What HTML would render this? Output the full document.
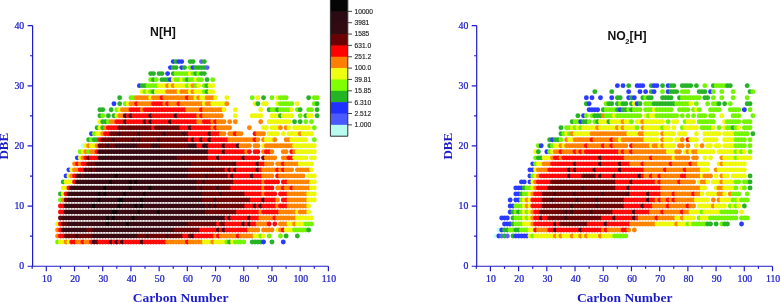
<!DOCTYPE html><html><head><meta charset="utf-8"><style>html,body{margin:0;padding:0;background:#fff;}svg{display:block;}</style></head><body>
<svg width="780" height="303" viewBox="0 0 780 303">
<rect width="780" height="303" fill="#fff"/>
<circle cx="57.58" cy="242.04" r="2.45" fill="#74f400"/>
<circle cx="60.41" cy="242.04" r="2.45" fill="#eef80a"/>
<circle cx="63.23" cy="242.04" r="2.45" fill="#eef80a"/>
<circle cx="66.05" cy="242.04" r="2.45" fill="#ff8400"/>
<circle cx="68.87" cy="242.04" r="2.45" fill="#eef80a"/>
<circle cx="71.69" cy="242.04" r="2.45" fill="#ff0a0a"/>
<circle cx="74.51" cy="242.04" r="2.45" fill="#ff0a0a"/>
<circle cx="77.33" cy="242.04" r="2.45" fill="#ff8400"/>
<circle cx="80.15" cy="242.04" r="2.45" fill="#ff8400"/>
<circle cx="82.97" cy="242.04" r="2.45" fill="#ff0a0a"/>
<circle cx="85.79" cy="242.04" r="2.45" fill="#ff8400"/>
<circle cx="88.62" cy="242.04" r="2.45" fill="#ff8400"/>
<circle cx="91.44" cy="242.04" r="2.45" fill="#ff0a0a"/>
<circle cx="94.26" cy="242.04" r="2.45" fill="#3a0a12"/>
<circle cx="97.08" cy="242.04" r="2.45" fill="#6e0404"/>
<circle cx="99.9" cy="242.04" r="2.45" fill="#ff0a0a"/>
<circle cx="102.72" cy="242.04" r="2.45" fill="#ff0a0a"/>
<circle cx="105.54" cy="242.04" r="2.45" fill="#ff0a0a"/>
<circle cx="108.36" cy="242.04" r="2.45" fill="#ff0a0a"/>
<circle cx="111.18" cy="242.04" r="2.45" fill="#3a0a12"/>
<circle cx="114" cy="242.04" r="2.45" fill="#ff0a0a"/>
<circle cx="116.83" cy="242.04" r="2.45" fill="#3a0a12"/>
<circle cx="119.65" cy="242.04" r="2.45" fill="#ff0a0a"/>
<circle cx="122.47" cy="242.04" r="2.45" fill="#3a0a12"/>
<circle cx="125.29" cy="242.04" r="2.45" fill="#ff0a0a"/>
<circle cx="128.11" cy="242.04" r="2.45" fill="#ff0a0a"/>
<circle cx="130.93" cy="242.04" r="2.45" fill="#ff0a0a"/>
<circle cx="133.75" cy="242.04" r="2.45" fill="#ff0a0a"/>
<circle cx="136.57" cy="242.04" r="2.45" fill="#ff0a0a"/>
<circle cx="139.39" cy="242.04" r="2.45" fill="#ff0a0a"/>
<circle cx="142.21" cy="242.04" r="2.45" fill="#3a0a12"/>
<circle cx="145.03" cy="242.04" r="2.45" fill="#ff0a0a"/>
<circle cx="147.86" cy="242.04" r="2.45" fill="#ff0a0a"/>
<circle cx="150.68" cy="242.04" r="2.45" fill="#ff0a0a"/>
<circle cx="153.5" cy="242.04" r="2.45" fill="#ff0a0a"/>
<circle cx="156.32" cy="242.04" r="2.45" fill="#ff0a0a"/>
<circle cx="159.14" cy="242.04" r="2.45" fill="#ff0a0a"/>
<circle cx="161.96" cy="242.04" r="2.45" fill="#ff0a0a"/>
<circle cx="164.78" cy="242.04" r="2.45" fill="#ff0a0a"/>
<circle cx="167.6" cy="242.04" r="2.45" fill="#ff8400"/>
<circle cx="170.42" cy="242.04" r="2.45" fill="#ff8400"/>
<circle cx="173.25" cy="242.04" r="2.45" fill="#ff8400"/>
<circle cx="176.07" cy="242.04" r="2.45" fill="#ff8400"/>
<circle cx="178.89" cy="242.04" r="2.45" fill="#ff8400"/>
<circle cx="181.71" cy="242.04" r="2.45" fill="#ff8400"/>
<circle cx="184.53" cy="242.04" r="2.45" fill="#ff8400"/>
<circle cx="187.35" cy="242.04" r="2.45" fill="#ff0a0a"/>
<circle cx="190.17" cy="242.04" r="2.45" fill="#ff8400"/>
<circle cx="192.99" cy="242.04" r="2.45" fill="#ff8400"/>
<circle cx="195.81" cy="242.04" r="2.45" fill="#ff8400"/>
<circle cx="198.63" cy="242.04" r="2.45" fill="#ff8400"/>
<circle cx="201.45" cy="242.04" r="2.45" fill="#ff8400"/>
<circle cx="204.28" cy="242.04" r="2.45" fill="#eef80a"/>
<circle cx="207.1" cy="242.04" r="2.45" fill="#eef80a"/>
<circle cx="209.92" cy="242.04" r="2.45" fill="#eef80a"/>
<circle cx="212.74" cy="242.04" r="2.45" fill="#ff8400"/>
<circle cx="215.56" cy="242.04" r="2.45" fill="#eef80a"/>
<circle cx="218.38" cy="242.04" r="2.45" fill="#eef80a"/>
<circle cx="221.2" cy="242.04" r="2.45" fill="#eef80a"/>
<circle cx="224.02" cy="242.04" r="2.45" fill="#eef80a"/>
<circle cx="226.84" cy="242.04" r="2.45" fill="#74f400"/>
<circle cx="229.67" cy="242.04" r="2.45" fill="#26b426"/>
<circle cx="232.49" cy="242.04" r="2.45" fill="#eef80a"/>
<circle cx="235.31" cy="242.04" r="2.45" fill="#74f400"/>
<circle cx="238.13" cy="242.04" r="2.45" fill="#74f400"/>
<circle cx="240.95" cy="242.04" r="2.45" fill="#74f400"/>
<circle cx="243.77" cy="242.04" r="2.45" fill="#74f400"/>
<circle cx="252.23" cy="242.04" r="2.45" fill="#26b426"/>
<circle cx="255.05" cy="242.04" r="2.45" fill="#26b426"/>
<circle cx="257.88" cy="242.04" r="2.45" fill="#26b426"/>
<circle cx="260.7" cy="242.04" r="2.45" fill="#26b426"/>
<circle cx="263.52" cy="242.04" r="2.45" fill="#2a3aff"/>
<circle cx="271.98" cy="242.04" r="2.45" fill="#26b426"/>
<circle cx="283.26" cy="242.04" r="2.45" fill="#2a3aff"/>
<circle cx="57.58" cy="236.03" r="2.45" fill="#ff8400"/>
<circle cx="60.41" cy="236.03" r="2.45" fill="#ff0a0a"/>
<circle cx="63.23" cy="236.03" r="2.45" fill="#ff0a0a"/>
<circle cx="66.05" cy="236.03" r="2.45" fill="#6e0404"/>
<circle cx="68.87" cy="236.03" r="2.45" fill="#6e0404"/>
<circle cx="71.69" cy="236.03" r="2.45" fill="#6e0404"/>
<circle cx="74.51" cy="236.03" r="2.45" fill="#6e0404"/>
<circle cx="77.33" cy="236.03" r="2.45" fill="#3a0a12"/>
<circle cx="80.15" cy="236.03" r="2.45" fill="#6e0404"/>
<circle cx="82.97" cy="236.03" r="2.45" fill="#6e0404"/>
<circle cx="85.79" cy="236.03" r="2.45" fill="#6e0404"/>
<circle cx="88.62" cy="236.03" r="2.45" fill="#6e0404"/>
<circle cx="91.44" cy="236.03" r="2.45" fill="#6e0404"/>
<circle cx="94.26" cy="236.03" r="2.45" fill="#3a0a12"/>
<circle cx="97.08" cy="236.03" r="2.45" fill="#3a0a12"/>
<circle cx="99.9" cy="236.03" r="2.45" fill="#3a0a12"/>
<circle cx="102.72" cy="236.03" r="2.45" fill="#3a0a12"/>
<circle cx="105.54" cy="236.03" r="2.45" fill="#3a0a12"/>
<circle cx="108.36" cy="236.03" r="2.45" fill="#3a0a12"/>
<circle cx="111.18" cy="236.03" r="2.45" fill="#3a0a12"/>
<circle cx="114" cy="236.03" r="2.45" fill="#3a0a12"/>
<circle cx="116.83" cy="236.03" r="2.45" fill="#3a0a12"/>
<circle cx="119.65" cy="236.03" r="2.45" fill="#3a0a12"/>
<circle cx="122.47" cy="236.03" r="2.45" fill="#3a0a12"/>
<circle cx="125.29" cy="236.03" r="2.45" fill="#3a0a12"/>
<circle cx="128.11" cy="236.03" r="2.45" fill="#3a0a12"/>
<circle cx="130.93" cy="236.03" r="2.45" fill="#3a0a12"/>
<circle cx="133.75" cy="236.03" r="2.45" fill="#3a0a12"/>
<circle cx="136.57" cy="236.03" r="2.45" fill="#3a0a12"/>
<circle cx="139.39" cy="236.03" r="2.45" fill="#6e0404"/>
<circle cx="142.21" cy="236.03" r="2.45" fill="#6e0404"/>
<circle cx="145.03" cy="236.03" r="2.45" fill="#6e0404"/>
<circle cx="147.86" cy="236.03" r="2.45" fill="#3a0a12"/>
<circle cx="150.68" cy="236.03" r="2.45" fill="#6e0404"/>
<circle cx="153.5" cy="236.03" r="2.45" fill="#6e0404"/>
<circle cx="156.32" cy="236.03" r="2.45" fill="#6e0404"/>
<circle cx="159.14" cy="236.03" r="2.45" fill="#6e0404"/>
<circle cx="161.96" cy="236.03" r="2.45" fill="#6e0404"/>
<circle cx="164.78" cy="236.03" r="2.45" fill="#6e0404"/>
<circle cx="167.6" cy="236.03" r="2.45" fill="#3a0a12"/>
<circle cx="170.42" cy="236.03" r="2.45" fill="#6e0404"/>
<circle cx="173.25" cy="236.03" r="2.45" fill="#6e0404"/>
<circle cx="176.07" cy="236.03" r="2.45" fill="#6e0404"/>
<circle cx="178.89" cy="236.03" r="2.45" fill="#6e0404"/>
<circle cx="181.71" cy="236.03" r="2.45" fill="#6e0404"/>
<circle cx="184.53" cy="236.03" r="2.45" fill="#ff0a0a"/>
<circle cx="187.35" cy="236.03" r="2.45" fill="#ff0a0a"/>
<circle cx="190.17" cy="236.03" r="2.45" fill="#6e0404"/>
<circle cx="192.99" cy="236.03" r="2.45" fill="#3a0a12"/>
<circle cx="195.81" cy="236.03" r="2.45" fill="#ff0a0a"/>
<circle cx="198.63" cy="236.03" r="2.45" fill="#ff0a0a"/>
<circle cx="201.45" cy="236.03" r="2.45" fill="#ff0a0a"/>
<circle cx="204.28" cy="236.03" r="2.45" fill="#ff0a0a"/>
<circle cx="207.1" cy="236.03" r="2.45" fill="#ff0a0a"/>
<circle cx="209.92" cy="236.03" r="2.45" fill="#ff0a0a"/>
<circle cx="212.74" cy="236.03" r="2.45" fill="#ff0a0a"/>
<circle cx="215.56" cy="236.03" r="2.45" fill="#ff8400"/>
<circle cx="218.38" cy="236.03" r="2.45" fill="#ff0a0a"/>
<circle cx="221.2" cy="236.03" r="2.45" fill="#ff8400"/>
<circle cx="224.02" cy="236.03" r="2.45" fill="#ff8400"/>
<circle cx="226.84" cy="236.03" r="2.45" fill="#ff8400"/>
<circle cx="229.67" cy="236.03" r="2.45" fill="#ff8400"/>
<circle cx="232.49" cy="236.03" r="2.45" fill="#ff8400"/>
<circle cx="235.31" cy="236.03" r="2.45" fill="#ff8400"/>
<circle cx="238.13" cy="236.03" r="2.45" fill="#ff0a0a"/>
<circle cx="240.95" cy="236.03" r="2.45" fill="#ff8400"/>
<circle cx="243.77" cy="236.03" r="2.45" fill="#ff8400"/>
<circle cx="246.59" cy="236.03" r="2.45" fill="#ff8400"/>
<circle cx="249.41" cy="236.03" r="2.45" fill="#ff8400"/>
<circle cx="252.23" cy="236.03" r="2.45" fill="#ff8400"/>
<circle cx="255.05" cy="236.03" r="2.45" fill="#eef80a"/>
<circle cx="257.88" cy="236.03" r="2.45" fill="#eef80a"/>
<circle cx="260.7" cy="236.03" r="2.45" fill="#74f400"/>
<circle cx="263.52" cy="236.03" r="2.45" fill="#eef80a"/>
<circle cx="269.16" cy="236.03" r="2.45" fill="#74f400"/>
<circle cx="280.44" cy="236.03" r="2.45" fill="#74f400"/>
<circle cx="286.09" cy="236.03" r="2.45" fill="#26b426"/>
<circle cx="297.37" cy="236.03" r="2.45" fill="#26b426"/>
<circle cx="57.58" cy="230.01" r="2.45" fill="#ff8400"/>
<circle cx="60.41" cy="230.01" r="2.45" fill="#ff0a0a"/>
<circle cx="63.23" cy="230.01" r="2.45" fill="#3a0a12"/>
<circle cx="66.05" cy="230.01" r="2.45" fill="#3a0a12"/>
<circle cx="68.87" cy="230.01" r="2.45" fill="#3a0a12"/>
<circle cx="71.69" cy="230.01" r="2.45" fill="#3a0a12"/>
<circle cx="74.51" cy="230.01" r="2.45" fill="#3a0a12"/>
<circle cx="77.33" cy="230.01" r="2.45" fill="#3a0a12"/>
<circle cx="80.15" cy="230.01" r="2.45" fill="#3a0a12"/>
<circle cx="82.97" cy="230.01" r="2.45" fill="#3a0a12"/>
<circle cx="85.79" cy="230.01" r="2.45" fill="#3a0a12"/>
<circle cx="88.62" cy="230.01" r="2.45" fill="#6e0404"/>
<circle cx="91.44" cy="230.01" r="2.45" fill="#6e0404"/>
<circle cx="94.26" cy="230.01" r="2.45" fill="#3a0a12"/>
<circle cx="97.08" cy="230.01" r="2.45" fill="#3a0a12"/>
<circle cx="99.9" cy="230.01" r="2.45" fill="#3a0a12"/>
<circle cx="102.72" cy="230.01" r="2.45" fill="#3a0a12"/>
<circle cx="105.54" cy="230.01" r="2.45" fill="#3a0a12"/>
<circle cx="108.36" cy="230.01" r="2.45" fill="#3a0a12"/>
<circle cx="111.18" cy="230.01" r="2.45" fill="#3a0a12"/>
<circle cx="114" cy="230.01" r="2.45" fill="#3a0a12"/>
<circle cx="116.83" cy="230.01" r="2.45" fill="#3a0a12"/>
<circle cx="119.65" cy="230.01" r="2.45" fill="#3a0a12"/>
<circle cx="122.47" cy="230.01" r="2.45" fill="#3a0a12"/>
<circle cx="125.29" cy="230.01" r="2.45" fill="#3a0a12"/>
<circle cx="128.11" cy="230.01" r="2.45" fill="#3a0a12"/>
<circle cx="130.93" cy="230.01" r="2.45" fill="#3a0a12"/>
<circle cx="133.75" cy="230.01" r="2.45" fill="#3a0a12"/>
<circle cx="136.57" cy="230.01" r="2.45" fill="#3a0a12"/>
<circle cx="139.39" cy="230.01" r="2.45" fill="#3a0a12"/>
<circle cx="142.21" cy="230.01" r="2.45" fill="#3a0a12"/>
<circle cx="145.03" cy="230.01" r="2.45" fill="#3a0a12"/>
<circle cx="147.86" cy="230.01" r="2.45" fill="#3a0a12"/>
<circle cx="150.68" cy="230.01" r="2.45" fill="#3a0a12"/>
<circle cx="153.5" cy="230.01" r="2.45" fill="#3a0a12"/>
<circle cx="156.32" cy="230.01" r="2.45" fill="#3a0a12"/>
<circle cx="159.14" cy="230.01" r="2.45" fill="#3a0a12"/>
<circle cx="161.96" cy="230.01" r="2.45" fill="#3a0a12"/>
<circle cx="164.78" cy="230.01" r="2.45" fill="#3a0a12"/>
<circle cx="167.6" cy="230.01" r="2.45" fill="#3a0a12"/>
<circle cx="170.42" cy="230.01" r="2.45" fill="#3a0a12"/>
<circle cx="173.25" cy="230.01" r="2.45" fill="#3a0a12"/>
<circle cx="176.07" cy="230.01" r="2.45" fill="#6e0404"/>
<circle cx="178.89" cy="230.01" r="2.45" fill="#6e0404"/>
<circle cx="181.71" cy="230.01" r="2.45" fill="#6e0404"/>
<circle cx="184.53" cy="230.01" r="2.45" fill="#6e0404"/>
<circle cx="187.35" cy="230.01" r="2.45" fill="#6e0404"/>
<circle cx="190.17" cy="230.01" r="2.45" fill="#6e0404"/>
<circle cx="192.99" cy="230.01" r="2.45" fill="#6e0404"/>
<circle cx="195.81" cy="230.01" r="2.45" fill="#6e0404"/>
<circle cx="198.63" cy="230.01" r="2.45" fill="#6e0404"/>
<circle cx="201.45" cy="230.01" r="2.45" fill="#ff0a0a"/>
<circle cx="204.28" cy="230.01" r="2.45" fill="#ff0a0a"/>
<circle cx="207.1" cy="230.01" r="2.45" fill="#ff0a0a"/>
<circle cx="209.92" cy="230.01" r="2.45" fill="#ff0a0a"/>
<circle cx="212.74" cy="230.01" r="2.45" fill="#ff0a0a"/>
<circle cx="215.56" cy="230.01" r="2.45" fill="#ff0a0a"/>
<circle cx="218.38" cy="230.01" r="2.45" fill="#3a0a12"/>
<circle cx="221.2" cy="230.01" r="2.45" fill="#ff0a0a"/>
<circle cx="224.02" cy="230.01" r="2.45" fill="#3a0a12"/>
<circle cx="226.84" cy="230.01" r="2.45" fill="#ff0a0a"/>
<circle cx="229.67" cy="230.01" r="2.45" fill="#ff0a0a"/>
<circle cx="232.49" cy="230.01" r="2.45" fill="#ff0a0a"/>
<circle cx="235.31" cy="230.01" r="2.45" fill="#ff0a0a"/>
<circle cx="238.13" cy="230.01" r="2.45" fill="#ff0a0a"/>
<circle cx="240.95" cy="230.01" r="2.45" fill="#ff0a0a"/>
<circle cx="243.77" cy="230.01" r="2.45" fill="#ff0a0a"/>
<circle cx="246.59" cy="230.01" r="2.45" fill="#ff0a0a"/>
<circle cx="249.41" cy="230.01" r="2.45" fill="#ff8400"/>
<circle cx="252.23" cy="230.01" r="2.45" fill="#ff8400"/>
<circle cx="255.05" cy="230.01" r="2.45" fill="#ff8400"/>
<circle cx="257.88" cy="230.01" r="2.45" fill="#ff8400"/>
<circle cx="263.52" cy="230.01" r="2.45" fill="#ff8400"/>
<circle cx="266.34" cy="230.01" r="2.45" fill="#ff8400"/>
<circle cx="269.16" cy="230.01" r="2.45" fill="#ff8400"/>
<circle cx="271.98" cy="230.01" r="2.45" fill="#ff8400"/>
<circle cx="277.62" cy="230.01" r="2.45" fill="#eef80a"/>
<circle cx="280.44" cy="230.01" r="2.45" fill="#ff8400"/>
<circle cx="283.26" cy="230.01" r="2.45" fill="#ff0a0a"/>
<circle cx="286.09" cy="230.01" r="2.45" fill="#eef80a"/>
<circle cx="288.91" cy="230.01" r="2.45" fill="#eef80a"/>
<circle cx="291.73" cy="230.01" r="2.45" fill="#eef80a"/>
<circle cx="294.55" cy="230.01" r="2.45" fill="#74f400"/>
<circle cx="297.37" cy="230.01" r="2.45" fill="#74f400"/>
<circle cx="300.19" cy="230.01" r="2.45" fill="#74f400"/>
<circle cx="303.01" cy="230.01" r="2.45" fill="#74f400"/>
<circle cx="305.83" cy="230.01" r="2.45" fill="#74f400"/>
<circle cx="308.65" cy="230.01" r="2.45" fill="#26b426"/>
<circle cx="57.58" cy="224" r="2.45" fill="#eef80a"/>
<circle cx="60.41" cy="224" r="2.45" fill="#ff0a0a"/>
<circle cx="63.23" cy="224" r="2.45" fill="#6e0404"/>
<circle cx="66.05" cy="224" r="2.45" fill="#6e0404"/>
<circle cx="68.87" cy="224" r="2.45" fill="#3a0a12"/>
<circle cx="71.69" cy="224" r="2.45" fill="#3a0a12"/>
<circle cx="74.51" cy="224" r="2.45" fill="#3a0a12"/>
<circle cx="77.33" cy="224" r="2.45" fill="#3a0a12"/>
<circle cx="80.15" cy="224" r="2.45" fill="#3a0a12"/>
<circle cx="82.97" cy="224" r="2.45" fill="#3a0a12"/>
<circle cx="85.79" cy="224" r="2.45" fill="#3a0a12"/>
<circle cx="88.62" cy="224" r="2.45" fill="#3a0a12"/>
<circle cx="91.44" cy="224" r="2.45" fill="#3a0a12"/>
<circle cx="94.26" cy="224" r="2.45" fill="#3a0a12"/>
<circle cx="97.08" cy="224" r="2.45" fill="#3a0a12"/>
<circle cx="99.9" cy="224" r="2.45" fill="#3a0a12"/>
<circle cx="102.72" cy="224" r="2.45" fill="#3a0a12"/>
<circle cx="105.54" cy="224" r="2.45" fill="#3a0a12"/>
<circle cx="108.36" cy="224" r="2.45" fill="#0c0406"/>
<circle cx="111.18" cy="224" r="2.45" fill="#3a0a12"/>
<circle cx="114" cy="224" r="2.45" fill="#3a0a12"/>
<circle cx="116.83" cy="224" r="2.45" fill="#3a0a12"/>
<circle cx="119.65" cy="224" r="2.45" fill="#3a0a12"/>
<circle cx="122.47" cy="224" r="2.45" fill="#3a0a12"/>
<circle cx="125.29" cy="224" r="2.45" fill="#3a0a12"/>
<circle cx="128.11" cy="224" r="2.45" fill="#0c0406"/>
<circle cx="130.93" cy="224" r="2.45" fill="#3a0a12"/>
<circle cx="133.75" cy="224" r="2.45" fill="#3a0a12"/>
<circle cx="136.57" cy="224" r="2.45" fill="#3a0a12"/>
<circle cx="139.39" cy="224" r="2.45" fill="#3a0a12"/>
<circle cx="142.21" cy="224" r="2.45" fill="#3a0a12"/>
<circle cx="145.03" cy="224" r="2.45" fill="#3a0a12"/>
<circle cx="147.86" cy="224" r="2.45" fill="#3a0a12"/>
<circle cx="150.68" cy="224" r="2.45" fill="#3a0a12"/>
<circle cx="153.5" cy="224" r="2.45" fill="#3a0a12"/>
<circle cx="156.32" cy="224" r="2.45" fill="#3a0a12"/>
<circle cx="159.14" cy="224" r="2.45" fill="#3a0a12"/>
<circle cx="161.96" cy="224" r="2.45" fill="#3a0a12"/>
<circle cx="164.78" cy="224" r="2.45" fill="#3a0a12"/>
<circle cx="167.6" cy="224" r="2.45" fill="#3a0a12"/>
<circle cx="170.42" cy="224" r="2.45" fill="#3a0a12"/>
<circle cx="173.25" cy="224" r="2.45" fill="#3a0a12"/>
<circle cx="176.07" cy="224" r="2.45" fill="#3a0a12"/>
<circle cx="178.89" cy="224" r="2.45" fill="#3a0a12"/>
<circle cx="181.71" cy="224" r="2.45" fill="#3a0a12"/>
<circle cx="184.53" cy="224" r="2.45" fill="#3a0a12"/>
<circle cx="187.35" cy="224" r="2.45" fill="#3a0a12"/>
<circle cx="190.17" cy="224" r="2.45" fill="#6e0404"/>
<circle cx="192.99" cy="224" r="2.45" fill="#6e0404"/>
<circle cx="195.81" cy="224" r="2.45" fill="#6e0404"/>
<circle cx="198.63" cy="224" r="2.45" fill="#6e0404"/>
<circle cx="201.45" cy="224" r="2.45" fill="#6e0404"/>
<circle cx="204.28" cy="224" r="2.45" fill="#6e0404"/>
<circle cx="207.1" cy="224" r="2.45" fill="#6e0404"/>
<circle cx="209.92" cy="224" r="2.45" fill="#6e0404"/>
<circle cx="212.74" cy="224" r="2.45" fill="#6e0404"/>
<circle cx="215.56" cy="224" r="2.45" fill="#6e0404"/>
<circle cx="218.38" cy="224" r="2.45" fill="#ff0a0a"/>
<circle cx="221.2" cy="224" r="2.45" fill="#6e0404"/>
<circle cx="224.02" cy="224" r="2.45" fill="#6e0404"/>
<circle cx="226.84" cy="224" r="2.45" fill="#ff0a0a"/>
<circle cx="229.67" cy="224" r="2.45" fill="#ff0a0a"/>
<circle cx="232.49" cy="224" r="2.45" fill="#ff0a0a"/>
<circle cx="235.31" cy="224" r="2.45" fill="#ff0a0a"/>
<circle cx="238.13" cy="224" r="2.45" fill="#ff0a0a"/>
<circle cx="240.95" cy="224" r="2.45" fill="#ff0a0a"/>
<circle cx="243.77" cy="224" r="2.45" fill="#3a0a12"/>
<circle cx="246.59" cy="224" r="2.45" fill="#ff0a0a"/>
<circle cx="249.41" cy="224" r="2.45" fill="#3a0a12"/>
<circle cx="252.23" cy="224" r="2.45" fill="#ff0a0a"/>
<circle cx="255.05" cy="224" r="2.45" fill="#ff0a0a"/>
<circle cx="257.88" cy="224" r="2.45" fill="#ff8400"/>
<circle cx="260.7" cy="224" r="2.45" fill="#ff8400"/>
<circle cx="263.52" cy="224" r="2.45" fill="#ff8400"/>
<circle cx="266.34" cy="224" r="2.45" fill="#ff8400"/>
<circle cx="269.16" cy="224" r="2.45" fill="#ff0a0a"/>
<circle cx="274.8" cy="224" r="2.45" fill="#ff0a0a"/>
<circle cx="280.44" cy="224" r="2.45" fill="#ff8400"/>
<circle cx="283.26" cy="224" r="2.45" fill="#ff8400"/>
<circle cx="286.09" cy="224" r="2.45" fill="#ff8400"/>
<circle cx="288.91" cy="224" r="2.45" fill="#eef80a"/>
<circle cx="291.73" cy="224" r="2.45" fill="#eef80a"/>
<circle cx="294.55" cy="224" r="2.45" fill="#ff8400"/>
<circle cx="297.37" cy="224" r="2.45" fill="#eef80a"/>
<circle cx="300.19" cy="224" r="2.45" fill="#eef80a"/>
<circle cx="303.01" cy="224" r="2.45" fill="#eef80a"/>
<circle cx="305.83" cy="224" r="2.45" fill="#74f400"/>
<circle cx="308.65" cy="224" r="2.45" fill="#74f400"/>
<circle cx="311.47" cy="224" r="2.45" fill="#74f400"/>
<circle cx="60.41" cy="217.98" r="2.45" fill="#6e0404"/>
<circle cx="63.23" cy="217.98" r="2.45" fill="#3a0a12"/>
<circle cx="66.05" cy="217.98" r="2.45" fill="#3a0a12"/>
<circle cx="68.87" cy="217.98" r="2.45" fill="#3a0a12"/>
<circle cx="71.69" cy="217.98" r="2.45" fill="#3a0a12"/>
<circle cx="74.51" cy="217.98" r="2.45" fill="#3a0a12"/>
<circle cx="77.33" cy="217.98" r="2.45" fill="#3a0a12"/>
<circle cx="80.15" cy="217.98" r="2.45" fill="#3a0a12"/>
<circle cx="82.97" cy="217.98" r="2.45" fill="#3a0a12"/>
<circle cx="85.79" cy="217.98" r="2.45" fill="#3a0a12"/>
<circle cx="88.62" cy="217.98" r="2.45" fill="#3a0a12"/>
<circle cx="91.44" cy="217.98" r="2.45" fill="#3a0a12"/>
<circle cx="94.26" cy="217.98" r="2.45" fill="#3a0a12"/>
<circle cx="97.08" cy="217.98" r="2.45" fill="#3a0a12"/>
<circle cx="99.9" cy="217.98" r="2.45" fill="#3a0a12"/>
<circle cx="102.72" cy="217.98" r="2.45" fill="#3a0a12"/>
<circle cx="105.54" cy="217.98" r="2.45" fill="#3a0a12"/>
<circle cx="108.36" cy="217.98" r="2.45" fill="#0c0406"/>
<circle cx="111.18" cy="217.98" r="2.45" fill="#3a0a12"/>
<circle cx="114" cy="217.98" r="2.45" fill="#0c0406"/>
<circle cx="116.83" cy="217.98" r="2.45" fill="#3a0a12"/>
<circle cx="119.65" cy="217.98" r="2.45" fill="#3a0a12"/>
<circle cx="122.47" cy="217.98" r="2.45" fill="#3a0a12"/>
<circle cx="125.29" cy="217.98" r="2.45" fill="#3a0a12"/>
<circle cx="128.11" cy="217.98" r="2.45" fill="#3a0a12"/>
<circle cx="130.93" cy="217.98" r="2.45" fill="#3a0a12"/>
<circle cx="133.75" cy="217.98" r="2.45" fill="#0c0406"/>
<circle cx="136.57" cy="217.98" r="2.45" fill="#3a0a12"/>
<circle cx="139.39" cy="217.98" r="2.45" fill="#3a0a12"/>
<circle cx="142.21" cy="217.98" r="2.45" fill="#3a0a12"/>
<circle cx="145.03" cy="217.98" r="2.45" fill="#3a0a12"/>
<circle cx="147.86" cy="217.98" r="2.45" fill="#3a0a12"/>
<circle cx="150.68" cy="217.98" r="2.45" fill="#3a0a12"/>
<circle cx="153.5" cy="217.98" r="2.45" fill="#3a0a12"/>
<circle cx="156.32" cy="217.98" r="2.45" fill="#3a0a12"/>
<circle cx="159.14" cy="217.98" r="2.45" fill="#3a0a12"/>
<circle cx="161.96" cy="217.98" r="2.45" fill="#3a0a12"/>
<circle cx="164.78" cy="217.98" r="2.45" fill="#3a0a12"/>
<circle cx="167.6" cy="217.98" r="2.45" fill="#3a0a12"/>
<circle cx="170.42" cy="217.98" r="2.45" fill="#3a0a12"/>
<circle cx="173.25" cy="217.98" r="2.45" fill="#3a0a12"/>
<circle cx="176.07" cy="217.98" r="2.45" fill="#3a0a12"/>
<circle cx="178.89" cy="217.98" r="2.45" fill="#3a0a12"/>
<circle cx="181.71" cy="217.98" r="2.45" fill="#3a0a12"/>
<circle cx="184.53" cy="217.98" r="2.45" fill="#3a0a12"/>
<circle cx="187.35" cy="217.98" r="2.45" fill="#3a0a12"/>
<circle cx="190.17" cy="217.98" r="2.45" fill="#3a0a12"/>
<circle cx="192.99" cy="217.98" r="2.45" fill="#3a0a12"/>
<circle cx="195.81" cy="217.98" r="2.45" fill="#3a0a12"/>
<circle cx="198.63" cy="217.98" r="2.45" fill="#3a0a12"/>
<circle cx="201.45" cy="217.98" r="2.45" fill="#3a0a12"/>
<circle cx="204.28" cy="217.98" r="2.45" fill="#3a0a12"/>
<circle cx="207.1" cy="217.98" r="2.45" fill="#3a0a12"/>
<circle cx="209.92" cy="217.98" r="2.45" fill="#3a0a12"/>
<circle cx="212.74" cy="217.98" r="2.45" fill="#3a0a12"/>
<circle cx="215.56" cy="217.98" r="2.45" fill="#3a0a12"/>
<circle cx="218.38" cy="217.98" r="2.45" fill="#3a0a12"/>
<circle cx="221.2" cy="217.98" r="2.45" fill="#3a0a12"/>
<circle cx="224.02" cy="217.98" r="2.45" fill="#3a0a12"/>
<circle cx="226.84" cy="217.98" r="2.45" fill="#ff0a0a"/>
<circle cx="229.67" cy="217.98" r="2.45" fill="#3a0a12"/>
<circle cx="232.49" cy="217.98" r="2.45" fill="#ff0a0a"/>
<circle cx="235.31" cy="217.98" r="2.45" fill="#ff0a0a"/>
<circle cx="238.13" cy="217.98" r="2.45" fill="#ff0a0a"/>
<circle cx="240.95" cy="217.98" r="2.45" fill="#ff0a0a"/>
<circle cx="243.77" cy="217.98" r="2.45" fill="#ff0a0a"/>
<circle cx="246.59" cy="217.98" r="2.45" fill="#ff0a0a"/>
<circle cx="249.41" cy="217.98" r="2.45" fill="#3a0a12"/>
<circle cx="252.23" cy="217.98" r="2.45" fill="#ff0a0a"/>
<circle cx="255.05" cy="217.98" r="2.45" fill="#ff0a0a"/>
<circle cx="257.88" cy="217.98" r="2.45" fill="#ff0a0a"/>
<circle cx="260.7" cy="217.98" r="2.45" fill="#ff8400"/>
<circle cx="263.52" cy="217.98" r="2.45" fill="#ff8400"/>
<circle cx="266.34" cy="217.98" r="2.45" fill="#ff8400"/>
<circle cx="269.16" cy="217.98" r="2.45" fill="#ff8400"/>
<circle cx="271.98" cy="217.98" r="2.45" fill="#ff8400"/>
<circle cx="274.8" cy="217.98" r="2.45" fill="#ff0a0a"/>
<circle cx="277.62" cy="217.98" r="2.45" fill="#ff8400"/>
<circle cx="280.44" cy="217.98" r="2.45" fill="#ff8400"/>
<circle cx="283.26" cy="217.98" r="2.45" fill="#ff8400"/>
<circle cx="286.09" cy="217.98" r="2.45" fill="#ff8400"/>
<circle cx="288.91" cy="217.98" r="2.45" fill="#ff8400"/>
<circle cx="291.73" cy="217.98" r="2.45" fill="#ff8400"/>
<circle cx="294.55" cy="217.98" r="2.45" fill="#ff8400"/>
<circle cx="297.37" cy="217.98" r="2.45" fill="#eef80a"/>
<circle cx="300.19" cy="217.98" r="2.45" fill="#eef80a"/>
<circle cx="303.01" cy="217.98" r="2.45" fill="#eef80a"/>
<circle cx="305.83" cy="217.98" r="2.45" fill="#eef80a"/>
<circle cx="308.65" cy="217.98" r="2.45" fill="#eef80a"/>
<circle cx="311.47" cy="217.98" r="2.45" fill="#eef80a"/>
<circle cx="60.41" cy="211.97" r="2.45" fill="#ff0a0a"/>
<circle cx="63.23" cy="211.97" r="2.45" fill="#ff0a0a"/>
<circle cx="66.05" cy="211.97" r="2.45" fill="#3a0a12"/>
<circle cx="68.87" cy="211.97" r="2.45" fill="#3a0a12"/>
<circle cx="71.69" cy="211.97" r="2.45" fill="#3a0a12"/>
<circle cx="74.51" cy="211.97" r="2.45" fill="#3a0a12"/>
<circle cx="77.33" cy="211.97" r="2.45" fill="#3a0a12"/>
<circle cx="80.15" cy="211.97" r="2.45" fill="#3a0a12"/>
<circle cx="82.97" cy="211.97" r="2.45" fill="#3a0a12"/>
<circle cx="85.79" cy="211.97" r="2.45" fill="#3a0a12"/>
<circle cx="88.62" cy="211.97" r="2.45" fill="#3a0a12"/>
<circle cx="91.44" cy="211.97" r="2.45" fill="#3a0a12"/>
<circle cx="94.26" cy="211.97" r="2.45" fill="#3a0a12"/>
<circle cx="97.08" cy="211.97" r="2.45" fill="#3a0a12"/>
<circle cx="99.9" cy="211.97" r="2.45" fill="#3a0a12"/>
<circle cx="102.72" cy="211.97" r="2.45" fill="#3a0a12"/>
<circle cx="105.54" cy="211.97" r="2.45" fill="#3a0a12"/>
<circle cx="108.36" cy="211.97" r="2.45" fill="#3a0a12"/>
<circle cx="111.18" cy="211.97" r="2.45" fill="#3a0a12"/>
<circle cx="114" cy="211.97" r="2.45" fill="#0c0406"/>
<circle cx="116.83" cy="211.97" r="2.45" fill="#0c0406"/>
<circle cx="119.65" cy="211.97" r="2.45" fill="#3a0a12"/>
<circle cx="122.47" cy="211.97" r="2.45" fill="#3a0a12"/>
<circle cx="125.29" cy="211.97" r="2.45" fill="#3a0a12"/>
<circle cx="128.11" cy="211.97" r="2.45" fill="#3a0a12"/>
<circle cx="130.93" cy="211.97" r="2.45" fill="#3a0a12"/>
<circle cx="133.75" cy="211.97" r="2.45" fill="#3a0a12"/>
<circle cx="136.57" cy="211.97" r="2.45" fill="#3a0a12"/>
<circle cx="139.39" cy="211.97" r="2.45" fill="#0c0406"/>
<circle cx="142.21" cy="211.97" r="2.45" fill="#3a0a12"/>
<circle cx="145.03" cy="211.97" r="2.45" fill="#3a0a12"/>
<circle cx="147.86" cy="211.97" r="2.45" fill="#3a0a12"/>
<circle cx="150.68" cy="211.97" r="2.45" fill="#3a0a12"/>
<circle cx="153.5" cy="211.97" r="2.45" fill="#3a0a12"/>
<circle cx="156.32" cy="211.97" r="2.45" fill="#3a0a12"/>
<circle cx="159.14" cy="211.97" r="2.45" fill="#0c0406"/>
<circle cx="161.96" cy="211.97" r="2.45" fill="#3a0a12"/>
<circle cx="164.78" cy="211.97" r="2.45" fill="#3a0a12"/>
<circle cx="167.6" cy="211.97" r="2.45" fill="#3a0a12"/>
<circle cx="170.42" cy="211.97" r="2.45" fill="#3a0a12"/>
<circle cx="173.25" cy="211.97" r="2.45" fill="#3a0a12"/>
<circle cx="176.07" cy="211.97" r="2.45" fill="#3a0a12"/>
<circle cx="178.89" cy="211.97" r="2.45" fill="#3a0a12"/>
<circle cx="181.71" cy="211.97" r="2.45" fill="#3a0a12"/>
<circle cx="184.53" cy="211.97" r="2.45" fill="#3a0a12"/>
<circle cx="187.35" cy="211.97" r="2.45" fill="#3a0a12"/>
<circle cx="190.17" cy="211.97" r="2.45" fill="#3a0a12"/>
<circle cx="192.99" cy="211.97" r="2.45" fill="#3a0a12"/>
<circle cx="195.81" cy="211.97" r="2.45" fill="#3a0a12"/>
<circle cx="198.63" cy="211.97" r="2.45" fill="#3a0a12"/>
<circle cx="201.45" cy="211.97" r="2.45" fill="#3a0a12"/>
<circle cx="204.28" cy="211.97" r="2.45" fill="#3a0a12"/>
<circle cx="207.1" cy="211.97" r="2.45" fill="#6e0404"/>
<circle cx="209.92" cy="211.97" r="2.45" fill="#6e0404"/>
<circle cx="212.74" cy="211.97" r="2.45" fill="#6e0404"/>
<circle cx="215.56" cy="211.97" r="2.45" fill="#6e0404"/>
<circle cx="218.38" cy="211.97" r="2.45" fill="#6e0404"/>
<circle cx="221.2" cy="211.97" r="2.45" fill="#6e0404"/>
<circle cx="224.02" cy="211.97" r="2.45" fill="#6e0404"/>
<circle cx="226.84" cy="211.97" r="2.45" fill="#6e0404"/>
<circle cx="229.67" cy="211.97" r="2.45" fill="#6e0404"/>
<circle cx="232.49" cy="211.97" r="2.45" fill="#6e0404"/>
<circle cx="235.31" cy="211.97" r="2.45" fill="#6e0404"/>
<circle cx="238.13" cy="211.97" r="2.45" fill="#ff0a0a"/>
<circle cx="240.95" cy="211.97" r="2.45" fill="#ff0a0a"/>
<circle cx="243.77" cy="211.97" r="2.45" fill="#ff0a0a"/>
<circle cx="246.59" cy="211.97" r="2.45" fill="#ff0a0a"/>
<circle cx="249.41" cy="211.97" r="2.45" fill="#ff0a0a"/>
<circle cx="252.23" cy="211.97" r="2.45" fill="#ff0a0a"/>
<circle cx="255.05" cy="211.97" r="2.45" fill="#ff0a0a"/>
<circle cx="257.88" cy="211.97" r="2.45" fill="#ff0a0a"/>
<circle cx="260.7" cy="211.97" r="2.45" fill="#ff8400"/>
<circle cx="263.52" cy="211.97" r="2.45" fill="#ff0a0a"/>
<circle cx="266.34" cy="211.97" r="2.45" fill="#ff0a0a"/>
<circle cx="269.16" cy="211.97" r="2.45" fill="#ff0a0a"/>
<circle cx="271.98" cy="211.97" r="2.45" fill="#ff0a0a"/>
<circle cx="274.8" cy="211.97" r="2.45" fill="#ff0a0a"/>
<circle cx="277.62" cy="211.97" r="2.45" fill="#ff0a0a"/>
<circle cx="280.44" cy="211.97" r="2.45" fill="#ff8400"/>
<circle cx="283.26" cy="211.97" r="2.45" fill="#ff8400"/>
<circle cx="286.09" cy="211.97" r="2.45" fill="#ff8400"/>
<circle cx="288.91" cy="211.97" r="2.45" fill="#ff8400"/>
<circle cx="291.73" cy="211.97" r="2.45" fill="#ff8400"/>
<circle cx="294.55" cy="211.97" r="2.45" fill="#ff8400"/>
<circle cx="297.37" cy="211.97" r="2.45" fill="#eef80a"/>
<circle cx="300.19" cy="211.97" r="2.45" fill="#ff8400"/>
<circle cx="303.01" cy="211.97" r="2.45" fill="#ff8400"/>
<circle cx="305.83" cy="211.97" r="2.45" fill="#ff8400"/>
<circle cx="308.65" cy="211.97" r="2.45" fill="#eef80a"/>
<circle cx="60.41" cy="205.95" r="2.45" fill="#ff0a0a"/>
<circle cx="63.23" cy="205.95" r="2.45" fill="#ff0a0a"/>
<circle cx="66.05" cy="205.95" r="2.45" fill="#3a0a12"/>
<circle cx="68.87" cy="205.95" r="2.45" fill="#3a0a12"/>
<circle cx="71.69" cy="205.95" r="2.45" fill="#3a0a12"/>
<circle cx="74.51" cy="205.95" r="2.45" fill="#3a0a12"/>
<circle cx="77.33" cy="205.95" r="2.45" fill="#3a0a12"/>
<circle cx="80.15" cy="205.95" r="2.45" fill="#3a0a12"/>
<circle cx="82.97" cy="205.95" r="2.45" fill="#3a0a12"/>
<circle cx="85.79" cy="205.95" r="2.45" fill="#3a0a12"/>
<circle cx="88.62" cy="205.95" r="2.45" fill="#3a0a12"/>
<circle cx="91.44" cy="205.95" r="2.45" fill="#3a0a12"/>
<circle cx="94.26" cy="205.95" r="2.45" fill="#0c0406"/>
<circle cx="97.08" cy="205.95" r="2.45" fill="#3a0a12"/>
<circle cx="99.9" cy="205.95" r="2.45" fill="#3a0a12"/>
<circle cx="102.72" cy="205.95" r="2.45" fill="#3a0a12"/>
<circle cx="105.54" cy="205.95" r="2.45" fill="#3a0a12"/>
<circle cx="108.36" cy="205.95" r="2.45" fill="#3a0a12"/>
<circle cx="111.18" cy="205.95" r="2.45" fill="#3a0a12"/>
<circle cx="114" cy="205.95" r="2.45" fill="#3a0a12"/>
<circle cx="116.83" cy="205.95" r="2.45" fill="#3a0a12"/>
<circle cx="119.65" cy="205.95" r="2.45" fill="#0c0406"/>
<circle cx="122.47" cy="205.95" r="2.45" fill="#3a0a12"/>
<circle cx="125.29" cy="205.95" r="2.45" fill="#3a0a12"/>
<circle cx="128.11" cy="205.95" r="2.45" fill="#3a0a12"/>
<circle cx="130.93" cy="205.95" r="2.45" fill="#3a0a12"/>
<circle cx="133.75" cy="205.95" r="2.45" fill="#3a0a12"/>
<circle cx="136.57" cy="205.95" r="2.45" fill="#0c0406"/>
<circle cx="139.39" cy="205.95" r="2.45" fill="#3a0a12"/>
<circle cx="142.21" cy="205.95" r="2.45" fill="#0c0406"/>
<circle cx="145.03" cy="205.95" r="2.45" fill="#3a0a12"/>
<circle cx="147.86" cy="205.95" r="2.45" fill="#3a0a12"/>
<circle cx="150.68" cy="205.95" r="2.45" fill="#3a0a12"/>
<circle cx="153.5" cy="205.95" r="2.45" fill="#3a0a12"/>
<circle cx="156.32" cy="205.95" r="2.45" fill="#3a0a12"/>
<circle cx="159.14" cy="205.95" r="2.45" fill="#3a0a12"/>
<circle cx="161.96" cy="205.95" r="2.45" fill="#3a0a12"/>
<circle cx="164.78" cy="205.95" r="2.45" fill="#3a0a12"/>
<circle cx="167.6" cy="205.95" r="2.45" fill="#3a0a12"/>
<circle cx="170.42" cy="205.95" r="2.45" fill="#3a0a12"/>
<circle cx="173.25" cy="205.95" r="2.45" fill="#3a0a12"/>
<circle cx="176.07" cy="205.95" r="2.45" fill="#3a0a12"/>
<circle cx="178.89" cy="205.95" r="2.45" fill="#3a0a12"/>
<circle cx="181.71" cy="205.95" r="2.45" fill="#3a0a12"/>
<circle cx="184.53" cy="205.95" r="2.45" fill="#3a0a12"/>
<circle cx="187.35" cy="205.95" r="2.45" fill="#3a0a12"/>
<circle cx="190.17" cy="205.95" r="2.45" fill="#3a0a12"/>
<circle cx="192.99" cy="205.95" r="2.45" fill="#3a0a12"/>
<circle cx="195.81" cy="205.95" r="2.45" fill="#3a0a12"/>
<circle cx="198.63" cy="205.95" r="2.45" fill="#3a0a12"/>
<circle cx="201.45" cy="205.95" r="2.45" fill="#3a0a12"/>
<circle cx="204.28" cy="205.95" r="2.45" fill="#3a0a12"/>
<circle cx="207.1" cy="205.95" r="2.45" fill="#6e0404"/>
<circle cx="209.92" cy="205.95" r="2.45" fill="#3a0a12"/>
<circle cx="212.74" cy="205.95" r="2.45" fill="#6e0404"/>
<circle cx="215.56" cy="205.95" r="2.45" fill="#3a0a12"/>
<circle cx="218.38" cy="205.95" r="2.45" fill="#6e0404"/>
<circle cx="221.2" cy="205.95" r="2.45" fill="#6e0404"/>
<circle cx="224.02" cy="205.95" r="2.45" fill="#6e0404"/>
<circle cx="226.84" cy="205.95" r="2.45" fill="#6e0404"/>
<circle cx="229.67" cy="205.95" r="2.45" fill="#6e0404"/>
<circle cx="232.49" cy="205.95" r="2.45" fill="#6e0404"/>
<circle cx="235.31" cy="205.95" r="2.45" fill="#6e0404"/>
<circle cx="238.13" cy="205.95" r="2.45" fill="#6e0404"/>
<circle cx="240.95" cy="205.95" r="2.45" fill="#6e0404"/>
<circle cx="243.77" cy="205.95" r="2.45" fill="#6e0404"/>
<circle cx="246.59" cy="205.95" r="2.45" fill="#ff0a0a"/>
<circle cx="249.41" cy="205.95" r="2.45" fill="#ff0a0a"/>
<circle cx="252.23" cy="205.95" r="2.45" fill="#ff0a0a"/>
<circle cx="255.05" cy="205.95" r="2.45" fill="#3a0a12"/>
<circle cx="257.88" cy="205.95" r="2.45" fill="#ff0a0a"/>
<circle cx="260.7" cy="205.95" r="2.45" fill="#3a0a12"/>
<circle cx="263.52" cy="205.95" r="2.45" fill="#ff0a0a"/>
<circle cx="266.34" cy="205.95" r="2.45" fill="#ff0a0a"/>
<circle cx="269.16" cy="205.95" r="2.45" fill="#ff0a0a"/>
<circle cx="271.98" cy="205.95" r="2.45" fill="#ff0a0a"/>
<circle cx="274.8" cy="205.95" r="2.45" fill="#ff0a0a"/>
<circle cx="277.62" cy="205.95" r="2.45" fill="#ff8400"/>
<circle cx="280.44" cy="205.95" r="2.45" fill="#ff0a0a"/>
<circle cx="283.26" cy="205.95" r="2.45" fill="#ff0a0a"/>
<circle cx="286.09" cy="205.95" r="2.45" fill="#ff0a0a"/>
<circle cx="288.91" cy="205.95" r="2.45" fill="#ff8400"/>
<circle cx="291.73" cy="205.95" r="2.45" fill="#ff8400"/>
<circle cx="294.55" cy="205.95" r="2.45" fill="#ff8400"/>
<circle cx="297.37" cy="205.95" r="2.45" fill="#ff8400"/>
<circle cx="300.19" cy="205.95" r="2.45" fill="#ff8400"/>
<circle cx="303.01" cy="205.95" r="2.45" fill="#ff8400"/>
<circle cx="305.83" cy="205.95" r="2.45" fill="#ff8400"/>
<circle cx="308.65" cy="205.95" r="2.45" fill="#eef80a"/>
<circle cx="60.41" cy="199.94" r="2.45" fill="#74f400"/>
<circle cx="63.23" cy="199.94" r="2.45" fill="#ff8400"/>
<circle cx="66.05" cy="199.94" r="2.45" fill="#6e0404"/>
<circle cx="68.87" cy="199.94" r="2.45" fill="#3a0a12"/>
<circle cx="71.69" cy="199.94" r="2.45" fill="#3a0a12"/>
<circle cx="74.51" cy="199.94" r="2.45" fill="#3a0a12"/>
<circle cx="77.33" cy="199.94" r="2.45" fill="#3a0a12"/>
<circle cx="80.15" cy="199.94" r="2.45" fill="#3a0a12"/>
<circle cx="82.97" cy="199.94" r="2.45" fill="#3a0a12"/>
<circle cx="85.79" cy="199.94" r="2.45" fill="#3a0a12"/>
<circle cx="88.62" cy="199.94" r="2.45" fill="#3a0a12"/>
<circle cx="91.44" cy="199.94" r="2.45" fill="#3a0a12"/>
<circle cx="94.26" cy="199.94" r="2.45" fill="#3a0a12"/>
<circle cx="97.08" cy="199.94" r="2.45" fill="#3a0a12"/>
<circle cx="99.9" cy="199.94" r="2.45" fill="#0c0406"/>
<circle cx="102.72" cy="199.94" r="2.45" fill="#3a0a12"/>
<circle cx="105.54" cy="199.94" r="2.45" fill="#3a0a12"/>
<circle cx="108.36" cy="199.94" r="2.45" fill="#3a0a12"/>
<circle cx="111.18" cy="199.94" r="2.45" fill="#3a0a12"/>
<circle cx="114" cy="199.94" r="2.45" fill="#3a0a12"/>
<circle cx="116.83" cy="199.94" r="2.45" fill="#3a0a12"/>
<circle cx="119.65" cy="199.94" r="2.45" fill="#0c0406"/>
<circle cx="122.47" cy="199.94" r="2.45" fill="#0c0406"/>
<circle cx="125.29" cy="199.94" r="2.45" fill="#3a0a12"/>
<circle cx="128.11" cy="199.94" r="2.45" fill="#3a0a12"/>
<circle cx="130.93" cy="199.94" r="2.45" fill="#3a0a12"/>
<circle cx="133.75" cy="199.94" r="2.45" fill="#3a0a12"/>
<circle cx="136.57" cy="199.94" r="2.45" fill="#3a0a12"/>
<circle cx="139.39" cy="199.94" r="2.45" fill="#3a0a12"/>
<circle cx="142.21" cy="199.94" r="2.45" fill="#0c0406"/>
<circle cx="145.03" cy="199.94" r="2.45" fill="#3a0a12"/>
<circle cx="147.86" cy="199.94" r="2.45" fill="#3a0a12"/>
<circle cx="150.68" cy="199.94" r="2.45" fill="#3a0a12"/>
<circle cx="153.5" cy="199.94" r="2.45" fill="#3a0a12"/>
<circle cx="156.32" cy="199.94" r="2.45" fill="#3a0a12"/>
<circle cx="159.14" cy="199.94" r="2.45" fill="#3a0a12"/>
<circle cx="161.96" cy="199.94" r="2.45" fill="#3a0a12"/>
<circle cx="164.78" cy="199.94" r="2.45" fill="#3a0a12"/>
<circle cx="167.6" cy="199.94" r="2.45" fill="#3a0a12"/>
<circle cx="170.42" cy="199.94" r="2.45" fill="#3a0a12"/>
<circle cx="173.25" cy="199.94" r="2.45" fill="#3a0a12"/>
<circle cx="176.07" cy="199.94" r="2.45" fill="#3a0a12"/>
<circle cx="178.89" cy="199.94" r="2.45" fill="#3a0a12"/>
<circle cx="181.71" cy="199.94" r="2.45" fill="#3a0a12"/>
<circle cx="184.53" cy="199.94" r="2.45" fill="#3a0a12"/>
<circle cx="187.35" cy="199.94" r="2.45" fill="#3a0a12"/>
<circle cx="190.17" cy="199.94" r="2.45" fill="#3a0a12"/>
<circle cx="192.99" cy="199.94" r="2.45" fill="#3a0a12"/>
<circle cx="195.81" cy="199.94" r="2.45" fill="#3a0a12"/>
<circle cx="198.63" cy="199.94" r="2.45" fill="#3a0a12"/>
<circle cx="201.45" cy="199.94" r="2.45" fill="#3a0a12"/>
<circle cx="204.28" cy="199.94" r="2.45" fill="#6e0404"/>
<circle cx="207.1" cy="199.94" r="2.45" fill="#6e0404"/>
<circle cx="209.92" cy="199.94" r="2.45" fill="#6e0404"/>
<circle cx="212.74" cy="199.94" r="2.45" fill="#6e0404"/>
<circle cx="215.56" cy="199.94" r="2.45" fill="#3a0a12"/>
<circle cx="218.38" cy="199.94" r="2.45" fill="#6e0404"/>
<circle cx="221.2" cy="199.94" r="2.45" fill="#6e0404"/>
<circle cx="224.02" cy="199.94" r="2.45" fill="#6e0404"/>
<circle cx="226.84" cy="199.94" r="2.45" fill="#6e0404"/>
<circle cx="229.67" cy="199.94" r="2.45" fill="#6e0404"/>
<circle cx="232.49" cy="199.94" r="2.45" fill="#6e0404"/>
<circle cx="235.31" cy="199.94" r="2.45" fill="#6e0404"/>
<circle cx="238.13" cy="199.94" r="2.45" fill="#6e0404"/>
<circle cx="240.95" cy="199.94" r="2.45" fill="#6e0404"/>
<circle cx="243.77" cy="199.94" r="2.45" fill="#6e0404"/>
<circle cx="246.59" cy="199.94" r="2.45" fill="#6e0404"/>
<circle cx="249.41" cy="199.94" r="2.45" fill="#6e0404"/>
<circle cx="252.23" cy="199.94" r="2.45" fill="#ff0a0a"/>
<circle cx="255.05" cy="199.94" r="2.45" fill="#ff0a0a"/>
<circle cx="257.88" cy="199.94" r="2.45" fill="#ff0a0a"/>
<circle cx="260.7" cy="199.94" r="2.45" fill="#ff0a0a"/>
<circle cx="263.52" cy="199.94" r="2.45" fill="#3a0a12"/>
<circle cx="266.34" cy="199.94" r="2.45" fill="#ff0a0a"/>
<circle cx="269.16" cy="199.94" r="2.45" fill="#ff0a0a"/>
<circle cx="271.98" cy="199.94" r="2.45" fill="#ff0a0a"/>
<circle cx="274.8" cy="199.94" r="2.45" fill="#ff0a0a"/>
<circle cx="277.62" cy="199.94" r="2.45" fill="#ff8400"/>
<circle cx="283.26" cy="199.94" r="2.45" fill="#ff0a0a"/>
<circle cx="286.09" cy="199.94" r="2.45" fill="#ff0a0a"/>
<circle cx="288.91" cy="199.94" r="2.45" fill="#ff8400"/>
<circle cx="291.73" cy="199.94" r="2.45" fill="#ff8400"/>
<circle cx="294.55" cy="199.94" r="2.45" fill="#ff8400"/>
<circle cx="297.37" cy="199.94" r="2.45" fill="#ff8400"/>
<circle cx="300.19" cy="199.94" r="2.45" fill="#ff8400"/>
<circle cx="303.01" cy="199.94" r="2.45" fill="#ff8400"/>
<circle cx="305.83" cy="199.94" r="2.45" fill="#ff8400"/>
<circle cx="308.65" cy="199.94" r="2.45" fill="#eef80a"/>
<circle cx="311.47" cy="199.94" r="2.45" fill="#eef80a"/>
<circle cx="314.3" cy="199.94" r="2.45" fill="#eef80a"/>
<circle cx="60.41" cy="193.92" r="2.45" fill="#26b426"/>
<circle cx="63.23" cy="193.92" r="2.45" fill="#eef80a"/>
<circle cx="66.05" cy="193.92" r="2.45" fill="#ff0a0a"/>
<circle cx="68.87" cy="193.92" r="2.45" fill="#3a0a12"/>
<circle cx="71.69" cy="193.92" r="2.45" fill="#3a0a12"/>
<circle cx="74.51" cy="193.92" r="2.45" fill="#3a0a12"/>
<circle cx="77.33" cy="193.92" r="2.45" fill="#3a0a12"/>
<circle cx="80.15" cy="193.92" r="2.45" fill="#3a0a12"/>
<circle cx="82.97" cy="193.92" r="2.45" fill="#3a0a12"/>
<circle cx="85.79" cy="193.92" r="2.45" fill="#3a0a12"/>
<circle cx="88.62" cy="193.92" r="2.45" fill="#3a0a12"/>
<circle cx="91.44" cy="193.92" r="2.45" fill="#3a0a12"/>
<circle cx="94.26" cy="193.92" r="2.45" fill="#3a0a12"/>
<circle cx="97.08" cy="193.92" r="2.45" fill="#3a0a12"/>
<circle cx="99.9" cy="193.92" r="2.45" fill="#0c0406"/>
<circle cx="102.72" cy="193.92" r="2.45" fill="#3a0a12"/>
<circle cx="105.54" cy="193.92" r="2.45" fill="#0c0406"/>
<circle cx="108.36" cy="193.92" r="2.45" fill="#3a0a12"/>
<circle cx="111.18" cy="193.92" r="2.45" fill="#3a0a12"/>
<circle cx="114" cy="193.92" r="2.45" fill="#3a0a12"/>
<circle cx="116.83" cy="193.92" r="2.45" fill="#3a0a12"/>
<circle cx="119.65" cy="193.92" r="2.45" fill="#3a0a12"/>
<circle cx="122.47" cy="193.92" r="2.45" fill="#3a0a12"/>
<circle cx="125.29" cy="193.92" r="2.45" fill="#0c0406"/>
<circle cx="128.11" cy="193.92" r="2.45" fill="#3a0a12"/>
<circle cx="130.93" cy="193.92" r="2.45" fill="#3a0a12"/>
<circle cx="133.75" cy="193.92" r="2.45" fill="#3a0a12"/>
<circle cx="136.57" cy="193.92" r="2.45" fill="#3a0a12"/>
<circle cx="139.39" cy="193.92" r="2.45" fill="#3a0a12"/>
<circle cx="142.21" cy="193.92" r="2.45" fill="#3a0a12"/>
<circle cx="145.03" cy="193.92" r="2.45" fill="#0c0406"/>
<circle cx="147.86" cy="193.92" r="2.45" fill="#3a0a12"/>
<circle cx="150.68" cy="193.92" r="2.45" fill="#3a0a12"/>
<circle cx="153.5" cy="193.92" r="2.45" fill="#3a0a12"/>
<circle cx="156.32" cy="193.92" r="2.45" fill="#3a0a12"/>
<circle cx="159.14" cy="193.92" r="2.45" fill="#3a0a12"/>
<circle cx="161.96" cy="193.92" r="2.45" fill="#3a0a12"/>
<circle cx="164.78" cy="193.92" r="2.45" fill="#3a0a12"/>
<circle cx="167.6" cy="193.92" r="2.45" fill="#3a0a12"/>
<circle cx="170.42" cy="193.92" r="2.45" fill="#3a0a12"/>
<circle cx="173.25" cy="193.92" r="2.45" fill="#3a0a12"/>
<circle cx="176.07" cy="193.92" r="2.45" fill="#3a0a12"/>
<circle cx="178.89" cy="193.92" r="2.45" fill="#3a0a12"/>
<circle cx="181.71" cy="193.92" r="2.45" fill="#3a0a12"/>
<circle cx="184.53" cy="193.92" r="2.45" fill="#3a0a12"/>
<circle cx="187.35" cy="193.92" r="2.45" fill="#3a0a12"/>
<circle cx="190.17" cy="193.92" r="2.45" fill="#3a0a12"/>
<circle cx="192.99" cy="193.92" r="2.45" fill="#3a0a12"/>
<circle cx="195.81" cy="193.92" r="2.45" fill="#3a0a12"/>
<circle cx="198.63" cy="193.92" r="2.45" fill="#3a0a12"/>
<circle cx="201.45" cy="193.92" r="2.45" fill="#3a0a12"/>
<circle cx="204.28" cy="193.92" r="2.45" fill="#6e0404"/>
<circle cx="207.1" cy="193.92" r="2.45" fill="#6e0404"/>
<circle cx="209.92" cy="193.92" r="2.45" fill="#6e0404"/>
<circle cx="212.74" cy="193.92" r="2.45" fill="#6e0404"/>
<circle cx="215.56" cy="193.92" r="2.45" fill="#6e0404"/>
<circle cx="218.38" cy="193.92" r="2.45" fill="#6e0404"/>
<circle cx="221.2" cy="193.92" r="2.45" fill="#3a0a12"/>
<circle cx="224.02" cy="193.92" r="2.45" fill="#6e0404"/>
<circle cx="226.84" cy="193.92" r="2.45" fill="#6e0404"/>
<circle cx="229.67" cy="193.92" r="2.45" fill="#6e0404"/>
<circle cx="232.49" cy="193.92" r="2.45" fill="#6e0404"/>
<circle cx="235.31" cy="193.92" r="2.45" fill="#6e0404"/>
<circle cx="238.13" cy="193.92" r="2.45" fill="#6e0404"/>
<circle cx="240.95" cy="193.92" r="2.45" fill="#6e0404"/>
<circle cx="243.77" cy="193.92" r="2.45" fill="#6e0404"/>
<circle cx="246.59" cy="193.92" r="2.45" fill="#ff0a0a"/>
<circle cx="249.41" cy="193.92" r="2.45" fill="#ff0a0a"/>
<circle cx="252.23" cy="193.92" r="2.45" fill="#ff0a0a"/>
<circle cx="255.05" cy="193.92" r="2.45" fill="#ff0a0a"/>
<circle cx="257.88" cy="193.92" r="2.45" fill="#ff0a0a"/>
<circle cx="260.7" cy="193.92" r="2.45" fill="#ff0a0a"/>
<circle cx="263.52" cy="193.92" r="2.45" fill="#ff8400"/>
<circle cx="266.34" cy="193.92" r="2.45" fill="#ff0a0a"/>
<circle cx="269.16" cy="193.92" r="2.45" fill="#ff0a0a"/>
<circle cx="271.98" cy="193.92" r="2.45" fill="#ff0a0a"/>
<circle cx="274.8" cy="193.92" r="2.45" fill="#ff0a0a"/>
<circle cx="280.44" cy="193.92" r="2.45" fill="#ff0a0a"/>
<circle cx="283.26" cy="193.92" r="2.45" fill="#ff0a0a"/>
<circle cx="286.09" cy="193.92" r="2.45" fill="#ff0a0a"/>
<circle cx="288.91" cy="193.92" r="2.45" fill="#ff8400"/>
<circle cx="291.73" cy="193.92" r="2.45" fill="#ff8400"/>
<circle cx="294.55" cy="193.92" r="2.45" fill="#ff8400"/>
<circle cx="297.37" cy="193.92" r="2.45" fill="#ff8400"/>
<circle cx="300.19" cy="193.92" r="2.45" fill="#ff8400"/>
<circle cx="303.01" cy="193.92" r="2.45" fill="#ff8400"/>
<circle cx="305.83" cy="193.92" r="2.45" fill="#ff8400"/>
<circle cx="308.65" cy="193.92" r="2.45" fill="#eef80a"/>
<circle cx="311.47" cy="193.92" r="2.45" fill="#eef80a"/>
<circle cx="314.3" cy="193.92" r="2.45" fill="#eef80a"/>
<circle cx="63.23" cy="187.91" r="2.45" fill="#eef80a"/>
<circle cx="66.05" cy="187.91" r="2.45" fill="#eef80a"/>
<circle cx="68.87" cy="187.91" r="2.45" fill="#ff0a0a"/>
<circle cx="71.69" cy="187.91" r="2.45" fill="#3a0a12"/>
<circle cx="74.51" cy="187.91" r="2.45" fill="#3a0a12"/>
<circle cx="77.33" cy="187.91" r="2.45" fill="#3a0a12"/>
<circle cx="80.15" cy="187.91" r="2.45" fill="#3a0a12"/>
<circle cx="82.97" cy="187.91" r="2.45" fill="#3a0a12"/>
<circle cx="85.79" cy="187.91" r="2.45" fill="#3a0a12"/>
<circle cx="88.62" cy="187.91" r="2.45" fill="#3a0a12"/>
<circle cx="91.44" cy="187.91" r="2.45" fill="#3a0a12"/>
<circle cx="94.26" cy="187.91" r="2.45" fill="#3a0a12"/>
<circle cx="97.08" cy="187.91" r="2.45" fill="#3a0a12"/>
<circle cx="99.9" cy="187.91" r="2.45" fill="#3a0a12"/>
<circle cx="102.72" cy="187.91" r="2.45" fill="#3a0a12"/>
<circle cx="105.54" cy="187.91" r="2.45" fill="#0c0406"/>
<circle cx="108.36" cy="187.91" r="2.45" fill="#3a0a12"/>
<circle cx="111.18" cy="187.91" r="2.45" fill="#3a0a12"/>
<circle cx="114" cy="187.91" r="2.45" fill="#3a0a12"/>
<circle cx="116.83" cy="187.91" r="2.45" fill="#3a0a12"/>
<circle cx="119.65" cy="187.91" r="2.45" fill="#3a0a12"/>
<circle cx="122.47" cy="187.91" r="2.45" fill="#3a0a12"/>
<circle cx="125.29" cy="187.91" r="2.45" fill="#3a0a12"/>
<circle cx="128.11" cy="187.91" r="2.45" fill="#3a0a12"/>
<circle cx="130.93" cy="187.91" r="2.45" fill="#0c0406"/>
<circle cx="133.75" cy="187.91" r="2.45" fill="#3a0a12"/>
<circle cx="136.57" cy="187.91" r="2.45" fill="#3a0a12"/>
<circle cx="139.39" cy="187.91" r="2.45" fill="#3a0a12"/>
<circle cx="142.21" cy="187.91" r="2.45" fill="#3a0a12"/>
<circle cx="145.03" cy="187.91" r="2.45" fill="#3a0a12"/>
<circle cx="147.86" cy="187.91" r="2.45" fill="#3a0a12"/>
<circle cx="150.68" cy="187.91" r="2.45" fill="#0c0406"/>
<circle cx="153.5" cy="187.91" r="2.45" fill="#3a0a12"/>
<circle cx="156.32" cy="187.91" r="2.45" fill="#3a0a12"/>
<circle cx="159.14" cy="187.91" r="2.45" fill="#3a0a12"/>
<circle cx="161.96" cy="187.91" r="2.45" fill="#3a0a12"/>
<circle cx="164.78" cy="187.91" r="2.45" fill="#3a0a12"/>
<circle cx="167.6" cy="187.91" r="2.45" fill="#3a0a12"/>
<circle cx="170.42" cy="187.91" r="2.45" fill="#3a0a12"/>
<circle cx="173.25" cy="187.91" r="2.45" fill="#3a0a12"/>
<circle cx="176.07" cy="187.91" r="2.45" fill="#3a0a12"/>
<circle cx="178.89" cy="187.91" r="2.45" fill="#3a0a12"/>
<circle cx="181.71" cy="187.91" r="2.45" fill="#3a0a12"/>
<circle cx="184.53" cy="187.91" r="2.45" fill="#3a0a12"/>
<circle cx="187.35" cy="187.91" r="2.45" fill="#3a0a12"/>
<circle cx="190.17" cy="187.91" r="2.45" fill="#3a0a12"/>
<circle cx="192.99" cy="187.91" r="2.45" fill="#3a0a12"/>
<circle cx="195.81" cy="187.91" r="2.45" fill="#3a0a12"/>
<circle cx="198.63" cy="187.91" r="2.45" fill="#6e0404"/>
<circle cx="201.45" cy="187.91" r="2.45" fill="#3a0a12"/>
<circle cx="204.28" cy="187.91" r="2.45" fill="#6e0404"/>
<circle cx="207.1" cy="187.91" r="2.45" fill="#6e0404"/>
<circle cx="209.92" cy="187.91" r="2.45" fill="#6e0404"/>
<circle cx="212.74" cy="187.91" r="2.45" fill="#6e0404"/>
<circle cx="215.56" cy="187.91" r="2.45" fill="#6e0404"/>
<circle cx="218.38" cy="187.91" r="2.45" fill="#3a0a12"/>
<circle cx="221.2" cy="187.91" r="2.45" fill="#6e0404"/>
<circle cx="224.02" cy="187.91" r="2.45" fill="#6e0404"/>
<circle cx="226.84" cy="187.91" r="2.45" fill="#6e0404"/>
<circle cx="229.67" cy="187.91" r="2.45" fill="#6e0404"/>
<circle cx="232.49" cy="187.91" r="2.45" fill="#ff0a0a"/>
<circle cx="235.31" cy="187.91" r="2.45" fill="#ff0a0a"/>
<circle cx="238.13" cy="187.91" r="2.45" fill="#ff0a0a"/>
<circle cx="240.95" cy="187.91" r="2.45" fill="#ff0a0a"/>
<circle cx="243.77" cy="187.91" r="2.45" fill="#ff0a0a"/>
<circle cx="246.59" cy="187.91" r="2.45" fill="#ff0a0a"/>
<circle cx="249.41" cy="187.91" r="2.45" fill="#ff0a0a"/>
<circle cx="252.23" cy="187.91" r="2.45" fill="#ff0a0a"/>
<circle cx="255.05" cy="187.91" r="2.45" fill="#ff0a0a"/>
<circle cx="257.88" cy="187.91" r="2.45" fill="#ff0a0a"/>
<circle cx="260.7" cy="187.91" r="2.45" fill="#ff0a0a"/>
<circle cx="263.52" cy="187.91" r="2.45" fill="#ff8400"/>
<circle cx="266.34" cy="187.91" r="2.45" fill="#ff0a0a"/>
<circle cx="269.16" cy="187.91" r="2.45" fill="#ff0a0a"/>
<circle cx="271.98" cy="187.91" r="2.45" fill="#ff0a0a"/>
<circle cx="277.62" cy="187.91" r="2.45" fill="#ff8400"/>
<circle cx="280.44" cy="187.91" r="2.45" fill="#ff8400"/>
<circle cx="283.26" cy="187.91" r="2.45" fill="#ff0a0a"/>
<circle cx="286.09" cy="187.91" r="2.45" fill="#ff8400"/>
<circle cx="288.91" cy="187.91" r="2.45" fill="#ff8400"/>
<circle cx="291.73" cy="187.91" r="2.45" fill="#ff0a0a"/>
<circle cx="294.55" cy="187.91" r="2.45" fill="#ff8400"/>
<circle cx="297.37" cy="187.91" r="2.45" fill="#ff8400"/>
<circle cx="300.19" cy="187.91" r="2.45" fill="#ff8400"/>
<circle cx="303.01" cy="187.91" r="2.45" fill="#ff8400"/>
<circle cx="305.83" cy="187.91" r="2.45" fill="#ff8400"/>
<circle cx="308.65" cy="187.91" r="2.45" fill="#ff8400"/>
<circle cx="311.47" cy="187.91" r="2.45" fill="#eef80a"/>
<circle cx="314.3" cy="187.91" r="2.45" fill="#eef80a"/>
<circle cx="63.23" cy="181.89" r="2.45" fill="#26b426"/>
<circle cx="66.05" cy="181.89" r="2.45" fill="#eef80a"/>
<circle cx="68.87" cy="181.89" r="2.45" fill="#eef80a"/>
<circle cx="71.69" cy="181.89" r="2.45" fill="#eef80a"/>
<circle cx="74.51" cy="181.89" r="2.45" fill="#ff0a0a"/>
<circle cx="77.33" cy="181.89" r="2.45" fill="#3a0a12"/>
<circle cx="80.15" cy="181.89" r="2.45" fill="#3a0a12"/>
<circle cx="82.97" cy="181.89" r="2.45" fill="#3a0a12"/>
<circle cx="85.79" cy="181.89" r="2.45" fill="#3a0a12"/>
<circle cx="88.62" cy="181.89" r="2.45" fill="#3a0a12"/>
<circle cx="91.44" cy="181.89" r="2.45" fill="#3a0a12"/>
<circle cx="94.26" cy="181.89" r="2.45" fill="#3a0a12"/>
<circle cx="97.08" cy="181.89" r="2.45" fill="#3a0a12"/>
<circle cx="99.9" cy="181.89" r="2.45" fill="#3a0a12"/>
<circle cx="102.72" cy="181.89" r="2.45" fill="#3a0a12"/>
<circle cx="105.54" cy="181.89" r="2.45" fill="#3a0a12"/>
<circle cx="108.36" cy="181.89" r="2.45" fill="#3a0a12"/>
<circle cx="111.18" cy="181.89" r="2.45" fill="#0c0406"/>
<circle cx="114" cy="181.89" r="2.45" fill="#3a0a12"/>
<circle cx="116.83" cy="181.89" r="2.45" fill="#3a0a12"/>
<circle cx="119.65" cy="181.89" r="2.45" fill="#3a0a12"/>
<circle cx="122.47" cy="181.89" r="2.45" fill="#3a0a12"/>
<circle cx="125.29" cy="181.89" r="2.45" fill="#3a0a12"/>
<circle cx="128.11" cy="181.89" r="2.45" fill="#3a0a12"/>
<circle cx="130.93" cy="181.89" r="2.45" fill="#0c0406"/>
<circle cx="133.75" cy="181.89" r="2.45" fill="#3a0a12"/>
<circle cx="136.57" cy="181.89" r="2.45" fill="#0c0406"/>
<circle cx="139.39" cy="181.89" r="2.45" fill="#3a0a12"/>
<circle cx="142.21" cy="181.89" r="2.45" fill="#3a0a12"/>
<circle cx="145.03" cy="181.89" r="2.45" fill="#3a0a12"/>
<circle cx="147.86" cy="181.89" r="2.45" fill="#3a0a12"/>
<circle cx="150.68" cy="181.89" r="2.45" fill="#3a0a12"/>
<circle cx="153.5" cy="181.89" r="2.45" fill="#3a0a12"/>
<circle cx="156.32" cy="181.89" r="2.45" fill="#3a0a12"/>
<circle cx="159.14" cy="181.89" r="2.45" fill="#3a0a12"/>
<circle cx="161.96" cy="181.89" r="2.45" fill="#3a0a12"/>
<circle cx="164.78" cy="181.89" r="2.45" fill="#3a0a12"/>
<circle cx="167.6" cy="181.89" r="2.45" fill="#3a0a12"/>
<circle cx="170.42" cy="181.89" r="2.45" fill="#3a0a12"/>
<circle cx="173.25" cy="181.89" r="2.45" fill="#3a0a12"/>
<circle cx="176.07" cy="181.89" r="2.45" fill="#3a0a12"/>
<circle cx="178.89" cy="181.89" r="2.45" fill="#3a0a12"/>
<circle cx="181.71" cy="181.89" r="2.45" fill="#3a0a12"/>
<circle cx="184.53" cy="181.89" r="2.45" fill="#3a0a12"/>
<circle cx="187.35" cy="181.89" r="2.45" fill="#3a0a12"/>
<circle cx="190.17" cy="181.89" r="2.45" fill="#3a0a12"/>
<circle cx="192.99" cy="181.89" r="2.45" fill="#3a0a12"/>
<circle cx="195.81" cy="181.89" r="2.45" fill="#3a0a12"/>
<circle cx="198.63" cy="181.89" r="2.45" fill="#6e0404"/>
<circle cx="201.45" cy="181.89" r="2.45" fill="#6e0404"/>
<circle cx="204.28" cy="181.89" r="2.45" fill="#3a0a12"/>
<circle cx="207.1" cy="181.89" r="2.45" fill="#6e0404"/>
<circle cx="209.92" cy="181.89" r="2.45" fill="#6e0404"/>
<circle cx="212.74" cy="181.89" r="2.45" fill="#6e0404"/>
<circle cx="215.56" cy="181.89" r="2.45" fill="#6e0404"/>
<circle cx="218.38" cy="181.89" r="2.45" fill="#6e0404"/>
<circle cx="221.2" cy="181.89" r="2.45" fill="#6e0404"/>
<circle cx="224.02" cy="181.89" r="2.45" fill="#6e0404"/>
<circle cx="226.84" cy="181.89" r="2.45" fill="#6e0404"/>
<circle cx="229.67" cy="181.89" r="2.45" fill="#6e0404"/>
<circle cx="232.49" cy="181.89" r="2.45" fill="#6e0404"/>
<circle cx="235.31" cy="181.89" r="2.45" fill="#ff0a0a"/>
<circle cx="238.13" cy="181.89" r="2.45" fill="#ff0a0a"/>
<circle cx="240.95" cy="181.89" r="2.45" fill="#ff0a0a"/>
<circle cx="243.77" cy="181.89" r="2.45" fill="#ff0a0a"/>
<circle cx="246.59" cy="181.89" r="2.45" fill="#ff0a0a"/>
<circle cx="249.41" cy="181.89" r="2.45" fill="#ff0a0a"/>
<circle cx="252.23" cy="181.89" r="2.45" fill="#ff0a0a"/>
<circle cx="255.05" cy="181.89" r="2.45" fill="#ff0a0a"/>
<circle cx="257.88" cy="181.89" r="2.45" fill="#ff0a0a"/>
<circle cx="260.7" cy="181.89" r="2.45" fill="#ff0a0a"/>
<circle cx="263.52" cy="181.89" r="2.45" fill="#ff8400"/>
<circle cx="266.34" cy="181.89" r="2.45" fill="#ff0a0a"/>
<circle cx="269.16" cy="181.89" r="2.45" fill="#ff0a0a"/>
<circle cx="271.98" cy="181.89" r="2.45" fill="#ff0a0a"/>
<circle cx="274.8" cy="181.89" r="2.45" fill="#ff0a0a"/>
<circle cx="277.62" cy="181.89" r="2.45" fill="#ff0a0a"/>
<circle cx="283.26" cy="181.89" r="2.45" fill="#ff0a0a"/>
<circle cx="286.09" cy="181.89" r="2.45" fill="#ff0a0a"/>
<circle cx="288.91" cy="181.89" r="2.45" fill="#ff8400"/>
<circle cx="291.73" cy="181.89" r="2.45" fill="#ff8400"/>
<circle cx="294.55" cy="181.89" r="2.45" fill="#ff8400"/>
<circle cx="297.37" cy="181.89" r="2.45" fill="#ff8400"/>
<circle cx="300.19" cy="181.89" r="2.45" fill="#ff8400"/>
<circle cx="303.01" cy="181.89" r="2.45" fill="#ff8400"/>
<circle cx="305.83" cy="181.89" r="2.45" fill="#ff8400"/>
<circle cx="308.65" cy="181.89" r="2.45" fill="#ff8400"/>
<circle cx="311.47" cy="181.89" r="2.45" fill="#eef80a"/>
<circle cx="314.3" cy="181.89" r="2.45" fill="#eef80a"/>
<circle cx="66.05" cy="175.88" r="2.45" fill="#2a3aff"/>
<circle cx="68.87" cy="175.88" r="2.45" fill="#eef80a"/>
<circle cx="71.69" cy="175.88" r="2.45" fill="#ff8400"/>
<circle cx="74.51" cy="175.88" r="2.45" fill="#ff0a0a"/>
<circle cx="77.33" cy="175.88" r="2.45" fill="#6e0404"/>
<circle cx="80.15" cy="175.88" r="2.45" fill="#3a0a12"/>
<circle cx="82.97" cy="175.88" r="2.45" fill="#6e0404"/>
<circle cx="85.79" cy="175.88" r="2.45" fill="#3a0a12"/>
<circle cx="88.62" cy="175.88" r="2.45" fill="#3a0a12"/>
<circle cx="91.44" cy="175.88" r="2.45" fill="#3a0a12"/>
<circle cx="94.26" cy="175.88" r="2.45" fill="#3a0a12"/>
<circle cx="97.08" cy="175.88" r="2.45" fill="#3a0a12"/>
<circle cx="99.9" cy="175.88" r="2.45" fill="#3a0a12"/>
<circle cx="102.72" cy="175.88" r="2.45" fill="#3a0a12"/>
<circle cx="105.54" cy="175.88" r="2.45" fill="#3a0a12"/>
<circle cx="108.36" cy="175.88" r="2.45" fill="#3a0a12"/>
<circle cx="111.18" cy="175.88" r="2.45" fill="#3a0a12"/>
<circle cx="114" cy="175.88" r="2.45" fill="#3a0a12"/>
<circle cx="116.83" cy="175.88" r="2.45" fill="#0c0406"/>
<circle cx="119.65" cy="175.88" r="2.45" fill="#3a0a12"/>
<circle cx="122.47" cy="175.88" r="2.45" fill="#3a0a12"/>
<circle cx="125.29" cy="175.88" r="2.45" fill="#3a0a12"/>
<circle cx="128.11" cy="175.88" r="2.45" fill="#3a0a12"/>
<circle cx="130.93" cy="175.88" r="2.45" fill="#3a0a12"/>
<circle cx="133.75" cy="175.88" r="2.45" fill="#3a0a12"/>
<circle cx="136.57" cy="175.88" r="2.45" fill="#3a0a12"/>
<circle cx="139.39" cy="175.88" r="2.45" fill="#3a0a12"/>
<circle cx="142.21" cy="175.88" r="2.45" fill="#3a0a12"/>
<circle cx="145.03" cy="175.88" r="2.45" fill="#3a0a12"/>
<circle cx="147.86" cy="175.88" r="2.45" fill="#3a0a12"/>
<circle cx="150.68" cy="175.88" r="2.45" fill="#3a0a12"/>
<circle cx="153.5" cy="175.88" r="2.45" fill="#3a0a12"/>
<circle cx="156.32" cy="175.88" r="2.45" fill="#3a0a12"/>
<circle cx="159.14" cy="175.88" r="2.45" fill="#3a0a12"/>
<circle cx="161.96" cy="175.88" r="2.45" fill="#3a0a12"/>
<circle cx="164.78" cy="175.88" r="2.45" fill="#3a0a12"/>
<circle cx="167.6" cy="175.88" r="2.45" fill="#3a0a12"/>
<circle cx="170.42" cy="175.88" r="2.45" fill="#3a0a12"/>
<circle cx="173.25" cy="175.88" r="2.45" fill="#3a0a12"/>
<circle cx="176.07" cy="175.88" r="2.45" fill="#3a0a12"/>
<circle cx="178.89" cy="175.88" r="2.45" fill="#3a0a12"/>
<circle cx="181.71" cy="175.88" r="2.45" fill="#3a0a12"/>
<circle cx="184.53" cy="175.88" r="2.45" fill="#3a0a12"/>
<circle cx="187.35" cy="175.88" r="2.45" fill="#3a0a12"/>
<circle cx="190.17" cy="175.88" r="2.45" fill="#6e0404"/>
<circle cx="192.99" cy="175.88" r="2.45" fill="#6e0404"/>
<circle cx="195.81" cy="175.88" r="2.45" fill="#6e0404"/>
<circle cx="198.63" cy="175.88" r="2.45" fill="#6e0404"/>
<circle cx="201.45" cy="175.88" r="2.45" fill="#6e0404"/>
<circle cx="204.28" cy="175.88" r="2.45" fill="#6e0404"/>
<circle cx="207.1" cy="175.88" r="2.45" fill="#3a0a12"/>
<circle cx="209.92" cy="175.88" r="2.45" fill="#6e0404"/>
<circle cx="212.74" cy="175.88" r="2.45" fill="#6e0404"/>
<circle cx="215.56" cy="175.88" r="2.45" fill="#6e0404"/>
<circle cx="218.38" cy="175.88" r="2.45" fill="#6e0404"/>
<circle cx="221.2" cy="175.88" r="2.45" fill="#6e0404"/>
<circle cx="224.02" cy="175.88" r="2.45" fill="#6e0404"/>
<circle cx="226.84" cy="175.88" r="2.45" fill="#6e0404"/>
<circle cx="229.67" cy="175.88" r="2.45" fill="#ff0a0a"/>
<circle cx="232.49" cy="175.88" r="2.45" fill="#3a0a12"/>
<circle cx="235.31" cy="175.88" r="2.45" fill="#ff0a0a"/>
<circle cx="238.13" cy="175.88" r="2.45" fill="#ff0a0a"/>
<circle cx="240.95" cy="175.88" r="2.45" fill="#ff0a0a"/>
<circle cx="243.77" cy="175.88" r="2.45" fill="#ff0a0a"/>
<circle cx="246.59" cy="175.88" r="2.45" fill="#ff0a0a"/>
<circle cx="249.41" cy="175.88" r="2.45" fill="#ff0a0a"/>
<circle cx="252.23" cy="175.88" r="2.45" fill="#3a0a12"/>
<circle cx="255.05" cy="175.88" r="2.45" fill="#ff0a0a"/>
<circle cx="257.88" cy="175.88" r="2.45" fill="#ff0a0a"/>
<circle cx="260.7" cy="175.88" r="2.45" fill="#ff0a0a"/>
<circle cx="263.52" cy="175.88" r="2.45" fill="#ff8400"/>
<circle cx="266.34" cy="175.88" r="2.45" fill="#ff8400"/>
<circle cx="269.16" cy="175.88" r="2.45" fill="#ff8400"/>
<circle cx="271.98" cy="175.88" r="2.45" fill="#ff8400"/>
<circle cx="277.62" cy="175.88" r="2.45" fill="#ff0a0a"/>
<circle cx="280.44" cy="175.88" r="2.45" fill="#ff8400"/>
<circle cx="283.26" cy="175.88" r="2.45" fill="#ff8400"/>
<circle cx="286.09" cy="175.88" r="2.45" fill="#ff8400"/>
<circle cx="288.91" cy="175.88" r="2.45" fill="#ff8400"/>
<circle cx="291.73" cy="175.88" r="2.45" fill="#ff8400"/>
<circle cx="294.55" cy="175.88" r="2.45" fill="#ff8400"/>
<circle cx="297.37" cy="175.88" r="2.45" fill="#ff8400"/>
<circle cx="300.19" cy="175.88" r="2.45" fill="#ff8400"/>
<circle cx="303.01" cy="175.88" r="2.45" fill="#ff8400"/>
<circle cx="308.65" cy="175.88" r="2.45" fill="#eef80a"/>
<circle cx="311.47" cy="175.88" r="2.45" fill="#eef80a"/>
<circle cx="314.3" cy="175.88" r="2.45" fill="#eef80a"/>
<circle cx="68.87" cy="169.86" r="2.45" fill="#2a3aff"/>
<circle cx="71.69" cy="169.86" r="2.45" fill="#eef80a"/>
<circle cx="74.51" cy="169.86" r="2.45" fill="#ff8400"/>
<circle cx="77.33" cy="169.86" r="2.45" fill="#ff8400"/>
<circle cx="80.15" cy="169.86" r="2.45" fill="#ff0a0a"/>
<circle cx="82.97" cy="169.86" r="2.45" fill="#ff0a0a"/>
<circle cx="85.79" cy="169.86" r="2.45" fill="#3a0a12"/>
<circle cx="88.62" cy="169.86" r="2.45" fill="#6e0404"/>
<circle cx="91.44" cy="169.86" r="2.45" fill="#3a0a12"/>
<circle cx="94.26" cy="169.86" r="2.45" fill="#6e0404"/>
<circle cx="97.08" cy="169.86" r="2.45" fill="#3a0a12"/>
<circle cx="99.9" cy="169.86" r="2.45" fill="#3a0a12"/>
<circle cx="102.72" cy="169.86" r="2.45" fill="#3a0a12"/>
<circle cx="105.54" cy="169.86" r="2.45" fill="#3a0a12"/>
<circle cx="108.36" cy="169.86" r="2.45" fill="#3a0a12"/>
<circle cx="111.18" cy="169.86" r="2.45" fill="#3a0a12"/>
<circle cx="114" cy="169.86" r="2.45" fill="#3a0a12"/>
<circle cx="116.83" cy="169.86" r="2.45" fill="#3a0a12"/>
<circle cx="119.65" cy="169.86" r="2.45" fill="#3a0a12"/>
<circle cx="122.47" cy="169.86" r="2.45" fill="#3a0a12"/>
<circle cx="125.29" cy="169.86" r="2.45" fill="#3a0a12"/>
<circle cx="128.11" cy="169.86" r="2.45" fill="#3a0a12"/>
<circle cx="130.93" cy="169.86" r="2.45" fill="#3a0a12"/>
<circle cx="133.75" cy="169.86" r="2.45" fill="#3a0a12"/>
<circle cx="136.57" cy="169.86" r="2.45" fill="#3a0a12"/>
<circle cx="139.39" cy="169.86" r="2.45" fill="#3a0a12"/>
<circle cx="142.21" cy="169.86" r="2.45" fill="#3a0a12"/>
<circle cx="145.03" cy="169.86" r="2.45" fill="#3a0a12"/>
<circle cx="147.86" cy="169.86" r="2.45" fill="#3a0a12"/>
<circle cx="150.68" cy="169.86" r="2.45" fill="#3a0a12"/>
<circle cx="153.5" cy="169.86" r="2.45" fill="#3a0a12"/>
<circle cx="156.32" cy="169.86" r="2.45" fill="#3a0a12"/>
<circle cx="159.14" cy="169.86" r="2.45" fill="#3a0a12"/>
<circle cx="161.96" cy="169.86" r="2.45" fill="#3a0a12"/>
<circle cx="164.78" cy="169.86" r="2.45" fill="#3a0a12"/>
<circle cx="167.6" cy="169.86" r="2.45" fill="#3a0a12"/>
<circle cx="170.42" cy="169.86" r="2.45" fill="#3a0a12"/>
<circle cx="173.25" cy="169.86" r="2.45" fill="#3a0a12"/>
<circle cx="176.07" cy="169.86" r="2.45" fill="#3a0a12"/>
<circle cx="178.89" cy="169.86" r="2.45" fill="#3a0a12"/>
<circle cx="181.71" cy="169.86" r="2.45" fill="#3a0a12"/>
<circle cx="184.53" cy="169.86" r="2.45" fill="#3a0a12"/>
<circle cx="187.35" cy="169.86" r="2.45" fill="#3a0a12"/>
<circle cx="190.17" cy="169.86" r="2.45" fill="#6e0404"/>
<circle cx="192.99" cy="169.86" r="2.45" fill="#6e0404"/>
<circle cx="195.81" cy="169.86" r="2.45" fill="#6e0404"/>
<circle cx="198.63" cy="169.86" r="2.45" fill="#6e0404"/>
<circle cx="201.45" cy="169.86" r="2.45" fill="#6e0404"/>
<circle cx="204.28" cy="169.86" r="2.45" fill="#6e0404"/>
<circle cx="207.1" cy="169.86" r="2.45" fill="#6e0404"/>
<circle cx="209.92" cy="169.86" r="2.45" fill="#6e0404"/>
<circle cx="212.74" cy="169.86" r="2.45" fill="#3a0a12"/>
<circle cx="215.56" cy="169.86" r="2.45" fill="#6e0404"/>
<circle cx="218.38" cy="169.86" r="2.45" fill="#6e0404"/>
<circle cx="221.2" cy="169.86" r="2.45" fill="#6e0404"/>
<circle cx="224.02" cy="169.86" r="2.45" fill="#6e0404"/>
<circle cx="226.84" cy="169.86" r="2.45" fill="#ff0a0a"/>
<circle cx="229.67" cy="169.86" r="2.45" fill="#3a0a12"/>
<circle cx="232.49" cy="169.86" r="2.45" fill="#ff0a0a"/>
<circle cx="235.31" cy="169.86" r="2.45" fill="#3a0a12"/>
<circle cx="238.13" cy="169.86" r="2.45" fill="#ff0a0a"/>
<circle cx="240.95" cy="169.86" r="2.45" fill="#ff0a0a"/>
<circle cx="243.77" cy="169.86" r="2.45" fill="#ff0a0a"/>
<circle cx="246.59" cy="169.86" r="2.45" fill="#ff0a0a"/>
<circle cx="249.41" cy="169.86" r="2.45" fill="#ff0a0a"/>
<circle cx="252.23" cy="169.86" r="2.45" fill="#ff0a0a"/>
<circle cx="255.05" cy="169.86" r="2.45" fill="#ff0a0a"/>
<circle cx="257.88" cy="169.86" r="2.45" fill="#3a0a12"/>
<circle cx="260.7" cy="169.86" r="2.45" fill="#ff0a0a"/>
<circle cx="263.52" cy="169.86" r="2.45" fill="#ff8400"/>
<circle cx="266.34" cy="169.86" r="2.45" fill="#ff8400"/>
<circle cx="269.16" cy="169.86" r="2.45" fill="#ff8400"/>
<circle cx="271.98" cy="169.86" r="2.45" fill="#ff8400"/>
<circle cx="274.8" cy="169.86" r="2.45" fill="#ff8400"/>
<circle cx="277.62" cy="169.86" r="2.45" fill="#ff0a0a"/>
<circle cx="280.44" cy="169.86" r="2.45" fill="#ff8400"/>
<circle cx="283.26" cy="169.86" r="2.45" fill="#ff0a0a"/>
<circle cx="286.09" cy="169.86" r="2.45" fill="#ff8400"/>
<circle cx="288.91" cy="169.86" r="2.45" fill="#ff8400"/>
<circle cx="291.73" cy="169.86" r="2.45" fill="#ff8400"/>
<circle cx="297.37" cy="169.86" r="2.45" fill="#ff8400"/>
<circle cx="300.19" cy="169.86" r="2.45" fill="#ff8400"/>
<circle cx="303.01" cy="169.86" r="2.45" fill="#ff8400"/>
<circle cx="305.83" cy="169.86" r="2.45" fill="#ff8400"/>
<circle cx="308.65" cy="169.86" r="2.45" fill="#ff8400"/>
<circle cx="311.47" cy="169.86" r="2.45" fill="#eef80a"/>
<circle cx="74.51" cy="163.85" r="2.45" fill="#ff8400"/>
<circle cx="77.33" cy="163.85" r="2.45" fill="#ff0a0a"/>
<circle cx="80.15" cy="163.85" r="2.45" fill="#ff8400"/>
<circle cx="82.97" cy="163.85" r="2.45" fill="#ff0a0a"/>
<circle cx="85.79" cy="163.85" r="2.45" fill="#ff0a0a"/>
<circle cx="88.62" cy="163.85" r="2.45" fill="#6e0404"/>
<circle cx="91.44" cy="163.85" r="2.45" fill="#6e0404"/>
<circle cx="94.26" cy="163.85" r="2.45" fill="#6e0404"/>
<circle cx="97.08" cy="163.85" r="2.45" fill="#3a0a12"/>
<circle cx="99.9" cy="163.85" r="2.45" fill="#3a0a12"/>
<circle cx="102.72" cy="163.85" r="2.45" fill="#3a0a12"/>
<circle cx="105.54" cy="163.85" r="2.45" fill="#3a0a12"/>
<circle cx="108.36" cy="163.85" r="2.45" fill="#3a0a12"/>
<circle cx="111.18" cy="163.85" r="2.45" fill="#3a0a12"/>
<circle cx="114" cy="163.85" r="2.45" fill="#3a0a12"/>
<circle cx="116.83" cy="163.85" r="2.45" fill="#3a0a12"/>
<circle cx="119.65" cy="163.85" r="2.45" fill="#3a0a12"/>
<circle cx="122.47" cy="163.85" r="2.45" fill="#3a0a12"/>
<circle cx="125.29" cy="163.85" r="2.45" fill="#3a0a12"/>
<circle cx="128.11" cy="163.85" r="2.45" fill="#3a0a12"/>
<circle cx="130.93" cy="163.85" r="2.45" fill="#3a0a12"/>
<circle cx="133.75" cy="163.85" r="2.45" fill="#3a0a12"/>
<circle cx="136.57" cy="163.85" r="2.45" fill="#3a0a12"/>
<circle cx="139.39" cy="163.85" r="2.45" fill="#3a0a12"/>
<circle cx="142.21" cy="163.85" r="2.45" fill="#3a0a12"/>
<circle cx="145.03" cy="163.85" r="2.45" fill="#3a0a12"/>
<circle cx="147.86" cy="163.85" r="2.45" fill="#3a0a12"/>
<circle cx="150.68" cy="163.85" r="2.45" fill="#3a0a12"/>
<circle cx="153.5" cy="163.85" r="2.45" fill="#3a0a12"/>
<circle cx="156.32" cy="163.85" r="2.45" fill="#3a0a12"/>
<circle cx="159.14" cy="163.85" r="2.45" fill="#3a0a12"/>
<circle cx="161.96" cy="163.85" r="2.45" fill="#3a0a12"/>
<circle cx="164.78" cy="163.85" r="2.45" fill="#3a0a12"/>
<circle cx="167.6" cy="163.85" r="2.45" fill="#3a0a12"/>
<circle cx="170.42" cy="163.85" r="2.45" fill="#3a0a12"/>
<circle cx="173.25" cy="163.85" r="2.45" fill="#3a0a12"/>
<circle cx="176.07" cy="163.85" r="2.45" fill="#3a0a12"/>
<circle cx="178.89" cy="163.85" r="2.45" fill="#3a0a12"/>
<circle cx="181.71" cy="163.85" r="2.45" fill="#3a0a12"/>
<circle cx="184.53" cy="163.85" r="2.45" fill="#3a0a12"/>
<circle cx="187.35" cy="163.85" r="2.45" fill="#3a0a12"/>
<circle cx="190.17" cy="163.85" r="2.45" fill="#3a0a12"/>
<circle cx="192.99" cy="163.85" r="2.45" fill="#6e0404"/>
<circle cx="195.81" cy="163.85" r="2.45" fill="#6e0404"/>
<circle cx="198.63" cy="163.85" r="2.45" fill="#6e0404"/>
<circle cx="201.45" cy="163.85" r="2.45" fill="#6e0404"/>
<circle cx="204.28" cy="163.85" r="2.45" fill="#6e0404"/>
<circle cx="207.1" cy="163.85" r="2.45" fill="#6e0404"/>
<circle cx="209.92" cy="163.85" r="2.45" fill="#6e0404"/>
<circle cx="212.74" cy="163.85" r="2.45" fill="#6e0404"/>
<circle cx="215.56" cy="163.85" r="2.45" fill="#6e0404"/>
<circle cx="218.38" cy="163.85" r="2.45" fill="#6e0404"/>
<circle cx="221.2" cy="163.85" r="2.45" fill="#6e0404"/>
<circle cx="224.02" cy="163.85" r="2.45" fill="#6e0404"/>
<circle cx="226.84" cy="163.85" r="2.45" fill="#6e0404"/>
<circle cx="229.67" cy="163.85" r="2.45" fill="#6e0404"/>
<circle cx="232.49" cy="163.85" r="2.45" fill="#6e0404"/>
<circle cx="235.31" cy="163.85" r="2.45" fill="#3a0a12"/>
<circle cx="238.13" cy="163.85" r="2.45" fill="#ff0a0a"/>
<circle cx="240.95" cy="163.85" r="2.45" fill="#ff0a0a"/>
<circle cx="243.77" cy="163.85" r="2.45" fill="#ff0a0a"/>
<circle cx="246.59" cy="163.85" r="2.45" fill="#ff0a0a"/>
<circle cx="249.41" cy="163.85" r="2.45" fill="#ff0a0a"/>
<circle cx="252.23" cy="163.85" r="2.45" fill="#ff0a0a"/>
<circle cx="255.05" cy="163.85" r="2.45" fill="#ff0a0a"/>
<circle cx="257.88" cy="163.85" r="2.45" fill="#3a0a12"/>
<circle cx="260.7" cy="163.85" r="2.45" fill="#ff0a0a"/>
<circle cx="263.52" cy="163.85" r="2.45" fill="#ff0a0a"/>
<circle cx="266.34" cy="163.85" r="2.45" fill="#ff8400"/>
<circle cx="269.16" cy="163.85" r="2.45" fill="#ff8400"/>
<circle cx="271.98" cy="163.85" r="2.45" fill="#ff8400"/>
<circle cx="277.62" cy="163.85" r="2.45" fill="#ff8400"/>
<circle cx="280.44" cy="163.85" r="2.45" fill="#ff8400"/>
<circle cx="283.26" cy="163.85" r="2.45" fill="#ff0a0a"/>
<circle cx="286.09" cy="163.85" r="2.45" fill="#ff8400"/>
<circle cx="288.91" cy="163.85" r="2.45" fill="#ff8400"/>
<circle cx="291.73" cy="163.85" r="2.45" fill="#ff8400"/>
<circle cx="294.55" cy="163.85" r="2.45" fill="#ff8400"/>
<circle cx="297.37" cy="163.85" r="2.45" fill="#ff8400"/>
<circle cx="300.19" cy="163.85" r="2.45" fill="#eef80a"/>
<circle cx="303.01" cy="163.85" r="2.45" fill="#eef80a"/>
<circle cx="305.83" cy="163.85" r="2.45" fill="#eef80a"/>
<circle cx="308.65" cy="163.85" r="2.45" fill="#eef80a"/>
<circle cx="311.47" cy="163.85" r="2.45" fill="#eef80a"/>
<circle cx="77.33" cy="157.83" r="2.45" fill="#2a3aff"/>
<circle cx="80.15" cy="157.83" r="2.45" fill="#eef80a"/>
<circle cx="82.97" cy="157.83" r="2.45" fill="#ff8400"/>
<circle cx="85.79" cy="157.83" r="2.45" fill="#ff0a0a"/>
<circle cx="88.62" cy="157.83" r="2.45" fill="#6e0404"/>
<circle cx="91.44" cy="157.83" r="2.45" fill="#ff0a0a"/>
<circle cx="94.26" cy="157.83" r="2.45" fill="#ff0a0a"/>
<circle cx="97.08" cy="157.83" r="2.45" fill="#ff0a0a"/>
<circle cx="99.9" cy="157.83" r="2.45" fill="#3a0a12"/>
<circle cx="102.72" cy="157.83" r="2.45" fill="#3a0a12"/>
<circle cx="105.54" cy="157.83" r="2.45" fill="#3a0a12"/>
<circle cx="108.36" cy="157.83" r="2.45" fill="#3a0a12"/>
<circle cx="111.18" cy="157.83" r="2.45" fill="#3a0a12"/>
<circle cx="114" cy="157.83" r="2.45" fill="#3a0a12"/>
<circle cx="116.83" cy="157.83" r="2.45" fill="#3a0a12"/>
<circle cx="119.65" cy="157.83" r="2.45" fill="#3a0a12"/>
<circle cx="122.47" cy="157.83" r="2.45" fill="#3a0a12"/>
<circle cx="125.29" cy="157.83" r="2.45" fill="#3a0a12"/>
<circle cx="128.11" cy="157.83" r="2.45" fill="#3a0a12"/>
<circle cx="130.93" cy="157.83" r="2.45" fill="#3a0a12"/>
<circle cx="133.75" cy="157.83" r="2.45" fill="#3a0a12"/>
<circle cx="136.57" cy="157.83" r="2.45" fill="#3a0a12"/>
<circle cx="139.39" cy="157.83" r="2.45" fill="#3a0a12"/>
<circle cx="142.21" cy="157.83" r="2.45" fill="#3a0a12"/>
<circle cx="145.03" cy="157.83" r="2.45" fill="#3a0a12"/>
<circle cx="147.86" cy="157.83" r="2.45" fill="#3a0a12"/>
<circle cx="150.68" cy="157.83" r="2.45" fill="#3a0a12"/>
<circle cx="153.5" cy="157.83" r="2.45" fill="#3a0a12"/>
<circle cx="156.32" cy="157.83" r="2.45" fill="#3a0a12"/>
<circle cx="159.14" cy="157.83" r="2.45" fill="#3a0a12"/>
<circle cx="161.96" cy="157.83" r="2.45" fill="#3a0a12"/>
<circle cx="164.78" cy="157.83" r="2.45" fill="#3a0a12"/>
<circle cx="167.6" cy="157.83" r="2.45" fill="#3a0a12"/>
<circle cx="170.42" cy="157.83" r="2.45" fill="#3a0a12"/>
<circle cx="173.25" cy="157.83" r="2.45" fill="#3a0a12"/>
<circle cx="176.07" cy="157.83" r="2.45" fill="#3a0a12"/>
<circle cx="178.89" cy="157.83" r="2.45" fill="#6e0404"/>
<circle cx="181.71" cy="157.83" r="2.45" fill="#6e0404"/>
<circle cx="184.53" cy="157.83" r="2.45" fill="#6e0404"/>
<circle cx="187.35" cy="157.83" r="2.45" fill="#6e0404"/>
<circle cx="190.17" cy="157.83" r="2.45" fill="#6e0404"/>
<circle cx="192.99" cy="157.83" r="2.45" fill="#6e0404"/>
<circle cx="195.81" cy="157.83" r="2.45" fill="#6e0404"/>
<circle cx="198.63" cy="157.83" r="2.45" fill="#6e0404"/>
<circle cx="201.45" cy="157.83" r="2.45" fill="#6e0404"/>
<circle cx="204.28" cy="157.83" r="2.45" fill="#6e0404"/>
<circle cx="207.1" cy="157.83" r="2.45" fill="#6e0404"/>
<circle cx="209.92" cy="157.83" r="2.45" fill="#ff0a0a"/>
<circle cx="212.74" cy="157.83" r="2.45" fill="#ff0a0a"/>
<circle cx="215.56" cy="157.83" r="2.45" fill="#ff0a0a"/>
<circle cx="218.38" cy="157.83" r="2.45" fill="#3a0a12"/>
<circle cx="221.2" cy="157.83" r="2.45" fill="#ff0a0a"/>
<circle cx="224.02" cy="157.83" r="2.45" fill="#ff0a0a"/>
<circle cx="226.84" cy="157.83" r="2.45" fill="#ff0a0a"/>
<circle cx="229.67" cy="157.83" r="2.45" fill="#ff0a0a"/>
<circle cx="232.49" cy="157.83" r="2.45" fill="#ff0a0a"/>
<circle cx="235.31" cy="157.83" r="2.45" fill="#ff0a0a"/>
<circle cx="238.13" cy="157.83" r="2.45" fill="#ff0a0a"/>
<circle cx="240.95" cy="157.83" r="2.45" fill="#ff0a0a"/>
<circle cx="243.77" cy="157.83" r="2.45" fill="#3a0a12"/>
<circle cx="246.59" cy="157.83" r="2.45" fill="#ff0a0a"/>
<circle cx="249.41" cy="157.83" r="2.45" fill="#ff0a0a"/>
<circle cx="252.23" cy="157.83" r="2.45" fill="#ff0a0a"/>
<circle cx="255.05" cy="157.83" r="2.45" fill="#ff0a0a"/>
<circle cx="257.88" cy="157.83" r="2.45" fill="#ff0a0a"/>
<circle cx="263.52" cy="157.83" r="2.45" fill="#6e0404"/>
<circle cx="266.34" cy="157.83" r="2.45" fill="#ff8400"/>
<circle cx="269.16" cy="157.83" r="2.45" fill="#ff8400"/>
<circle cx="271.98" cy="157.83" r="2.45" fill="#ff8400"/>
<circle cx="274.8" cy="157.83" r="2.45" fill="#ff8400"/>
<circle cx="283.26" cy="157.83" r="2.45" fill="#ff8400"/>
<circle cx="286.09" cy="157.83" r="2.45" fill="#ff8400"/>
<circle cx="288.91" cy="157.83" r="2.45" fill="#ff0a0a"/>
<circle cx="291.73" cy="157.83" r="2.45" fill="#ff0a0a"/>
<circle cx="294.55" cy="157.83" r="2.45" fill="#eef80a"/>
<circle cx="297.37" cy="157.83" r="2.45" fill="#eef80a"/>
<circle cx="300.19" cy="157.83" r="2.45" fill="#eef80a"/>
<circle cx="303.01" cy="157.83" r="2.45" fill="#eef80a"/>
<circle cx="305.83" cy="157.83" r="2.45" fill="#eef80a"/>
<circle cx="311.47" cy="157.83" r="2.45" fill="#eef80a"/>
<circle cx="314.3" cy="157.83" r="2.45" fill="#eef80a"/>
<circle cx="80.15" cy="151.82" r="2.45" fill="#74f400"/>
<circle cx="82.97" cy="151.82" r="2.45" fill="#eef80a"/>
<circle cx="85.79" cy="151.82" r="2.45" fill="#ff8400"/>
<circle cx="88.62" cy="151.82" r="2.45" fill="#74f400"/>
<circle cx="91.44" cy="151.82" r="2.45" fill="#ff8400"/>
<circle cx="94.26" cy="151.82" r="2.45" fill="#ff8400"/>
<circle cx="97.08" cy="151.82" r="2.45" fill="#ff0a0a"/>
<circle cx="99.9" cy="151.82" r="2.45" fill="#3a0a12"/>
<circle cx="102.72" cy="151.82" r="2.45" fill="#3a0a12"/>
<circle cx="105.54" cy="151.82" r="2.45" fill="#3a0a12"/>
<circle cx="108.36" cy="151.82" r="2.45" fill="#3a0a12"/>
<circle cx="111.18" cy="151.82" r="2.45" fill="#3a0a12"/>
<circle cx="114" cy="151.82" r="2.45" fill="#3a0a12"/>
<circle cx="116.83" cy="151.82" r="2.45" fill="#3a0a12"/>
<circle cx="119.65" cy="151.82" r="2.45" fill="#3a0a12"/>
<circle cx="122.47" cy="151.82" r="2.45" fill="#3a0a12"/>
<circle cx="125.29" cy="151.82" r="2.45" fill="#3a0a12"/>
<circle cx="128.11" cy="151.82" r="2.45" fill="#3a0a12"/>
<circle cx="130.93" cy="151.82" r="2.45" fill="#3a0a12"/>
<circle cx="133.75" cy="151.82" r="2.45" fill="#3a0a12"/>
<circle cx="136.57" cy="151.82" r="2.45" fill="#3a0a12"/>
<circle cx="139.39" cy="151.82" r="2.45" fill="#3a0a12"/>
<circle cx="142.21" cy="151.82" r="2.45" fill="#3a0a12"/>
<circle cx="145.03" cy="151.82" r="2.45" fill="#3a0a12"/>
<circle cx="147.86" cy="151.82" r="2.45" fill="#3a0a12"/>
<circle cx="150.68" cy="151.82" r="2.45" fill="#3a0a12"/>
<circle cx="153.5" cy="151.82" r="2.45" fill="#3a0a12"/>
<circle cx="156.32" cy="151.82" r="2.45" fill="#3a0a12"/>
<circle cx="159.14" cy="151.82" r="2.45" fill="#3a0a12"/>
<circle cx="161.96" cy="151.82" r="2.45" fill="#3a0a12"/>
<circle cx="164.78" cy="151.82" r="2.45" fill="#3a0a12"/>
<circle cx="167.6" cy="151.82" r="2.45" fill="#3a0a12"/>
<circle cx="170.42" cy="151.82" r="2.45" fill="#3a0a12"/>
<circle cx="173.25" cy="151.82" r="2.45" fill="#3a0a12"/>
<circle cx="176.07" cy="151.82" r="2.45" fill="#3a0a12"/>
<circle cx="178.89" cy="151.82" r="2.45" fill="#3a0a12"/>
<circle cx="181.71" cy="151.82" r="2.45" fill="#3a0a12"/>
<circle cx="184.53" cy="151.82" r="2.45" fill="#3a0a12"/>
<circle cx="187.35" cy="151.82" r="2.45" fill="#3a0a12"/>
<circle cx="190.17" cy="151.82" r="2.45" fill="#3a0a12"/>
<circle cx="192.99" cy="151.82" r="2.45" fill="#3a0a12"/>
<circle cx="195.81" cy="151.82" r="2.45" fill="#3a0a12"/>
<circle cx="198.63" cy="151.82" r="2.45" fill="#3a0a12"/>
<circle cx="201.45" cy="151.82" r="2.45" fill="#3a0a12"/>
<circle cx="204.28" cy="151.82" r="2.45" fill="#3a0a12"/>
<circle cx="207.1" cy="151.82" r="2.45" fill="#3a0a12"/>
<circle cx="209.92" cy="151.82" r="2.45" fill="#ff0a0a"/>
<circle cx="212.74" cy="151.82" r="2.45" fill="#ff0a0a"/>
<circle cx="215.56" cy="151.82" r="2.45" fill="#ff0a0a"/>
<circle cx="218.38" cy="151.82" r="2.45" fill="#ff0a0a"/>
<circle cx="221.2" cy="151.82" r="2.45" fill="#ff0a0a"/>
<circle cx="224.02" cy="151.82" r="2.45" fill="#3a0a12"/>
<circle cx="226.84" cy="151.82" r="2.45" fill="#ff0a0a"/>
<circle cx="229.67" cy="151.82" r="2.45" fill="#ff0a0a"/>
<circle cx="232.49" cy="151.82" r="2.45" fill="#ff0a0a"/>
<circle cx="235.31" cy="151.82" r="2.45" fill="#ff0a0a"/>
<circle cx="238.13" cy="151.82" r="2.45" fill="#ff0a0a"/>
<circle cx="240.95" cy="151.82" r="2.45" fill="#ff0a0a"/>
<circle cx="243.77" cy="151.82" r="2.45" fill="#ff0a0a"/>
<circle cx="246.59" cy="151.82" r="2.45" fill="#ff8400"/>
<circle cx="249.41" cy="151.82" r="2.45" fill="#ff0a0a"/>
<circle cx="255.05" cy="151.82" r="2.45" fill="#ff0a0a"/>
<circle cx="257.88" cy="151.82" r="2.45" fill="#ff0a0a"/>
<circle cx="263.52" cy="151.82" r="2.45" fill="#ff8400"/>
<circle cx="266.34" cy="151.82" r="2.45" fill="#ff0a0a"/>
<circle cx="269.16" cy="151.82" r="2.45" fill="#ff0a0a"/>
<circle cx="271.98" cy="151.82" r="2.45" fill="#ff8400"/>
<circle cx="283.26" cy="151.82" r="2.45" fill="#ff8400"/>
<circle cx="286.09" cy="151.82" r="2.45" fill="#ff8400"/>
<circle cx="291.73" cy="151.82" r="2.45" fill="#ff0a0a"/>
<circle cx="294.55" cy="151.82" r="2.45" fill="#ff8400"/>
<circle cx="297.37" cy="151.82" r="2.45" fill="#eef80a"/>
<circle cx="300.19" cy="151.82" r="2.45" fill="#eef80a"/>
<circle cx="303.01" cy="151.82" r="2.45" fill="#eef80a"/>
<circle cx="305.83" cy="151.82" r="2.45" fill="#eef80a"/>
<circle cx="308.65" cy="151.82" r="2.45" fill="#eef80a"/>
<circle cx="311.47" cy="151.82" r="2.45" fill="#eef80a"/>
<circle cx="314.3" cy="151.82" r="2.45" fill="#eef80a"/>
<circle cx="82.97" cy="145.8" r="2.45" fill="#c0fff4"/>
<circle cx="85.79" cy="145.8" r="2.45" fill="#eef80a"/>
<circle cx="88.62" cy="145.8" r="2.45" fill="#ff8400"/>
<circle cx="91.44" cy="145.8" r="2.45" fill="#eef80a"/>
<circle cx="94.26" cy="145.8" r="2.45" fill="#eef80a"/>
<circle cx="97.08" cy="145.8" r="2.45" fill="#ff8400"/>
<circle cx="99.9" cy="145.8" r="2.45" fill="#6e0404"/>
<circle cx="102.72" cy="145.8" r="2.45" fill="#6e0404"/>
<circle cx="105.54" cy="145.8" r="2.45" fill="#6e0404"/>
<circle cx="108.36" cy="145.8" r="2.45" fill="#3a0a12"/>
<circle cx="111.18" cy="145.8" r="2.45" fill="#6e0404"/>
<circle cx="114" cy="145.8" r="2.45" fill="#6e0404"/>
<circle cx="116.83" cy="145.8" r="2.45" fill="#3a0a12"/>
<circle cx="119.65" cy="145.8" r="2.45" fill="#3a0a12"/>
<circle cx="122.47" cy="145.8" r="2.45" fill="#3a0a12"/>
<circle cx="125.29" cy="145.8" r="2.45" fill="#3a0a12"/>
<circle cx="128.11" cy="145.8" r="2.45" fill="#3a0a12"/>
<circle cx="130.93" cy="145.8" r="2.45" fill="#3a0a12"/>
<circle cx="133.75" cy="145.8" r="2.45" fill="#3a0a12"/>
<circle cx="136.57" cy="145.8" r="2.45" fill="#3a0a12"/>
<circle cx="139.39" cy="145.8" r="2.45" fill="#6e0404"/>
<circle cx="142.21" cy="145.8" r="2.45" fill="#6e0404"/>
<circle cx="145.03" cy="145.8" r="2.45" fill="#6e0404"/>
<circle cx="147.86" cy="145.8" r="2.45" fill="#6e0404"/>
<circle cx="150.68" cy="145.8" r="2.45" fill="#6e0404"/>
<circle cx="153.5" cy="145.8" r="2.45" fill="#3a0a12"/>
<circle cx="156.32" cy="145.8" r="2.45" fill="#3a0a12"/>
<circle cx="159.14" cy="145.8" r="2.45" fill="#3a0a12"/>
<circle cx="161.96" cy="145.8" r="2.45" fill="#6e0404"/>
<circle cx="164.78" cy="145.8" r="2.45" fill="#6e0404"/>
<circle cx="167.6" cy="145.8" r="2.45" fill="#6e0404"/>
<circle cx="170.42" cy="145.8" r="2.45" fill="#6e0404"/>
<circle cx="173.25" cy="145.8" r="2.45" fill="#6e0404"/>
<circle cx="176.07" cy="145.8" r="2.45" fill="#6e0404"/>
<circle cx="178.89" cy="145.8" r="2.45" fill="#6e0404"/>
<circle cx="181.71" cy="145.8" r="2.45" fill="#6e0404"/>
<circle cx="184.53" cy="145.8" r="2.45" fill="#6e0404"/>
<circle cx="187.35" cy="145.8" r="2.45" fill="#6e0404"/>
<circle cx="190.17" cy="145.8" r="2.45" fill="#3a0a12"/>
<circle cx="192.99" cy="145.8" r="2.45" fill="#3a0a12"/>
<circle cx="195.81" cy="145.8" r="2.45" fill="#3a0a12"/>
<circle cx="198.63" cy="145.8" r="2.45" fill="#ff0a0a"/>
<circle cx="201.45" cy="145.8" r="2.45" fill="#ff0a0a"/>
<circle cx="204.28" cy="145.8" r="2.45" fill="#3a0a12"/>
<circle cx="207.1" cy="145.8" r="2.45" fill="#3a0a12"/>
<circle cx="209.92" cy="145.8" r="2.45" fill="#ff0a0a"/>
<circle cx="212.74" cy="145.8" r="2.45" fill="#ff0a0a"/>
<circle cx="215.56" cy="145.8" r="2.45" fill="#ff0a0a"/>
<circle cx="218.38" cy="145.8" r="2.45" fill="#ff0a0a"/>
<circle cx="221.2" cy="145.8" r="2.45" fill="#ff0a0a"/>
<circle cx="224.02" cy="145.8" r="2.45" fill="#3a0a12"/>
<circle cx="226.84" cy="145.8" r="2.45" fill="#ff0a0a"/>
<circle cx="229.67" cy="145.8" r="2.45" fill="#ff0a0a"/>
<circle cx="232.49" cy="145.8" r="2.45" fill="#ff0a0a"/>
<circle cx="235.31" cy="145.8" r="2.45" fill="#ff0a0a"/>
<circle cx="238.13" cy="145.8" r="2.45" fill="#3a0a12"/>
<circle cx="240.95" cy="145.8" r="2.45" fill="#ff8400"/>
<circle cx="243.77" cy="145.8" r="2.45" fill="#ff8400"/>
<circle cx="246.59" cy="145.8" r="2.45" fill="#ff8400"/>
<circle cx="249.41" cy="145.8" r="2.45" fill="#ff8400"/>
<circle cx="255.05" cy="145.8" r="2.45" fill="#ff8400"/>
<circle cx="257.88" cy="145.8" r="2.45" fill="#ff8400"/>
<circle cx="263.52" cy="145.8" r="2.45" fill="#eef80a"/>
<circle cx="266.34" cy="145.8" r="2.45" fill="#ff8400"/>
<circle cx="269.16" cy="145.8" r="2.45" fill="#ff8400"/>
<circle cx="271.98" cy="145.8" r="2.45" fill="#ff8400"/>
<circle cx="274.8" cy="145.8" r="2.45" fill="#ff8400"/>
<circle cx="277.62" cy="145.8" r="2.45" fill="#ff8400"/>
<circle cx="280.44" cy="145.8" r="2.45" fill="#ff8400"/>
<circle cx="283.26" cy="145.8" r="2.45" fill="#ff8400"/>
<circle cx="286.09" cy="145.8" r="2.45" fill="#ff8400"/>
<circle cx="288.91" cy="145.8" r="2.45" fill="#ff8400"/>
<circle cx="291.73" cy="145.8" r="2.45" fill="#ff8400"/>
<circle cx="294.55" cy="145.8" r="2.45" fill="#eef80a"/>
<circle cx="297.37" cy="145.8" r="2.45" fill="#eef80a"/>
<circle cx="300.19" cy="145.8" r="2.45" fill="#eef80a"/>
<circle cx="303.01" cy="145.8" r="2.45" fill="#eef80a"/>
<circle cx="305.83" cy="145.8" r="2.45" fill="#eef80a"/>
<circle cx="308.65" cy="145.8" r="2.45" fill="#eef80a"/>
<circle cx="311.47" cy="145.8" r="2.45" fill="#eef80a"/>
<circle cx="314.3" cy="145.8" r="2.45" fill="#eef80a"/>
<circle cx="88.62" cy="139.79" r="2.45" fill="#26b426"/>
<circle cx="91.44" cy="139.79" r="2.45" fill="#74f400"/>
<circle cx="94.26" cy="139.79" r="2.45" fill="#26b426"/>
<circle cx="97.08" cy="139.79" r="2.45" fill="#26b426"/>
<circle cx="99.9" cy="139.79" r="2.45" fill="#ff0a0a"/>
<circle cx="102.72" cy="139.79" r="2.45" fill="#6e0404"/>
<circle cx="105.54" cy="139.79" r="2.45" fill="#6e0404"/>
<circle cx="108.36" cy="139.79" r="2.45" fill="#6e0404"/>
<circle cx="111.18" cy="139.79" r="2.45" fill="#6e0404"/>
<circle cx="114" cy="139.79" r="2.45" fill="#3a0a12"/>
<circle cx="116.83" cy="139.79" r="2.45" fill="#6e0404"/>
<circle cx="119.65" cy="139.79" r="2.45" fill="#6e0404"/>
<circle cx="122.47" cy="139.79" r="2.45" fill="#6e0404"/>
<circle cx="125.29" cy="139.79" r="2.45" fill="#6e0404"/>
<circle cx="128.11" cy="139.79" r="2.45" fill="#6e0404"/>
<circle cx="130.93" cy="139.79" r="2.45" fill="#6e0404"/>
<circle cx="133.75" cy="139.79" r="2.45" fill="#3a0a12"/>
<circle cx="136.57" cy="139.79" r="2.45" fill="#6e0404"/>
<circle cx="139.39" cy="139.79" r="2.45" fill="#3a0a12"/>
<circle cx="142.21" cy="139.79" r="2.45" fill="#6e0404"/>
<circle cx="145.03" cy="139.79" r="2.45" fill="#6e0404"/>
<circle cx="147.86" cy="139.79" r="2.45" fill="#6e0404"/>
<circle cx="150.68" cy="139.79" r="2.45" fill="#6e0404"/>
<circle cx="153.5" cy="139.79" r="2.45" fill="#6e0404"/>
<circle cx="156.32" cy="139.79" r="2.45" fill="#6e0404"/>
<circle cx="159.14" cy="139.79" r="2.45" fill="#3a0a12"/>
<circle cx="161.96" cy="139.79" r="2.45" fill="#6e0404"/>
<circle cx="164.78" cy="139.79" r="2.45" fill="#6e0404"/>
<circle cx="167.6" cy="139.79" r="2.45" fill="#6e0404"/>
<circle cx="170.42" cy="139.79" r="2.45" fill="#6e0404"/>
<circle cx="173.25" cy="139.79" r="2.45" fill="#6e0404"/>
<circle cx="176.07" cy="139.79" r="2.45" fill="#6e0404"/>
<circle cx="178.89" cy="139.79" r="2.45" fill="#6e0404"/>
<circle cx="181.71" cy="139.79" r="2.45" fill="#6e0404"/>
<circle cx="184.53" cy="139.79" r="2.45" fill="#6e0404"/>
<circle cx="187.35" cy="139.79" r="2.45" fill="#6e0404"/>
<circle cx="190.17" cy="139.79" r="2.45" fill="#ff0a0a"/>
<circle cx="192.99" cy="139.79" r="2.45" fill="#3a0a12"/>
<circle cx="195.81" cy="139.79" r="2.45" fill="#ff0a0a"/>
<circle cx="198.63" cy="139.79" r="2.45" fill="#ff0a0a"/>
<circle cx="201.45" cy="139.79" r="2.45" fill="#3a0a12"/>
<circle cx="204.28" cy="139.79" r="2.45" fill="#ff0a0a"/>
<circle cx="207.1" cy="139.79" r="2.45" fill="#ff0a0a"/>
<circle cx="209.92" cy="139.79" r="2.45" fill="#3a0a12"/>
<circle cx="212.74" cy="139.79" r="2.45" fill="#ff0a0a"/>
<circle cx="215.56" cy="139.79" r="2.45" fill="#ff0a0a"/>
<circle cx="218.38" cy="139.79" r="2.45" fill="#ff0a0a"/>
<circle cx="221.2" cy="139.79" r="2.45" fill="#ff0a0a"/>
<circle cx="224.02" cy="139.79" r="2.45" fill="#ff0a0a"/>
<circle cx="226.84" cy="139.79" r="2.45" fill="#ff0a0a"/>
<circle cx="229.67" cy="139.79" r="2.45" fill="#ff8400"/>
<circle cx="232.49" cy="139.79" r="2.45" fill="#ff8400"/>
<circle cx="235.31" cy="139.79" r="2.45" fill="#ff8400"/>
<circle cx="238.13" cy="139.79" r="2.45" fill="#ff8400"/>
<circle cx="240.95" cy="139.79" r="2.45" fill="#ff8400"/>
<circle cx="243.77" cy="139.79" r="2.45" fill="#ff8400"/>
<circle cx="246.59" cy="139.79" r="2.45" fill="#ff8400"/>
<circle cx="249.41" cy="139.79" r="2.45" fill="#ff8400"/>
<circle cx="252.23" cy="139.79" r="2.45" fill="#ff8400"/>
<circle cx="255.05" cy="139.79" r="2.45" fill="#ff0a0a"/>
<circle cx="257.88" cy="139.79" r="2.45" fill="#ff8400"/>
<circle cx="263.52" cy="139.79" r="2.45" fill="#ff8400"/>
<circle cx="266.34" cy="139.79" r="2.45" fill="#eef80a"/>
<circle cx="269.16" cy="139.79" r="2.45" fill="#eef80a"/>
<circle cx="271.98" cy="139.79" r="2.45" fill="#eef80a"/>
<circle cx="274.8" cy="139.79" r="2.45" fill="#ff8400"/>
<circle cx="286.09" cy="139.79" r="2.45" fill="#ff8400"/>
<circle cx="288.91" cy="139.79" r="2.45" fill="#ff8400"/>
<circle cx="291.73" cy="139.79" r="2.45" fill="#eef80a"/>
<circle cx="294.55" cy="139.79" r="2.45" fill="#eef80a"/>
<circle cx="297.37" cy="139.79" r="2.45" fill="#eef80a"/>
<circle cx="300.19" cy="139.79" r="2.45" fill="#eef80a"/>
<circle cx="303.01" cy="139.79" r="2.45" fill="#eef80a"/>
<circle cx="305.83" cy="139.79" r="2.45" fill="#eef80a"/>
<circle cx="314.3" cy="139.79" r="2.45" fill="#74f400"/>
<circle cx="91.44" cy="133.77" r="2.45" fill="#2a3aff"/>
<circle cx="94.26" cy="133.77" r="2.45" fill="#74f400"/>
<circle cx="97.08" cy="133.77" r="2.45" fill="#eef80a"/>
<circle cx="99.9" cy="133.77" r="2.45" fill="#eef80a"/>
<circle cx="102.72" cy="133.77" r="2.45" fill="#ff8400"/>
<circle cx="105.54" cy="133.77" r="2.45" fill="#ff0a0a"/>
<circle cx="108.36" cy="133.77" r="2.45" fill="#ff0a0a"/>
<circle cx="111.18" cy="133.77" r="2.45" fill="#6e0404"/>
<circle cx="114" cy="133.77" r="2.45" fill="#6e0404"/>
<circle cx="116.83" cy="133.77" r="2.45" fill="#6e0404"/>
<circle cx="119.65" cy="133.77" r="2.45" fill="#3a0a12"/>
<circle cx="122.47" cy="133.77" r="2.45" fill="#6e0404"/>
<circle cx="125.29" cy="133.77" r="2.45" fill="#6e0404"/>
<circle cx="128.11" cy="133.77" r="2.45" fill="#6e0404"/>
<circle cx="130.93" cy="133.77" r="2.45" fill="#6e0404"/>
<circle cx="133.75" cy="133.77" r="2.45" fill="#6e0404"/>
<circle cx="136.57" cy="133.77" r="2.45" fill="#6e0404"/>
<circle cx="139.39" cy="133.77" r="2.45" fill="#3a0a12"/>
<circle cx="142.21" cy="133.77" r="2.45" fill="#6e0404"/>
<circle cx="145.03" cy="133.77" r="2.45" fill="#6e0404"/>
<circle cx="147.86" cy="133.77" r="2.45" fill="#6e0404"/>
<circle cx="150.68" cy="133.77" r="2.45" fill="#6e0404"/>
<circle cx="153.5" cy="133.77" r="2.45" fill="#6e0404"/>
<circle cx="156.32" cy="133.77" r="2.45" fill="#6e0404"/>
<circle cx="159.14" cy="133.77" r="2.45" fill="#6e0404"/>
<circle cx="161.96" cy="133.77" r="2.45" fill="#6e0404"/>
<circle cx="164.78" cy="133.77" r="2.45" fill="#3a0a12"/>
<circle cx="167.6" cy="133.77" r="2.45" fill="#6e0404"/>
<circle cx="170.42" cy="133.77" r="2.45" fill="#6e0404"/>
<circle cx="173.25" cy="133.77" r="2.45" fill="#6e0404"/>
<circle cx="176.07" cy="133.77" r="2.45" fill="#6e0404"/>
<circle cx="178.89" cy="133.77" r="2.45" fill="#6e0404"/>
<circle cx="181.71" cy="133.77" r="2.45" fill="#6e0404"/>
<circle cx="184.53" cy="133.77" r="2.45" fill="#3a0a12"/>
<circle cx="187.35" cy="133.77" r="2.45" fill="#6e0404"/>
<circle cx="190.17" cy="133.77" r="2.45" fill="#ff0a0a"/>
<circle cx="192.99" cy="133.77" r="2.45" fill="#ff0a0a"/>
<circle cx="195.81" cy="133.77" r="2.45" fill="#ff0a0a"/>
<circle cx="198.63" cy="133.77" r="2.45" fill="#ff0a0a"/>
<circle cx="201.45" cy="133.77" r="2.45" fill="#ff0a0a"/>
<circle cx="204.28" cy="133.77" r="2.45" fill="#ff0a0a"/>
<circle cx="207.1" cy="133.77" r="2.45" fill="#ff0a0a"/>
<circle cx="209.92" cy="133.77" r="2.45" fill="#3a0a12"/>
<circle cx="212.74" cy="133.77" r="2.45" fill="#ff0a0a"/>
<circle cx="215.56" cy="133.77" r="2.45" fill="#ff0a0a"/>
<circle cx="218.38" cy="133.77" r="2.45" fill="#ff0a0a"/>
<circle cx="221.2" cy="133.77" r="2.45" fill="#ff8400"/>
<circle cx="224.02" cy="133.77" r="2.45" fill="#ff8400"/>
<circle cx="229.67" cy="133.77" r="2.45" fill="#ff8400"/>
<circle cx="232.49" cy="133.77" r="2.45" fill="#ff8400"/>
<circle cx="235.31" cy="133.77" r="2.45" fill="#ff0a0a"/>
<circle cx="238.13" cy="133.77" r="2.45" fill="#ff8400"/>
<circle cx="240.95" cy="133.77" r="2.45" fill="#ff8400"/>
<circle cx="255.05" cy="133.77" r="2.45" fill="#ff0a0a"/>
<circle cx="257.88" cy="133.77" r="2.45" fill="#ff8400"/>
<circle cx="260.7" cy="133.77" r="2.45" fill="#ff8400"/>
<circle cx="263.52" cy="133.77" r="2.45" fill="#ff8400"/>
<circle cx="269.16" cy="133.77" r="2.45" fill="#eef80a"/>
<circle cx="271.98" cy="133.77" r="2.45" fill="#eef80a"/>
<circle cx="274.8" cy="133.77" r="2.45" fill="#eef80a"/>
<circle cx="277.62" cy="133.77" r="2.45" fill="#eef80a"/>
<circle cx="283.26" cy="133.77" r="2.45" fill="#eef80a"/>
<circle cx="288.91" cy="133.77" r="2.45" fill="#eef80a"/>
<circle cx="291.73" cy="133.77" r="2.45" fill="#eef80a"/>
<circle cx="294.55" cy="133.77" r="2.45" fill="#eef80a"/>
<circle cx="297.37" cy="133.77" r="2.45" fill="#eef80a"/>
<circle cx="300.19" cy="133.77" r="2.45" fill="#ff8400"/>
<circle cx="303.01" cy="133.77" r="2.45" fill="#eef80a"/>
<circle cx="305.83" cy="133.77" r="2.45" fill="#eef80a"/>
<circle cx="308.65" cy="133.77" r="2.45" fill="#eef80a"/>
<circle cx="311.47" cy="133.77" r="2.45" fill="#eef80a"/>
<circle cx="97.08" cy="127.76" r="2.45" fill="#26b426"/>
<circle cx="99.9" cy="127.76" r="2.45" fill="#eef80a"/>
<circle cx="102.72" cy="127.76" r="2.45" fill="#26b426"/>
<circle cx="105.54" cy="127.76" r="2.45" fill="#ff8400"/>
<circle cx="108.36" cy="127.76" r="2.45" fill="#ff0a0a"/>
<circle cx="111.18" cy="127.76" r="2.45" fill="#ff0a0a"/>
<circle cx="114" cy="127.76" r="2.45" fill="#ff0a0a"/>
<circle cx="116.83" cy="127.76" r="2.45" fill="#ff0a0a"/>
<circle cx="119.65" cy="127.76" r="2.45" fill="#6e0404"/>
<circle cx="122.47" cy="127.76" r="2.45" fill="#6e0404"/>
<circle cx="125.29" cy="127.76" r="2.45" fill="#6e0404"/>
<circle cx="128.11" cy="127.76" r="2.45" fill="#6e0404"/>
<circle cx="130.93" cy="127.76" r="2.45" fill="#6e0404"/>
<circle cx="133.75" cy="127.76" r="2.45" fill="#6e0404"/>
<circle cx="136.57" cy="127.76" r="2.45" fill="#6e0404"/>
<circle cx="139.39" cy="127.76" r="2.45" fill="#6e0404"/>
<circle cx="142.21" cy="127.76" r="2.45" fill="#6e0404"/>
<circle cx="145.03" cy="127.76" r="2.45" fill="#6e0404"/>
<circle cx="147.86" cy="127.76" r="2.45" fill="#6e0404"/>
<circle cx="150.68" cy="127.76" r="2.45" fill="#6e0404"/>
<circle cx="153.5" cy="127.76" r="2.45" fill="#ff0a0a"/>
<circle cx="156.32" cy="127.76" r="2.45" fill="#6e0404"/>
<circle cx="159.14" cy="127.76" r="2.45" fill="#6e0404"/>
<circle cx="161.96" cy="127.76" r="2.45" fill="#6e0404"/>
<circle cx="164.78" cy="127.76" r="2.45" fill="#6e0404"/>
<circle cx="167.6" cy="127.76" r="2.45" fill="#6e0404"/>
<circle cx="170.42" cy="127.76" r="2.45" fill="#6e0404"/>
<circle cx="173.25" cy="127.76" r="2.45" fill="#6e0404"/>
<circle cx="176.07" cy="127.76" r="2.45" fill="#6e0404"/>
<circle cx="178.89" cy="127.76" r="2.45" fill="#6e0404"/>
<circle cx="181.71" cy="127.76" r="2.45" fill="#ff0a0a"/>
<circle cx="184.53" cy="127.76" r="2.45" fill="#ff0a0a"/>
<circle cx="187.35" cy="127.76" r="2.45" fill="#ff0a0a"/>
<circle cx="190.17" cy="127.76" r="2.45" fill="#3a0a12"/>
<circle cx="192.99" cy="127.76" r="2.45" fill="#ff0a0a"/>
<circle cx="195.81" cy="127.76" r="2.45" fill="#ff0a0a"/>
<circle cx="198.63" cy="127.76" r="2.45" fill="#ff0a0a"/>
<circle cx="201.45" cy="127.76" r="2.45" fill="#ff0a0a"/>
<circle cx="204.28" cy="127.76" r="2.45" fill="#ff0a0a"/>
<circle cx="207.1" cy="127.76" r="2.45" fill="#ff0a0a"/>
<circle cx="209.92" cy="127.76" r="2.45" fill="#ff0a0a"/>
<circle cx="212.74" cy="127.76" r="2.45" fill="#ff8400"/>
<circle cx="215.56" cy="127.76" r="2.45" fill="#ff0a0a"/>
<circle cx="218.38" cy="127.76" r="2.45" fill="#ff8400"/>
<circle cx="221.2" cy="127.76" r="2.45" fill="#ff8400"/>
<circle cx="224.02" cy="127.76" r="2.45" fill="#ff8400"/>
<circle cx="226.84" cy="127.76" r="2.45" fill="#ff8400"/>
<circle cx="229.67" cy="127.76" r="2.45" fill="#ff8400"/>
<circle cx="249.41" cy="127.76" r="2.45" fill="#ff8400"/>
<circle cx="263.52" cy="127.76" r="2.45" fill="#eef80a"/>
<circle cx="266.34" cy="127.76" r="2.45" fill="#eef80a"/>
<circle cx="271.98" cy="127.76" r="2.45" fill="#eef80a"/>
<circle cx="274.8" cy="127.76" r="2.45" fill="#eef80a"/>
<circle cx="277.62" cy="127.76" r="2.45" fill="#eef80a"/>
<circle cx="280.44" cy="127.76" r="2.45" fill="#ff8400"/>
<circle cx="286.09" cy="127.76" r="2.45" fill="#ff8400"/>
<circle cx="288.91" cy="127.76" r="2.45" fill="#eef80a"/>
<circle cx="294.55" cy="127.76" r="2.45" fill="#eef80a"/>
<circle cx="297.37" cy="127.76" r="2.45" fill="#eef80a"/>
<circle cx="300.19" cy="127.76" r="2.45" fill="#eef80a"/>
<circle cx="303.01" cy="127.76" r="2.45" fill="#eef80a"/>
<circle cx="305.83" cy="127.76" r="2.45" fill="#eef80a"/>
<circle cx="308.65" cy="127.76" r="2.45" fill="#eef80a"/>
<circle cx="314.3" cy="127.76" r="2.45" fill="#74f400"/>
<circle cx="99.9" cy="121.74" r="2.45" fill="#eef80a"/>
<circle cx="102.72" cy="121.74" r="2.45" fill="#26b426"/>
<circle cx="105.54" cy="121.74" r="2.45" fill="#26b426"/>
<circle cx="108.36" cy="121.74" r="2.45" fill="#74f400"/>
<circle cx="111.18" cy="121.74" r="2.45" fill="#ff8400"/>
<circle cx="114" cy="121.74" r="2.45" fill="#ff8400"/>
<circle cx="116.83" cy="121.74" r="2.45" fill="#ff0a0a"/>
<circle cx="119.65" cy="121.74" r="2.45" fill="#ff0a0a"/>
<circle cx="122.47" cy="121.74" r="2.45" fill="#ff0a0a"/>
<circle cx="125.29" cy="121.74" r="2.45" fill="#3a0a12"/>
<circle cx="128.11" cy="121.74" r="2.45" fill="#ff0a0a"/>
<circle cx="130.93" cy="121.74" r="2.45" fill="#ff0a0a"/>
<circle cx="133.75" cy="121.74" r="2.45" fill="#ff0a0a"/>
<circle cx="136.57" cy="121.74" r="2.45" fill="#ff0a0a"/>
<circle cx="139.39" cy="121.74" r="2.45" fill="#ff0a0a"/>
<circle cx="142.21" cy="121.74" r="2.45" fill="#ff0a0a"/>
<circle cx="145.03" cy="121.74" r="2.45" fill="#3a0a12"/>
<circle cx="147.86" cy="121.74" r="2.45" fill="#ff0a0a"/>
<circle cx="150.68" cy="121.74" r="2.45" fill="#3a0a12"/>
<circle cx="153.5" cy="121.74" r="2.45" fill="#ff0a0a"/>
<circle cx="156.32" cy="121.74" r="2.45" fill="#ff0a0a"/>
<circle cx="159.14" cy="121.74" r="2.45" fill="#ff0a0a"/>
<circle cx="161.96" cy="121.74" r="2.45" fill="#ff0a0a"/>
<circle cx="164.78" cy="121.74" r="2.45" fill="#ff0a0a"/>
<circle cx="167.6" cy="121.74" r="2.45" fill="#ff0a0a"/>
<circle cx="170.42" cy="121.74" r="2.45" fill="#3a0a12"/>
<circle cx="173.25" cy="121.74" r="2.45" fill="#ff0a0a"/>
<circle cx="176.07" cy="121.74" r="2.45" fill="#ff0a0a"/>
<circle cx="178.89" cy="121.74" r="2.45" fill="#ff0a0a"/>
<circle cx="181.71" cy="121.74" r="2.45" fill="#ff0a0a"/>
<circle cx="184.53" cy="121.74" r="2.45" fill="#ff0a0a"/>
<circle cx="187.35" cy="121.74" r="2.45" fill="#ff0a0a"/>
<circle cx="190.17" cy="121.74" r="2.45" fill="#ff0a0a"/>
<circle cx="192.99" cy="121.74" r="2.45" fill="#ff0a0a"/>
<circle cx="195.81" cy="121.74" r="2.45" fill="#ff0a0a"/>
<circle cx="198.63" cy="121.74" r="2.45" fill="#ff8400"/>
<circle cx="201.45" cy="121.74" r="2.45" fill="#ff8400"/>
<circle cx="204.28" cy="121.74" r="2.45" fill="#ff0a0a"/>
<circle cx="207.1" cy="121.74" r="2.45" fill="#ff0a0a"/>
<circle cx="209.92" cy="121.74" r="2.45" fill="#ff0a0a"/>
<circle cx="212.74" cy="121.74" r="2.45" fill="#ff8400"/>
<circle cx="215.56" cy="121.74" r="2.45" fill="#ff0a0a"/>
<circle cx="218.38" cy="121.74" r="2.45" fill="#ff8400"/>
<circle cx="221.2" cy="121.74" r="2.45" fill="#ff8400"/>
<circle cx="224.02" cy="121.74" r="2.45" fill="#ff8400"/>
<circle cx="229.67" cy="121.74" r="2.45" fill="#ff8400"/>
<circle cx="235.31" cy="121.74" r="2.45" fill="#ff8400"/>
<circle cx="260.7" cy="121.74" r="2.45" fill="#ff8400"/>
<circle cx="269.16" cy="121.74" r="2.45" fill="#eef80a"/>
<circle cx="271.98" cy="121.74" r="2.45" fill="#eef80a"/>
<circle cx="274.8" cy="121.74" r="2.45" fill="#eef80a"/>
<circle cx="277.62" cy="121.74" r="2.45" fill="#eef80a"/>
<circle cx="280.44" cy="121.74" r="2.45" fill="#eef80a"/>
<circle cx="283.26" cy="121.74" r="2.45" fill="#eef80a"/>
<circle cx="286.09" cy="121.74" r="2.45" fill="#eef80a"/>
<circle cx="288.91" cy="121.74" r="2.45" fill="#eef80a"/>
<circle cx="294.55" cy="121.74" r="2.45" fill="#26b426"/>
<circle cx="300.19" cy="121.74" r="2.45" fill="#26b426"/>
<circle cx="305.83" cy="121.74" r="2.45" fill="#74f400"/>
<circle cx="311.47" cy="121.74" r="2.45" fill="#74f400"/>
<circle cx="99.9" cy="115.73" r="2.45" fill="#26b426"/>
<circle cx="102.72" cy="115.73" r="2.45" fill="#74f400"/>
<circle cx="108.36" cy="115.73" r="2.45" fill="#26b426"/>
<circle cx="114" cy="115.73" r="2.45" fill="#26b426"/>
<circle cx="116.83" cy="115.73" r="2.45" fill="#eef80a"/>
<circle cx="119.65" cy="115.73" r="2.45" fill="#ff8400"/>
<circle cx="122.47" cy="115.73" r="2.45" fill="#ff8400"/>
<circle cx="125.29" cy="115.73" r="2.45" fill="#3a0a12"/>
<circle cx="128.11" cy="115.73" r="2.45" fill="#ff0a0a"/>
<circle cx="130.93" cy="115.73" r="2.45" fill="#3a0a12"/>
<circle cx="133.75" cy="115.73" r="2.45" fill="#ff0a0a"/>
<circle cx="136.57" cy="115.73" r="2.45" fill="#ff0a0a"/>
<circle cx="139.39" cy="115.73" r="2.45" fill="#ff0a0a"/>
<circle cx="142.21" cy="115.73" r="2.45" fill="#ff0a0a"/>
<circle cx="145.03" cy="115.73" r="2.45" fill="#ff0a0a"/>
<circle cx="147.86" cy="115.73" r="2.45" fill="#ff0a0a"/>
<circle cx="150.68" cy="115.73" r="2.45" fill="#3a0a12"/>
<circle cx="153.5" cy="115.73" r="2.45" fill="#ff0a0a"/>
<circle cx="156.32" cy="115.73" r="2.45" fill="#ff0a0a"/>
<circle cx="159.14" cy="115.73" r="2.45" fill="#ff0a0a"/>
<circle cx="161.96" cy="115.73" r="2.45" fill="#ff0a0a"/>
<circle cx="164.78" cy="115.73" r="2.45" fill="#ff0a0a"/>
<circle cx="167.6" cy="115.73" r="2.45" fill="#ff0a0a"/>
<circle cx="170.42" cy="115.73" r="2.45" fill="#ff0a0a"/>
<circle cx="173.25" cy="115.73" r="2.45" fill="#ff0a0a"/>
<circle cx="176.07" cy="115.73" r="2.45" fill="#3a0a12"/>
<circle cx="178.89" cy="115.73" r="2.45" fill="#ff0a0a"/>
<circle cx="181.71" cy="115.73" r="2.45" fill="#ff0a0a"/>
<circle cx="184.53" cy="115.73" r="2.45" fill="#ff0a0a"/>
<circle cx="187.35" cy="115.73" r="2.45" fill="#ff0a0a"/>
<circle cx="190.17" cy="115.73" r="2.45" fill="#ff0a0a"/>
<circle cx="192.99" cy="115.73" r="2.45" fill="#ff0a0a"/>
<circle cx="195.81" cy="115.73" r="2.45" fill="#ff0a0a"/>
<circle cx="198.63" cy="115.73" r="2.45" fill="#ff8400"/>
<circle cx="201.45" cy="115.73" r="2.45" fill="#ff0a0a"/>
<circle cx="204.28" cy="115.73" r="2.45" fill="#ff8400"/>
<circle cx="207.1" cy="115.73" r="2.45" fill="#ff8400"/>
<circle cx="209.92" cy="115.73" r="2.45" fill="#ff8400"/>
<circle cx="212.74" cy="115.73" r="2.45" fill="#ff8400"/>
<circle cx="215.56" cy="115.73" r="2.45" fill="#ff8400"/>
<circle cx="218.38" cy="115.73" r="2.45" fill="#ff8400"/>
<circle cx="221.2" cy="115.73" r="2.45" fill="#ff8400"/>
<circle cx="235.31" cy="115.73" r="2.45" fill="#eef80a"/>
<circle cx="252.23" cy="115.73" r="2.45" fill="#eef80a"/>
<circle cx="255.05" cy="115.73" r="2.45" fill="#eef80a"/>
<circle cx="257.88" cy="115.73" r="2.45" fill="#eef80a"/>
<circle cx="260.7" cy="115.73" r="2.45" fill="#eef80a"/>
<circle cx="271.98" cy="115.73" r="2.45" fill="#eef80a"/>
<circle cx="274.8" cy="115.73" r="2.45" fill="#eef80a"/>
<circle cx="277.62" cy="115.73" r="2.45" fill="#eef80a"/>
<circle cx="280.44" cy="115.73" r="2.45" fill="#26b426"/>
<circle cx="283.26" cy="115.73" r="2.45" fill="#eef80a"/>
<circle cx="286.09" cy="115.73" r="2.45" fill="#eef80a"/>
<circle cx="288.91" cy="115.73" r="2.45" fill="#eef80a"/>
<circle cx="291.73" cy="115.73" r="2.45" fill="#eef80a"/>
<circle cx="300.19" cy="115.73" r="2.45" fill="#74f400"/>
<circle cx="305.83" cy="115.73" r="2.45" fill="#26b426"/>
<circle cx="308.65" cy="115.73" r="2.45" fill="#eef80a"/>
<circle cx="311.47" cy="115.73" r="2.45" fill="#eef80a"/>
<circle cx="317.12" cy="115.73" r="2.45" fill="#26b426"/>
<circle cx="99.9" cy="109.71" r="2.45" fill="#26b426"/>
<circle cx="102.72" cy="109.71" r="2.45" fill="#26b426"/>
<circle cx="111.18" cy="109.71" r="2.45" fill="#26b426"/>
<circle cx="116.83" cy="109.71" r="2.45" fill="#74f400"/>
<circle cx="119.65" cy="109.71" r="2.45" fill="#eef80a"/>
<circle cx="122.47" cy="109.71" r="2.45" fill="#ff8400"/>
<circle cx="125.29" cy="109.71" r="2.45" fill="#ff8400"/>
<circle cx="128.11" cy="109.71" r="2.45" fill="#ff8400"/>
<circle cx="130.93" cy="109.71" r="2.45" fill="#ff0a0a"/>
<circle cx="133.75" cy="109.71" r="2.45" fill="#ff0a0a"/>
<circle cx="136.57" cy="109.71" r="2.45" fill="#ff0a0a"/>
<circle cx="139.39" cy="109.71" r="2.45" fill="#ff0a0a"/>
<circle cx="142.21" cy="109.71" r="2.45" fill="#ff8400"/>
<circle cx="145.03" cy="109.71" r="2.45" fill="#ff0a0a"/>
<circle cx="147.86" cy="109.71" r="2.45" fill="#ff0a0a"/>
<circle cx="150.68" cy="109.71" r="2.45" fill="#ff0a0a"/>
<circle cx="153.5" cy="109.71" r="2.45" fill="#ff0a0a"/>
<circle cx="156.32" cy="109.71" r="2.45" fill="#ff0a0a"/>
<circle cx="159.14" cy="109.71" r="2.45" fill="#ff0a0a"/>
<circle cx="161.96" cy="109.71" r="2.45" fill="#ff0a0a"/>
<circle cx="164.78" cy="109.71" r="2.45" fill="#ff0a0a"/>
<circle cx="167.6" cy="109.71" r="2.45" fill="#ff0a0a"/>
<circle cx="170.42" cy="109.71" r="2.45" fill="#ff0a0a"/>
<circle cx="173.25" cy="109.71" r="2.45" fill="#ff0a0a"/>
<circle cx="176.07" cy="109.71" r="2.45" fill="#ff0a0a"/>
<circle cx="178.89" cy="109.71" r="2.45" fill="#ff0a0a"/>
<circle cx="181.71" cy="109.71" r="2.45" fill="#ff0a0a"/>
<circle cx="184.53" cy="109.71" r="2.45" fill="#ff0a0a"/>
<circle cx="187.35" cy="109.71" r="2.45" fill="#ff8400"/>
<circle cx="190.17" cy="109.71" r="2.45" fill="#ff8400"/>
<circle cx="192.99" cy="109.71" r="2.45" fill="#ff8400"/>
<circle cx="195.81" cy="109.71" r="2.45" fill="#ff8400"/>
<circle cx="198.63" cy="109.71" r="2.45" fill="#ff8400"/>
<circle cx="201.45" cy="109.71" r="2.45" fill="#ff0a0a"/>
<circle cx="204.28" cy="109.71" r="2.45" fill="#ff8400"/>
<circle cx="207.1" cy="109.71" r="2.45" fill="#ff8400"/>
<circle cx="209.92" cy="109.71" r="2.45" fill="#ff8400"/>
<circle cx="212.74" cy="109.71" r="2.45" fill="#ff8400"/>
<circle cx="215.56" cy="109.71" r="2.45" fill="#ff8400"/>
<circle cx="218.38" cy="109.71" r="2.45" fill="#ff8400"/>
<circle cx="221.2" cy="109.71" r="2.45" fill="#ff8400"/>
<circle cx="224.02" cy="109.71" r="2.45" fill="#eef80a"/>
<circle cx="235.31" cy="109.71" r="2.45" fill="#eef80a"/>
<circle cx="260.7" cy="109.71" r="2.45" fill="#eef80a"/>
<circle cx="269.16" cy="109.71" r="2.45" fill="#26b426"/>
<circle cx="271.98" cy="109.71" r="2.45" fill="#74f400"/>
<circle cx="274.8" cy="109.71" r="2.45" fill="#74f400"/>
<circle cx="277.62" cy="109.71" r="2.45" fill="#26b426"/>
<circle cx="280.44" cy="109.71" r="2.45" fill="#74f400"/>
<circle cx="283.26" cy="109.71" r="2.45" fill="#74f400"/>
<circle cx="286.09" cy="109.71" r="2.45" fill="#74f400"/>
<circle cx="288.91" cy="109.71" r="2.45" fill="#74f400"/>
<circle cx="291.73" cy="109.71" r="2.45" fill="#eef80a"/>
<circle cx="297.37" cy="109.71" r="2.45" fill="#74f400"/>
<circle cx="300.19" cy="109.71" r="2.45" fill="#26b426"/>
<circle cx="308.65" cy="109.71" r="2.45" fill="#74f400"/>
<circle cx="311.47" cy="109.71" r="2.45" fill="#74f400"/>
<circle cx="317.12" cy="109.71" r="2.45" fill="#26b426"/>
<circle cx="114" cy="103.7" r="2.45" fill="#2a3aff"/>
<circle cx="119.65" cy="103.7" r="2.45" fill="#26b426"/>
<circle cx="125.29" cy="103.7" r="2.45" fill="#74f400"/>
<circle cx="128.11" cy="103.7" r="2.45" fill="#eef80a"/>
<circle cx="130.93" cy="103.7" r="2.45" fill="#ff8400"/>
<circle cx="133.75" cy="103.7" r="2.45" fill="#ff8400"/>
<circle cx="136.57" cy="103.7" r="2.45" fill="#ff0a0a"/>
<circle cx="139.39" cy="103.7" r="2.45" fill="#ff8400"/>
<circle cx="142.21" cy="103.7" r="2.45" fill="#ff8400"/>
<circle cx="145.03" cy="103.7" r="2.45" fill="#ff8400"/>
<circle cx="147.86" cy="103.7" r="2.45" fill="#ff8400"/>
<circle cx="150.68" cy="103.7" r="2.45" fill="#ff8400"/>
<circle cx="153.5" cy="103.7" r="2.45" fill="#ff0a0a"/>
<circle cx="156.32" cy="103.7" r="2.45" fill="#ff0a0a"/>
<circle cx="159.14" cy="103.7" r="2.45" fill="#ff0a0a"/>
<circle cx="161.96" cy="103.7" r="2.45" fill="#ff0a0a"/>
<circle cx="164.78" cy="103.7" r="2.45" fill="#ff8400"/>
<circle cx="167.6" cy="103.7" r="2.45" fill="#ff0a0a"/>
<circle cx="170.42" cy="103.7" r="2.45" fill="#ff8400"/>
<circle cx="173.25" cy="103.7" r="2.45" fill="#ff8400"/>
<circle cx="176.07" cy="103.7" r="2.45" fill="#ff8400"/>
<circle cx="178.89" cy="103.7" r="2.45" fill="#ff0a0a"/>
<circle cx="181.71" cy="103.7" r="2.45" fill="#ff8400"/>
<circle cx="184.53" cy="103.7" r="2.45" fill="#ff8400"/>
<circle cx="187.35" cy="103.7" r="2.45" fill="#ff8400"/>
<circle cx="190.17" cy="103.7" r="2.45" fill="#ff8400"/>
<circle cx="192.99" cy="103.7" r="2.45" fill="#ff8400"/>
<circle cx="195.81" cy="103.7" r="2.45" fill="#ff8400"/>
<circle cx="198.63" cy="103.7" r="2.45" fill="#ff8400"/>
<circle cx="201.45" cy="103.7" r="2.45" fill="#ff8400"/>
<circle cx="204.28" cy="103.7" r="2.45" fill="#eef80a"/>
<circle cx="207.1" cy="103.7" r="2.45" fill="#ff8400"/>
<circle cx="209.92" cy="103.7" r="2.45" fill="#ff8400"/>
<circle cx="212.74" cy="103.7" r="2.45" fill="#eef80a"/>
<circle cx="215.56" cy="103.7" r="2.45" fill="#eef80a"/>
<circle cx="218.38" cy="103.7" r="2.45" fill="#eef80a"/>
<circle cx="221.2" cy="103.7" r="2.45" fill="#eef80a"/>
<circle cx="224.02" cy="103.7" r="2.45" fill="#eef80a"/>
<circle cx="226.84" cy="103.7" r="2.45" fill="#ff8400"/>
<circle cx="255.05" cy="103.7" r="2.45" fill="#eef80a"/>
<circle cx="257.88" cy="103.7" r="2.45" fill="#26b426"/>
<circle cx="263.52" cy="103.7" r="2.45" fill="#eef80a"/>
<circle cx="266.34" cy="103.7" r="2.45" fill="#eef80a"/>
<circle cx="277.62" cy="103.7" r="2.45" fill="#eef80a"/>
<circle cx="280.44" cy="103.7" r="2.45" fill="#74f400"/>
<circle cx="283.26" cy="103.7" r="2.45" fill="#74f400"/>
<circle cx="286.09" cy="103.7" r="2.45" fill="#74f400"/>
<circle cx="288.91" cy="103.7" r="2.45" fill="#74f400"/>
<circle cx="291.73" cy="103.7" r="2.45" fill="#74f400"/>
<circle cx="297.37" cy="103.7" r="2.45" fill="#eef80a"/>
<circle cx="314.3" cy="103.7" r="2.45" fill="#74f400"/>
<circle cx="317.12" cy="103.7" r="2.45" fill="#26b426"/>
<circle cx="119.65" cy="97.68" r="2.45" fill="#26b426"/>
<circle cx="130.93" cy="97.68" r="2.45" fill="#74f400"/>
<circle cx="133.75" cy="97.68" r="2.45" fill="#74f400"/>
<circle cx="136.57" cy="97.68" r="2.45" fill="#ff8400"/>
<circle cx="139.39" cy="97.68" r="2.45" fill="#ff8400"/>
<circle cx="142.21" cy="97.68" r="2.45" fill="#ff8400"/>
<circle cx="145.03" cy="97.68" r="2.45" fill="#ff8400"/>
<circle cx="147.86" cy="97.68" r="2.45" fill="#ff8400"/>
<circle cx="150.68" cy="97.68" r="2.45" fill="#eef80a"/>
<circle cx="153.5" cy="97.68" r="2.45" fill="#ff8400"/>
<circle cx="156.32" cy="97.68" r="2.45" fill="#ff8400"/>
<circle cx="159.14" cy="97.68" r="2.45" fill="#ff8400"/>
<circle cx="161.96" cy="97.68" r="2.45" fill="#ff0a0a"/>
<circle cx="164.78" cy="97.68" r="2.45" fill="#ff8400"/>
<circle cx="167.6" cy="97.68" r="2.45" fill="#ff8400"/>
<circle cx="170.42" cy="97.68" r="2.45" fill="#ff8400"/>
<circle cx="173.25" cy="97.68" r="2.45" fill="#ff8400"/>
<circle cx="176.07" cy="97.68" r="2.45" fill="#ff8400"/>
<circle cx="178.89" cy="97.68" r="2.45" fill="#ff8400"/>
<circle cx="181.71" cy="97.68" r="2.45" fill="#ff8400"/>
<circle cx="184.53" cy="97.68" r="2.45" fill="#ff8400"/>
<circle cx="187.35" cy="97.68" r="2.45" fill="#ff0a0a"/>
<circle cx="190.17" cy="97.68" r="2.45" fill="#ff8400"/>
<circle cx="192.99" cy="97.68" r="2.45" fill="#ff8400"/>
<circle cx="195.81" cy="97.68" r="2.45" fill="#eef80a"/>
<circle cx="198.63" cy="97.68" r="2.45" fill="#ff8400"/>
<circle cx="201.45" cy="97.68" r="2.45" fill="#eef80a"/>
<circle cx="204.28" cy="97.68" r="2.45" fill="#eef80a"/>
<circle cx="207.1" cy="97.68" r="2.45" fill="#ff8400"/>
<circle cx="209.92" cy="97.68" r="2.45" fill="#ff8400"/>
<circle cx="212.74" cy="97.68" r="2.45" fill="#ff8400"/>
<circle cx="215.56" cy="97.68" r="2.45" fill="#eef80a"/>
<circle cx="226.84" cy="97.68" r="2.45" fill="#eef80a"/>
<circle cx="252.23" cy="97.68" r="2.45" fill="#74f400"/>
<circle cx="257.88" cy="97.68" r="2.45" fill="#eef80a"/>
<circle cx="263.52" cy="97.68" r="2.45" fill="#26b426"/>
<circle cx="271.98" cy="97.68" r="2.45" fill="#74f400"/>
<circle cx="277.62" cy="97.68" r="2.45" fill="#eef80a"/>
<circle cx="280.44" cy="97.68" r="2.45" fill="#74f400"/>
<circle cx="283.26" cy="97.68" r="2.45" fill="#74f400"/>
<circle cx="286.09" cy="97.68" r="2.45" fill="#74f400"/>
<circle cx="308.65" cy="97.68" r="2.45" fill="#26b426"/>
<circle cx="314.3" cy="97.68" r="2.45" fill="#74f400"/>
<circle cx="317.12" cy="97.68" r="2.45" fill="#74f400"/>
<circle cx="142.21" cy="91.67" r="2.45" fill="#eef80a"/>
<circle cx="145.03" cy="91.67" r="2.45" fill="#74f400"/>
<circle cx="147.86" cy="91.67" r="2.45" fill="#eef80a"/>
<circle cx="150.68" cy="91.67" r="2.45" fill="#74f400"/>
<circle cx="153.5" cy="91.67" r="2.45" fill="#26b426"/>
<circle cx="156.32" cy="91.67" r="2.45" fill="#eef80a"/>
<circle cx="159.14" cy="91.67" r="2.45" fill="#eef80a"/>
<circle cx="161.96" cy="91.67" r="2.45" fill="#eef80a"/>
<circle cx="164.78" cy="91.67" r="2.45" fill="#eef80a"/>
<circle cx="167.6" cy="91.67" r="2.45" fill="#ff8400"/>
<circle cx="170.42" cy="91.67" r="2.45" fill="#ff8400"/>
<circle cx="173.25" cy="91.67" r="2.45" fill="#ff8400"/>
<circle cx="176.07" cy="91.67" r="2.45" fill="#ff8400"/>
<circle cx="178.89" cy="91.67" r="2.45" fill="#eef80a"/>
<circle cx="181.71" cy="91.67" r="2.45" fill="#ff8400"/>
<circle cx="184.53" cy="91.67" r="2.45" fill="#ff8400"/>
<circle cx="187.35" cy="91.67" r="2.45" fill="#ff8400"/>
<circle cx="190.17" cy="91.67" r="2.45" fill="#eef80a"/>
<circle cx="192.99" cy="91.67" r="2.45" fill="#ff8400"/>
<circle cx="195.81" cy="91.67" r="2.45" fill="#eef80a"/>
<circle cx="198.63" cy="91.67" r="2.45" fill="#eef80a"/>
<circle cx="201.45" cy="91.67" r="2.45" fill="#eef80a"/>
<circle cx="204.28" cy="91.67" r="2.45" fill="#74f400"/>
<circle cx="207.1" cy="91.67" r="2.45" fill="#26b426"/>
<circle cx="209.92" cy="91.67" r="2.45" fill="#eef80a"/>
<circle cx="212.74" cy="91.67" r="2.45" fill="#eef80a"/>
<circle cx="139.39" cy="85.65" r="2.45" fill="#2a3aff"/>
<circle cx="142.21" cy="85.65" r="2.45" fill="#26b426"/>
<circle cx="145.03" cy="85.65" r="2.45" fill="#26b426"/>
<circle cx="147.86" cy="85.65" r="2.45" fill="#74f400"/>
<circle cx="150.68" cy="85.65" r="2.45" fill="#74f400"/>
<circle cx="153.5" cy="85.65" r="2.45" fill="#74f400"/>
<circle cx="156.32" cy="85.65" r="2.45" fill="#74f400"/>
<circle cx="159.14" cy="85.65" r="2.45" fill="#eef80a"/>
<circle cx="161.96" cy="85.65" r="2.45" fill="#eef80a"/>
<circle cx="164.78" cy="85.65" r="2.45" fill="#eef80a"/>
<circle cx="167.6" cy="85.65" r="2.45" fill="#ff8400"/>
<circle cx="170.42" cy="85.65" r="2.45" fill="#eef80a"/>
<circle cx="173.25" cy="85.65" r="2.45" fill="#ff8400"/>
<circle cx="176.07" cy="85.65" r="2.45" fill="#eef80a"/>
<circle cx="178.89" cy="85.65" r="2.45" fill="#eef80a"/>
<circle cx="181.71" cy="85.65" r="2.45" fill="#eef80a"/>
<circle cx="184.53" cy="85.65" r="2.45" fill="#eef80a"/>
<circle cx="187.35" cy="85.65" r="2.45" fill="#74f400"/>
<circle cx="190.17" cy="85.65" r="2.45" fill="#eef80a"/>
<circle cx="192.99" cy="85.65" r="2.45" fill="#ff8400"/>
<circle cx="195.81" cy="85.65" r="2.45" fill="#74f400"/>
<circle cx="198.63" cy="85.65" r="2.45" fill="#eef80a"/>
<circle cx="204.28" cy="85.65" r="2.45" fill="#74f400"/>
<circle cx="207.1" cy="85.65" r="2.45" fill="#26b426"/>
<circle cx="209.92" cy="85.65" r="2.45" fill="#eef80a"/>
<circle cx="212.74" cy="85.65" r="2.45" fill="#eef80a"/>
<circle cx="150.68" cy="79.64" r="2.45" fill="#74f400"/>
<circle cx="153.5" cy="79.64" r="2.45" fill="#26b426"/>
<circle cx="156.32" cy="79.64" r="2.45" fill="#74f400"/>
<circle cx="161.96" cy="79.64" r="2.45" fill="#26b426"/>
<circle cx="164.78" cy="79.64" r="2.45" fill="#26b426"/>
<circle cx="167.6" cy="79.64" r="2.45" fill="#26b426"/>
<circle cx="170.42" cy="79.64" r="2.45" fill="#2a3aff"/>
<circle cx="173.25" cy="79.64" r="2.45" fill="#eef80a"/>
<circle cx="176.07" cy="79.64" r="2.45" fill="#74f400"/>
<circle cx="178.89" cy="79.64" r="2.45" fill="#74f400"/>
<circle cx="181.71" cy="79.64" r="2.45" fill="#eef80a"/>
<circle cx="184.53" cy="79.64" r="2.45" fill="#74f400"/>
<circle cx="187.35" cy="79.64" r="2.45" fill="#26b426"/>
<circle cx="190.17" cy="79.64" r="2.45" fill="#74f400"/>
<circle cx="192.99" cy="79.64" r="2.45" fill="#74f400"/>
<circle cx="195.81" cy="79.64" r="2.45" fill="#eef80a"/>
<circle cx="198.63" cy="79.64" r="2.45" fill="#74f400"/>
<circle cx="201.45" cy="79.64" r="2.45" fill="#74f400"/>
<circle cx="207.1" cy="79.64" r="2.45" fill="#26b426"/>
<circle cx="212.74" cy="79.64" r="2.45" fill="#74f400"/>
<circle cx="150.68" cy="73.62" r="2.45" fill="#26b426"/>
<circle cx="153.5" cy="73.62" r="2.45" fill="#26b426"/>
<circle cx="159.14" cy="73.62" r="2.45" fill="#26b426"/>
<circle cx="161.96" cy="73.62" r="2.45" fill="#26b426"/>
<circle cx="167.6" cy="73.62" r="2.45" fill="#2a3aff"/>
<circle cx="173.25" cy="73.62" r="2.45" fill="#26b426"/>
<circle cx="176.07" cy="73.62" r="2.45" fill="#74f400"/>
<circle cx="178.89" cy="73.62" r="2.45" fill="#74f400"/>
<circle cx="181.71" cy="73.62" r="2.45" fill="#74f400"/>
<circle cx="184.53" cy="73.62" r="2.45" fill="#74f400"/>
<circle cx="187.35" cy="73.62" r="2.45" fill="#74f400"/>
<circle cx="190.17" cy="73.62" r="2.45" fill="#eef80a"/>
<circle cx="192.99" cy="73.62" r="2.45" fill="#74f400"/>
<circle cx="195.81" cy="73.62" r="2.45" fill="#26b426"/>
<circle cx="198.63" cy="73.62" r="2.45" fill="#74f400"/>
<circle cx="201.45" cy="73.62" r="2.45" fill="#26b426"/>
<circle cx="204.28" cy="73.62" r="2.45" fill="#26b426"/>
<circle cx="170.42" cy="67.61" r="2.45" fill="#2a3aff"/>
<circle cx="173.25" cy="67.61" r="2.45" fill="#26b426"/>
<circle cx="176.07" cy="67.61" r="2.45" fill="#26b426"/>
<circle cx="181.71" cy="67.61" r="2.45" fill="#2a3aff"/>
<circle cx="184.53" cy="67.61" r="2.45" fill="#26b426"/>
<circle cx="190.17" cy="67.61" r="2.45" fill="#74f400"/>
<circle cx="192.99" cy="67.61" r="2.45" fill="#2a3aff"/>
<circle cx="195.81" cy="67.61" r="2.45" fill="#26b426"/>
<circle cx="198.63" cy="67.61" r="2.45" fill="#26b426"/>
<circle cx="201.45" cy="67.61" r="2.45" fill="#26b426"/>
<circle cx="204.28" cy="67.61" r="2.45" fill="#26b426"/>
<circle cx="207.1" cy="67.61" r="2.45" fill="#5a64ff"/>
<circle cx="173.25" cy="61.59" r="2.45" fill="#2a3aff"/>
<circle cx="176.07" cy="61.59" r="2.45" fill="#26b426"/>
<circle cx="178.89" cy="61.59" r="2.45" fill="#2a3aff"/>
<circle cx="181.71" cy="61.59" r="2.45" fill="#2a3aff"/>
<circle cx="190.17" cy="61.59" r="2.45" fill="#26b426"/>
<circle cx="192.99" cy="61.59" r="2.45" fill="#26b426"/>
<circle cx="201.45" cy="61.59" r="2.45" fill="#5a64ff"/>
<circle cx="204.28" cy="61.59" r="2.45" fill="#26b426"/>
<circle cx="496.04" cy="236.03" r="2.45" fill="#c0fff4"/>
<circle cx="498.87" cy="236.03" r="2.45" fill="#2a3aff"/>
<circle cx="501.69" cy="236.03" r="2.45" fill="#5a64ff"/>
<circle cx="504.51" cy="236.03" r="2.45" fill="#26b426"/>
<circle cx="507.33" cy="236.03" r="2.45" fill="#5a64ff"/>
<circle cx="512.98" cy="236.03" r="2.45" fill="#26b426"/>
<circle cx="515.8" cy="236.03" r="2.45" fill="#2a3aff"/>
<circle cx="518.62" cy="236.03" r="2.45" fill="#2a3aff"/>
<circle cx="521.44" cy="236.03" r="2.45" fill="#2a3aff"/>
<circle cx="524.26" cy="236.03" r="2.45" fill="#2a3aff"/>
<circle cx="527.09" cy="236.03" r="2.45" fill="#2a3aff"/>
<circle cx="529.91" cy="236.03" r="2.45" fill="#eef80a"/>
<circle cx="532.73" cy="236.03" r="2.45" fill="#74f400"/>
<circle cx="535.55" cy="236.03" r="2.45" fill="#eef80a"/>
<circle cx="538.37" cy="236.03" r="2.45" fill="#eef80a"/>
<circle cx="541.2" cy="236.03" r="2.45" fill="#eef80a"/>
<circle cx="544.02" cy="236.03" r="2.45" fill="#eef80a"/>
<circle cx="546.84" cy="236.03" r="2.45" fill="#eef80a"/>
<circle cx="549.66" cy="236.03" r="2.45" fill="#eef80a"/>
<circle cx="552.48" cy="236.03" r="2.45" fill="#eef80a"/>
<circle cx="555.31" cy="236.03" r="2.45" fill="#ff8400"/>
<circle cx="558.13" cy="236.03" r="2.45" fill="#eef80a"/>
<circle cx="560.95" cy="236.03" r="2.45" fill="#ff8400"/>
<circle cx="563.77" cy="236.03" r="2.45" fill="#eef80a"/>
<circle cx="566.59" cy="236.03" r="2.45" fill="#eef80a"/>
<circle cx="569.42" cy="236.03" r="2.45" fill="#eef80a"/>
<circle cx="572.24" cy="236.03" r="2.45" fill="#ff8400"/>
<circle cx="575.06" cy="236.03" r="2.45" fill="#eef80a"/>
<circle cx="577.88" cy="236.03" r="2.45" fill="#eef80a"/>
<circle cx="580.7" cy="236.03" r="2.45" fill="#ff8400"/>
<circle cx="583.53" cy="236.03" r="2.45" fill="#eef80a"/>
<circle cx="586.35" cy="236.03" r="2.45" fill="#ff8400"/>
<circle cx="589.17" cy="236.03" r="2.45" fill="#eef80a"/>
<circle cx="591.99" cy="236.03" r="2.45" fill="#eef80a"/>
<circle cx="594.81" cy="236.03" r="2.45" fill="#eef80a"/>
<circle cx="597.64" cy="236.03" r="2.45" fill="#eef80a"/>
<circle cx="600.46" cy="236.03" r="2.45" fill="#ff8400"/>
<circle cx="603.28" cy="236.03" r="2.45" fill="#eef80a"/>
<circle cx="606.1" cy="236.03" r="2.45" fill="#eef80a"/>
<circle cx="608.92" cy="236.03" r="2.45" fill="#eef80a"/>
<circle cx="611.75" cy="236.03" r="2.45" fill="#eef80a"/>
<circle cx="614.57" cy="236.03" r="2.45" fill="#74f400"/>
<circle cx="617.39" cy="236.03" r="2.45" fill="#74f400"/>
<circle cx="620.21" cy="236.03" r="2.45" fill="#74f400"/>
<circle cx="623.03" cy="236.03" r="2.45" fill="#74f400"/>
<circle cx="625.86" cy="236.03" r="2.45" fill="#74f400"/>
<circle cx="498.87" cy="230.01" r="2.45" fill="#c0fff4"/>
<circle cx="501.69" cy="230.01" r="2.45" fill="#2a3aff"/>
<circle cx="504.51" cy="230.01" r="2.45" fill="#26b426"/>
<circle cx="507.33" cy="230.01" r="2.45" fill="#26b426"/>
<circle cx="510.15" cy="230.01" r="2.45" fill="#74f400"/>
<circle cx="512.98" cy="230.01" r="2.45" fill="#74f400"/>
<circle cx="515.8" cy="230.01" r="2.45" fill="#26b426"/>
<circle cx="518.62" cy="230.01" r="2.45" fill="#26b426"/>
<circle cx="521.44" cy="230.01" r="2.45" fill="#74f400"/>
<circle cx="524.26" cy="230.01" r="2.45" fill="#74f400"/>
<circle cx="527.09" cy="230.01" r="2.45" fill="#74f400"/>
<circle cx="529.91" cy="230.01" r="2.45" fill="#eef80a"/>
<circle cx="532.73" cy="230.01" r="2.45" fill="#eef80a"/>
<circle cx="535.55" cy="230.01" r="2.45" fill="#ff0a0a"/>
<circle cx="538.37" cy="230.01" r="2.45" fill="#ff8400"/>
<circle cx="541.2" cy="230.01" r="2.45" fill="#ff8400"/>
<circle cx="544.02" cy="230.01" r="2.45" fill="#ff8400"/>
<circle cx="546.84" cy="230.01" r="2.45" fill="#ff8400"/>
<circle cx="549.66" cy="230.01" r="2.45" fill="#ff0a0a"/>
<circle cx="552.48" cy="230.01" r="2.45" fill="#ff0a0a"/>
<circle cx="555.31" cy="230.01" r="2.45" fill="#3a0a12"/>
<circle cx="558.13" cy="230.01" r="2.45" fill="#ff0a0a"/>
<circle cx="560.95" cy="230.01" r="2.45" fill="#ff0a0a"/>
<circle cx="563.77" cy="230.01" r="2.45" fill="#ff0a0a"/>
<circle cx="566.59" cy="230.01" r="2.45" fill="#ff0a0a"/>
<circle cx="569.42" cy="230.01" r="2.45" fill="#ff0a0a"/>
<circle cx="572.24" cy="230.01" r="2.45" fill="#ff0a0a"/>
<circle cx="575.06" cy="230.01" r="2.45" fill="#ff0a0a"/>
<circle cx="577.88" cy="230.01" r="2.45" fill="#ff0a0a"/>
<circle cx="580.7" cy="230.01" r="2.45" fill="#3a0a12"/>
<circle cx="583.53" cy="230.01" r="2.45" fill="#ff0a0a"/>
<circle cx="586.35" cy="230.01" r="2.45" fill="#ff0a0a"/>
<circle cx="589.17" cy="230.01" r="2.45" fill="#ff0a0a"/>
<circle cx="591.99" cy="230.01" r="2.45" fill="#ff0a0a"/>
<circle cx="594.81" cy="230.01" r="2.45" fill="#ff0a0a"/>
<circle cx="597.64" cy="230.01" r="2.45" fill="#ff0a0a"/>
<circle cx="600.46" cy="230.01" r="2.45" fill="#ff0a0a"/>
<circle cx="603.28" cy="230.01" r="2.45" fill="#ff8400"/>
<circle cx="606.1" cy="230.01" r="2.45" fill="#ff0a0a"/>
<circle cx="608.92" cy="230.01" r="2.45" fill="#ff8400"/>
<circle cx="611.75" cy="230.01" r="2.45" fill="#ff8400"/>
<circle cx="614.57" cy="230.01" r="2.45" fill="#ff8400"/>
<circle cx="617.39" cy="230.01" r="2.45" fill="#ff8400"/>
<circle cx="620.21" cy="230.01" r="2.45" fill="#ff8400"/>
<circle cx="623.03" cy="230.01" r="2.45" fill="#ff0a0a"/>
<circle cx="625.86" cy="230.01" r="2.45" fill="#ff0a0a"/>
<circle cx="628.68" cy="230.01" r="2.45" fill="#ff8400"/>
<circle cx="634.32" cy="230.01" r="2.45" fill="#ff8400"/>
<circle cx="504.51" cy="224" r="2.45" fill="#2a3aff"/>
<circle cx="507.33" cy="224" r="2.45" fill="#2a3aff"/>
<circle cx="510.15" cy="224" r="2.45" fill="#2a3aff"/>
<circle cx="512.98" cy="224" r="2.45" fill="#26b426"/>
<circle cx="515.8" cy="224" r="2.45" fill="#74f400"/>
<circle cx="518.62" cy="224" r="2.45" fill="#74f400"/>
<circle cx="521.44" cy="224" r="2.45" fill="#74f400"/>
<circle cx="524.26" cy="224" r="2.45" fill="#eef80a"/>
<circle cx="527.09" cy="224" r="2.45" fill="#eef80a"/>
<circle cx="529.91" cy="224" r="2.45" fill="#eef80a"/>
<circle cx="532.73" cy="224" r="2.45" fill="#ff8400"/>
<circle cx="535.55" cy="224" r="2.45" fill="#ff0a0a"/>
<circle cx="538.37" cy="224" r="2.45" fill="#ff0a0a"/>
<circle cx="541.2" cy="224" r="2.45" fill="#ff0a0a"/>
<circle cx="544.02" cy="224" r="2.45" fill="#ff0a0a"/>
<circle cx="546.84" cy="224" r="2.45" fill="#ff0a0a"/>
<circle cx="549.66" cy="224" r="2.45" fill="#ff0a0a"/>
<circle cx="552.48" cy="224" r="2.45" fill="#ff0a0a"/>
<circle cx="555.31" cy="224" r="2.45" fill="#3a0a12"/>
<circle cx="558.13" cy="224" r="2.45" fill="#ff0a0a"/>
<circle cx="560.95" cy="224" r="2.45" fill="#6e0404"/>
<circle cx="563.77" cy="224" r="2.45" fill="#6e0404"/>
<circle cx="566.59" cy="224" r="2.45" fill="#6e0404"/>
<circle cx="569.42" cy="224" r="2.45" fill="#6e0404"/>
<circle cx="572.24" cy="224" r="2.45" fill="#6e0404"/>
<circle cx="575.06" cy="224" r="2.45" fill="#6e0404"/>
<circle cx="577.88" cy="224" r="2.45" fill="#6e0404"/>
<circle cx="580.7" cy="224" r="2.45" fill="#6e0404"/>
<circle cx="583.53" cy="224" r="2.45" fill="#6e0404"/>
<circle cx="586.35" cy="224" r="2.45" fill="#6e0404"/>
<circle cx="589.17" cy="224" r="2.45" fill="#ff0a0a"/>
<circle cx="591.99" cy="224" r="2.45" fill="#ff0a0a"/>
<circle cx="594.81" cy="224" r="2.45" fill="#ff0a0a"/>
<circle cx="597.64" cy="224" r="2.45" fill="#ff0a0a"/>
<circle cx="600.46" cy="224" r="2.45" fill="#ff0a0a"/>
<circle cx="603.28" cy="224" r="2.45" fill="#ff0a0a"/>
<circle cx="606.1" cy="224" r="2.45" fill="#3a0a12"/>
<circle cx="608.92" cy="224" r="2.45" fill="#ff0a0a"/>
<circle cx="611.75" cy="224" r="2.45" fill="#ff0a0a"/>
<circle cx="614.57" cy="224" r="2.45" fill="#ff0a0a"/>
<circle cx="617.39" cy="224" r="2.45" fill="#ff0a0a"/>
<circle cx="620.21" cy="224" r="2.45" fill="#ff0a0a"/>
<circle cx="623.03" cy="224" r="2.45" fill="#ff0a0a"/>
<circle cx="625.86" cy="224" r="2.45" fill="#ff0a0a"/>
<circle cx="628.68" cy="224" r="2.45" fill="#ff0a0a"/>
<circle cx="631.5" cy="224" r="2.45" fill="#ff8400"/>
<circle cx="634.32" cy="224" r="2.45" fill="#ff8400"/>
<circle cx="637.14" cy="224" r="2.45" fill="#ff8400"/>
<circle cx="639.97" cy="224" r="2.45" fill="#ff8400"/>
<circle cx="642.79" cy="224" r="2.45" fill="#ff8400"/>
<circle cx="645.61" cy="224" r="2.45" fill="#ff8400"/>
<circle cx="648.43" cy="224" r="2.45" fill="#ff8400"/>
<circle cx="651.25" cy="224" r="2.45" fill="#ff8400"/>
<circle cx="654.08" cy="224" r="2.45" fill="#ff8400"/>
<circle cx="656.9" cy="224" r="2.45" fill="#eef80a"/>
<circle cx="659.72" cy="224" r="2.45" fill="#eef80a"/>
<circle cx="662.54" cy="224" r="2.45" fill="#eef80a"/>
<circle cx="665.36" cy="224" r="2.45" fill="#eef80a"/>
<circle cx="668.19" cy="224" r="2.45" fill="#eef80a"/>
<circle cx="671.01" cy="224" r="2.45" fill="#eef80a"/>
<circle cx="673.83" cy="224" r="2.45" fill="#eef80a"/>
<circle cx="676.65" cy="224" r="2.45" fill="#ff8400"/>
<circle cx="679.47" cy="224" r="2.45" fill="#eef80a"/>
<circle cx="682.3" cy="224" r="2.45" fill="#eef80a"/>
<circle cx="685.12" cy="224" r="2.45" fill="#eef80a"/>
<circle cx="687.94" cy="224" r="2.45" fill="#74f400"/>
<circle cx="690.76" cy="224" r="2.45" fill="#eef80a"/>
<circle cx="693.58" cy="224" r="2.45" fill="#74f400"/>
<circle cx="696.41" cy="224" r="2.45" fill="#74f400"/>
<circle cx="699.23" cy="224" r="2.45" fill="#74f400"/>
<circle cx="702.05" cy="224" r="2.45" fill="#74f400"/>
<circle cx="704.87" cy="224" r="2.45" fill="#74f400"/>
<circle cx="707.69" cy="224" r="2.45" fill="#26b426"/>
<circle cx="710.52" cy="224" r="2.45" fill="#26b426"/>
<circle cx="716.16" cy="224" r="2.45" fill="#26b426"/>
<circle cx="721.8" cy="224" r="2.45" fill="#74f400"/>
<circle cx="724.63" cy="224" r="2.45" fill="#26b426"/>
<circle cx="727.45" cy="224" r="2.45" fill="#26b426"/>
<circle cx="741.56" cy="224" r="2.45" fill="#2a3aff"/>
<circle cx="501.69" cy="217.98" r="2.45" fill="#2a3aff"/>
<circle cx="504.51" cy="217.98" r="2.45" fill="#2a3aff"/>
<circle cx="507.33" cy="217.98" r="2.45" fill="#2a3aff"/>
<circle cx="512.98" cy="217.98" r="2.45" fill="#26b426"/>
<circle cx="515.8" cy="217.98" r="2.45" fill="#74f400"/>
<circle cx="518.62" cy="217.98" r="2.45" fill="#74f400"/>
<circle cx="521.44" cy="217.98" r="2.45" fill="#74f400"/>
<circle cx="524.26" cy="217.98" r="2.45" fill="#eef80a"/>
<circle cx="527.09" cy="217.98" r="2.45" fill="#74f400"/>
<circle cx="529.91" cy="217.98" r="2.45" fill="#eef80a"/>
<circle cx="532.73" cy="217.98" r="2.45" fill="#ff8400"/>
<circle cx="535.55" cy="217.98" r="2.45" fill="#ff0a0a"/>
<circle cx="538.37" cy="217.98" r="2.45" fill="#ff0a0a"/>
<circle cx="541.2" cy="217.98" r="2.45" fill="#3a0a12"/>
<circle cx="544.02" cy="217.98" r="2.45" fill="#ff0a0a"/>
<circle cx="546.84" cy="217.98" r="2.45" fill="#ff0a0a"/>
<circle cx="549.66" cy="217.98" r="2.45" fill="#6e0404"/>
<circle cx="552.48" cy="217.98" r="2.45" fill="#6e0404"/>
<circle cx="555.31" cy="217.98" r="2.45" fill="#6e0404"/>
<circle cx="558.13" cy="217.98" r="2.45" fill="#6e0404"/>
<circle cx="560.95" cy="217.98" r="2.45" fill="#6e0404"/>
<circle cx="563.77" cy="217.98" r="2.45" fill="#6e0404"/>
<circle cx="566.59" cy="217.98" r="2.45" fill="#3a0a12"/>
<circle cx="569.42" cy="217.98" r="2.45" fill="#6e0404"/>
<circle cx="572.24" cy="217.98" r="2.45" fill="#6e0404"/>
<circle cx="575.06" cy="217.98" r="2.45" fill="#6e0404"/>
<circle cx="577.88" cy="217.98" r="2.45" fill="#6e0404"/>
<circle cx="580.7" cy="217.98" r="2.45" fill="#6e0404"/>
<circle cx="583.53" cy="217.98" r="2.45" fill="#6e0404"/>
<circle cx="586.35" cy="217.98" r="2.45" fill="#6e0404"/>
<circle cx="589.17" cy="217.98" r="2.45" fill="#6e0404"/>
<circle cx="591.99" cy="217.98" r="2.45" fill="#6e0404"/>
<circle cx="594.81" cy="217.98" r="2.45" fill="#6e0404"/>
<circle cx="597.64" cy="217.98" r="2.45" fill="#6e0404"/>
<circle cx="600.46" cy="217.98" r="2.45" fill="#6e0404"/>
<circle cx="603.28" cy="217.98" r="2.45" fill="#ff0a0a"/>
<circle cx="606.1" cy="217.98" r="2.45" fill="#ff0a0a"/>
<circle cx="608.92" cy="217.98" r="2.45" fill="#ff0a0a"/>
<circle cx="611.75" cy="217.98" r="2.45" fill="#ff0a0a"/>
<circle cx="614.57" cy="217.98" r="2.45" fill="#3a0a12"/>
<circle cx="617.39" cy="217.98" r="2.45" fill="#ff0a0a"/>
<circle cx="620.21" cy="217.98" r="2.45" fill="#ff0a0a"/>
<circle cx="623.03" cy="217.98" r="2.45" fill="#ff0a0a"/>
<circle cx="625.86" cy="217.98" r="2.45" fill="#ff0a0a"/>
<circle cx="628.68" cy="217.98" r="2.45" fill="#ff0a0a"/>
<circle cx="631.5" cy="217.98" r="2.45" fill="#ff0a0a"/>
<circle cx="634.32" cy="217.98" r="2.45" fill="#3a0a12"/>
<circle cx="637.14" cy="217.98" r="2.45" fill="#ff0a0a"/>
<circle cx="639.97" cy="217.98" r="2.45" fill="#ff8400"/>
<circle cx="642.79" cy="217.98" r="2.45" fill="#ff8400"/>
<circle cx="645.61" cy="217.98" r="2.45" fill="#ff8400"/>
<circle cx="648.43" cy="217.98" r="2.45" fill="#ff8400"/>
<circle cx="651.25" cy="217.98" r="2.45" fill="#ff8400"/>
<circle cx="654.08" cy="217.98" r="2.45" fill="#ff8400"/>
<circle cx="656.9" cy="217.98" r="2.45" fill="#ff0a0a"/>
<circle cx="659.72" cy="217.98" r="2.45" fill="#ff8400"/>
<circle cx="662.54" cy="217.98" r="2.45" fill="#ff8400"/>
<circle cx="665.36" cy="217.98" r="2.45" fill="#ff8400"/>
<circle cx="668.19" cy="217.98" r="2.45" fill="#ff8400"/>
<circle cx="671.01" cy="217.98" r="2.45" fill="#ff8400"/>
<circle cx="673.83" cy="217.98" r="2.45" fill="#ff8400"/>
<circle cx="676.65" cy="217.98" r="2.45" fill="#eef80a"/>
<circle cx="679.47" cy="217.98" r="2.45" fill="#eef80a"/>
<circle cx="682.3" cy="217.98" r="2.45" fill="#ff8400"/>
<circle cx="685.12" cy="217.98" r="2.45" fill="#eef80a"/>
<circle cx="687.94" cy="217.98" r="2.45" fill="#eef80a"/>
<circle cx="690.76" cy="217.98" r="2.45" fill="#eef80a"/>
<circle cx="693.58" cy="217.98" r="2.45" fill="#eef80a"/>
<circle cx="699.23" cy="217.98" r="2.45" fill="#74f400"/>
<circle cx="702.05" cy="217.98" r="2.45" fill="#eef80a"/>
<circle cx="704.87" cy="217.98" r="2.45" fill="#eef80a"/>
<circle cx="707.69" cy="217.98" r="2.45" fill="#eef80a"/>
<circle cx="710.52" cy="217.98" r="2.45" fill="#74f400"/>
<circle cx="713.34" cy="217.98" r="2.45" fill="#74f400"/>
<circle cx="716.16" cy="217.98" r="2.45" fill="#74f400"/>
<circle cx="718.98" cy="217.98" r="2.45" fill="#74f400"/>
<circle cx="721.8" cy="217.98" r="2.45" fill="#74f400"/>
<circle cx="724.63" cy="217.98" r="2.45" fill="#74f400"/>
<circle cx="727.45" cy="217.98" r="2.45" fill="#74f400"/>
<circle cx="730.27" cy="217.98" r="2.45" fill="#74f400"/>
<circle cx="733.09" cy="217.98" r="2.45" fill="#74f400"/>
<circle cx="735.91" cy="217.98" r="2.45" fill="#74f400"/>
<circle cx="741.56" cy="217.98" r="2.45" fill="#74f400"/>
<circle cx="744.38" cy="217.98" r="2.45" fill="#74f400"/>
<circle cx="747.2" cy="217.98" r="2.45" fill="#74f400"/>
<circle cx="510.15" cy="211.97" r="2.45" fill="#2a3aff"/>
<circle cx="512.98" cy="211.97" r="2.45" fill="#26b426"/>
<circle cx="515.8" cy="211.97" r="2.45" fill="#74f400"/>
<circle cx="518.62" cy="211.97" r="2.45" fill="#26b426"/>
<circle cx="521.44" cy="211.97" r="2.45" fill="#74f400"/>
<circle cx="524.26" cy="211.97" r="2.45" fill="#eef80a"/>
<circle cx="527.09" cy="211.97" r="2.45" fill="#74f400"/>
<circle cx="529.91" cy="211.97" r="2.45" fill="#eef80a"/>
<circle cx="532.73" cy="211.97" r="2.45" fill="#ff8400"/>
<circle cx="535.55" cy="211.97" r="2.45" fill="#ff0a0a"/>
<circle cx="538.37" cy="211.97" r="2.45" fill="#ff0a0a"/>
<circle cx="541.2" cy="211.97" r="2.45" fill="#6e0404"/>
<circle cx="544.02" cy="211.97" r="2.45" fill="#6e0404"/>
<circle cx="546.84" cy="211.97" r="2.45" fill="#6e0404"/>
<circle cx="549.66" cy="211.97" r="2.45" fill="#6e0404"/>
<circle cx="552.48" cy="211.97" r="2.45" fill="#6e0404"/>
<circle cx="555.31" cy="211.97" r="2.45" fill="#6e0404"/>
<circle cx="558.13" cy="211.97" r="2.45" fill="#6e0404"/>
<circle cx="560.95" cy="211.97" r="2.45" fill="#6e0404"/>
<circle cx="563.77" cy="211.97" r="2.45" fill="#6e0404"/>
<circle cx="566.59" cy="211.97" r="2.45" fill="#3a0a12"/>
<circle cx="569.42" cy="211.97" r="2.45" fill="#6e0404"/>
<circle cx="572.24" cy="211.97" r="2.45" fill="#3a0a12"/>
<circle cx="575.06" cy="211.97" r="2.45" fill="#6e0404"/>
<circle cx="577.88" cy="211.97" r="2.45" fill="#6e0404"/>
<circle cx="580.7" cy="211.97" r="2.45" fill="#6e0404"/>
<circle cx="583.53" cy="211.97" r="2.45" fill="#6e0404"/>
<circle cx="586.35" cy="211.97" r="2.45" fill="#6e0404"/>
<circle cx="589.17" cy="211.97" r="2.45" fill="#6e0404"/>
<circle cx="591.99" cy="211.97" r="2.45" fill="#3a0a12"/>
<circle cx="594.81" cy="211.97" r="2.45" fill="#6e0404"/>
<circle cx="597.64" cy="211.97" r="2.45" fill="#6e0404"/>
<circle cx="600.46" cy="211.97" r="2.45" fill="#6e0404"/>
<circle cx="603.28" cy="211.97" r="2.45" fill="#6e0404"/>
<circle cx="606.1" cy="211.97" r="2.45" fill="#6e0404"/>
<circle cx="608.92" cy="211.97" r="2.45" fill="#6e0404"/>
<circle cx="611.75" cy="211.97" r="2.45" fill="#6e0404"/>
<circle cx="614.57" cy="211.97" r="2.45" fill="#ff0a0a"/>
<circle cx="617.39" cy="211.97" r="2.45" fill="#ff0a0a"/>
<circle cx="620.21" cy="211.97" r="2.45" fill="#ff0a0a"/>
<circle cx="623.03" cy="211.97" r="2.45" fill="#ff0a0a"/>
<circle cx="625.86" cy="211.97" r="2.45" fill="#ff0a0a"/>
<circle cx="628.68" cy="211.97" r="2.45" fill="#ff0a0a"/>
<circle cx="631.5" cy="211.97" r="2.45" fill="#ff0a0a"/>
<circle cx="634.32" cy="211.97" r="2.45" fill="#3a0a12"/>
<circle cx="637.14" cy="211.97" r="2.45" fill="#ff0a0a"/>
<circle cx="639.97" cy="211.97" r="2.45" fill="#ff0a0a"/>
<circle cx="642.79" cy="211.97" r="2.45" fill="#ff0a0a"/>
<circle cx="645.61" cy="211.97" r="2.45" fill="#ff0a0a"/>
<circle cx="648.43" cy="211.97" r="2.45" fill="#ff0a0a"/>
<circle cx="651.25" cy="211.97" r="2.45" fill="#ff8400"/>
<circle cx="654.08" cy="211.97" r="2.45" fill="#ff8400"/>
<circle cx="656.9" cy="211.97" r="2.45" fill="#ff8400"/>
<circle cx="659.72" cy="211.97" r="2.45" fill="#ff8400"/>
<circle cx="662.54" cy="211.97" r="2.45" fill="#ff0a0a"/>
<circle cx="665.36" cy="211.97" r="2.45" fill="#ff8400"/>
<circle cx="668.19" cy="211.97" r="2.45" fill="#ff8400"/>
<circle cx="671.01" cy="211.97" r="2.45" fill="#ff8400"/>
<circle cx="673.83" cy="211.97" r="2.45" fill="#ff8400"/>
<circle cx="676.65" cy="211.97" r="2.45" fill="#ff8400"/>
<circle cx="679.47" cy="211.97" r="2.45" fill="#ff8400"/>
<circle cx="682.3" cy="211.97" r="2.45" fill="#ff0a0a"/>
<circle cx="685.12" cy="211.97" r="2.45" fill="#ff8400"/>
<circle cx="687.94" cy="211.97" r="2.45" fill="#ff8400"/>
<circle cx="690.76" cy="211.97" r="2.45" fill="#eef80a"/>
<circle cx="693.58" cy="211.97" r="2.45" fill="#eef80a"/>
<circle cx="696.41" cy="211.97" r="2.45" fill="#eef80a"/>
<circle cx="699.23" cy="211.97" r="2.45" fill="#eef80a"/>
<circle cx="702.05" cy="211.97" r="2.45" fill="#74f400"/>
<circle cx="704.87" cy="211.97" r="2.45" fill="#eef80a"/>
<circle cx="707.69" cy="211.97" r="2.45" fill="#eef80a"/>
<circle cx="710.52" cy="211.97" r="2.45" fill="#eef80a"/>
<circle cx="713.34" cy="211.97" r="2.45" fill="#eef80a"/>
<circle cx="716.16" cy="211.97" r="2.45" fill="#eef80a"/>
<circle cx="718.98" cy="211.97" r="2.45" fill="#eef80a"/>
<circle cx="721.8" cy="211.97" r="2.45" fill="#74f400"/>
<circle cx="724.63" cy="211.97" r="2.45" fill="#74f400"/>
<circle cx="727.45" cy="211.97" r="2.45" fill="#74f400"/>
<circle cx="730.27" cy="211.97" r="2.45" fill="#74f400"/>
<circle cx="733.09" cy="211.97" r="2.45" fill="#74f400"/>
<circle cx="735.91" cy="211.97" r="2.45" fill="#74f400"/>
<circle cx="741.56" cy="211.97" r="2.45" fill="#eef80a"/>
<circle cx="510.15" cy="205.95" r="2.45" fill="#2a3aff"/>
<circle cx="512.98" cy="205.95" r="2.45" fill="#2a3aff"/>
<circle cx="515.8" cy="205.95" r="2.45" fill="#74f400"/>
<circle cx="518.62" cy="205.95" r="2.45" fill="#74f400"/>
<circle cx="521.44" cy="205.95" r="2.45" fill="#74f400"/>
<circle cx="524.26" cy="205.95" r="2.45" fill="#eef80a"/>
<circle cx="527.09" cy="205.95" r="2.45" fill="#ff8400"/>
<circle cx="529.91" cy="205.95" r="2.45" fill="#eef80a"/>
<circle cx="532.73" cy="205.95" r="2.45" fill="#ff0a0a"/>
<circle cx="535.55" cy="205.95" r="2.45" fill="#ff0a0a"/>
<circle cx="538.37" cy="205.95" r="2.45" fill="#ff0a0a"/>
<circle cx="541.2" cy="205.95" r="2.45" fill="#ff0a0a"/>
<circle cx="544.02" cy="205.95" r="2.45" fill="#6e0404"/>
<circle cx="546.84" cy="205.95" r="2.45" fill="#6e0404"/>
<circle cx="549.66" cy="205.95" r="2.45" fill="#6e0404"/>
<circle cx="552.48" cy="205.95" r="2.45" fill="#6e0404"/>
<circle cx="555.31" cy="205.95" r="2.45" fill="#6e0404"/>
<circle cx="558.13" cy="205.95" r="2.45" fill="#6e0404"/>
<circle cx="560.95" cy="205.95" r="2.45" fill="#6e0404"/>
<circle cx="563.77" cy="205.95" r="2.45" fill="#6e0404"/>
<circle cx="566.59" cy="205.95" r="2.45" fill="#6e0404"/>
<circle cx="569.42" cy="205.95" r="2.45" fill="#6e0404"/>
<circle cx="572.24" cy="205.95" r="2.45" fill="#3a0a12"/>
<circle cx="575.06" cy="205.95" r="2.45" fill="#6e0404"/>
<circle cx="577.88" cy="205.95" r="2.45" fill="#6e0404"/>
<circle cx="580.7" cy="205.95" r="2.45" fill="#6e0404"/>
<circle cx="583.53" cy="205.95" r="2.45" fill="#6e0404"/>
<circle cx="586.35" cy="205.95" r="2.45" fill="#6e0404"/>
<circle cx="589.17" cy="205.95" r="2.45" fill="#6e0404"/>
<circle cx="591.99" cy="205.95" r="2.45" fill="#6e0404"/>
<circle cx="594.81" cy="205.95" r="2.45" fill="#6e0404"/>
<circle cx="597.64" cy="205.95" r="2.45" fill="#3a0a12"/>
<circle cx="600.46" cy="205.95" r="2.45" fill="#6e0404"/>
<circle cx="603.28" cy="205.95" r="2.45" fill="#6e0404"/>
<circle cx="606.1" cy="205.95" r="2.45" fill="#6e0404"/>
<circle cx="608.92" cy="205.95" r="2.45" fill="#6e0404"/>
<circle cx="611.75" cy="205.95" r="2.45" fill="#6e0404"/>
<circle cx="614.57" cy="205.95" r="2.45" fill="#6e0404"/>
<circle cx="617.39" cy="205.95" r="2.45" fill="#6e0404"/>
<circle cx="620.21" cy="205.95" r="2.45" fill="#6e0404"/>
<circle cx="623.03" cy="205.95" r="2.45" fill="#6e0404"/>
<circle cx="625.86" cy="205.95" r="2.45" fill="#ff0a0a"/>
<circle cx="628.68" cy="205.95" r="2.45" fill="#ff0a0a"/>
<circle cx="631.5" cy="205.95" r="2.45" fill="#ff0a0a"/>
<circle cx="634.32" cy="205.95" r="2.45" fill="#ff0a0a"/>
<circle cx="637.14" cy="205.95" r="2.45" fill="#ff0a0a"/>
<circle cx="639.97" cy="205.95" r="2.45" fill="#ff0a0a"/>
<circle cx="642.79" cy="205.95" r="2.45" fill="#3a0a12"/>
<circle cx="645.61" cy="205.95" r="2.45" fill="#ff0a0a"/>
<circle cx="648.43" cy="205.95" r="2.45" fill="#ff0a0a"/>
<circle cx="651.25" cy="205.95" r="2.45" fill="#ff0a0a"/>
<circle cx="654.08" cy="205.95" r="2.45" fill="#ff8400"/>
<circle cx="656.9" cy="205.95" r="2.45" fill="#ff8400"/>
<circle cx="659.72" cy="205.95" r="2.45" fill="#ff8400"/>
<circle cx="662.54" cy="205.95" r="2.45" fill="#ff8400"/>
<circle cx="665.36" cy="205.95" r="2.45" fill="#ff8400"/>
<circle cx="668.19" cy="205.95" r="2.45" fill="#ff0a0a"/>
<circle cx="671.01" cy="205.95" r="2.45" fill="#ff8400"/>
<circle cx="673.83" cy="205.95" r="2.45" fill="#ff8400"/>
<circle cx="676.65" cy="205.95" r="2.45" fill="#ff8400"/>
<circle cx="679.47" cy="205.95" r="2.45" fill="#ff8400"/>
<circle cx="682.3" cy="205.95" r="2.45" fill="#ff8400"/>
<circle cx="685.12" cy="205.95" r="2.45" fill="#ff8400"/>
<circle cx="687.94" cy="205.95" r="2.45" fill="#ff0a0a"/>
<circle cx="690.76" cy="205.95" r="2.45" fill="#ff8400"/>
<circle cx="693.58" cy="205.95" r="2.45" fill="#ff8400"/>
<circle cx="699.23" cy="205.95" r="2.45" fill="#eef80a"/>
<circle cx="702.05" cy="205.95" r="2.45" fill="#eef80a"/>
<circle cx="704.87" cy="205.95" r="2.45" fill="#eef80a"/>
<circle cx="707.69" cy="205.95" r="2.45" fill="#eef80a"/>
<circle cx="710.52" cy="205.95" r="2.45" fill="#eef80a"/>
<circle cx="713.34" cy="205.95" r="2.45" fill="#ff8400"/>
<circle cx="716.16" cy="205.95" r="2.45" fill="#eef80a"/>
<circle cx="718.98" cy="205.95" r="2.45" fill="#eef80a"/>
<circle cx="721.8" cy="205.95" r="2.45" fill="#eef80a"/>
<circle cx="724.63" cy="205.95" r="2.45" fill="#eef80a"/>
<circle cx="730.27" cy="205.95" r="2.45" fill="#74f400"/>
<circle cx="733.09" cy="205.95" r="2.45" fill="#eef80a"/>
<circle cx="735.91" cy="205.95" r="2.45" fill="#74f400"/>
<circle cx="738.74" cy="205.95" r="2.45" fill="#eef80a"/>
<circle cx="744.38" cy="205.95" r="2.45" fill="#26b426"/>
<circle cx="510.15" cy="199.94" r="2.45" fill="#2a3aff"/>
<circle cx="515.8" cy="199.94" r="2.45" fill="#2a3aff"/>
<circle cx="518.62" cy="199.94" r="2.45" fill="#2a3aff"/>
<circle cx="521.44" cy="199.94" r="2.45" fill="#74f400"/>
<circle cx="524.26" cy="199.94" r="2.45" fill="#eef80a"/>
<circle cx="527.09" cy="199.94" r="2.45" fill="#ff8400"/>
<circle cx="529.91" cy="199.94" r="2.45" fill="#eef80a"/>
<circle cx="532.73" cy="199.94" r="2.45" fill="#ff0a0a"/>
<circle cx="535.55" cy="199.94" r="2.45" fill="#ff0a0a"/>
<circle cx="538.37" cy="199.94" r="2.45" fill="#ff0a0a"/>
<circle cx="541.2" cy="199.94" r="2.45" fill="#ff0a0a"/>
<circle cx="544.02" cy="199.94" r="2.45" fill="#6e0404"/>
<circle cx="546.84" cy="199.94" r="2.45" fill="#6e0404"/>
<circle cx="549.66" cy="199.94" r="2.45" fill="#6e0404"/>
<circle cx="552.48" cy="199.94" r="2.45" fill="#3a0a12"/>
<circle cx="555.31" cy="199.94" r="2.45" fill="#6e0404"/>
<circle cx="558.13" cy="199.94" r="2.45" fill="#6e0404"/>
<circle cx="560.95" cy="199.94" r="2.45" fill="#6e0404"/>
<circle cx="563.77" cy="199.94" r="2.45" fill="#6e0404"/>
<circle cx="566.59" cy="199.94" r="2.45" fill="#6e0404"/>
<circle cx="569.42" cy="199.94" r="2.45" fill="#6e0404"/>
<circle cx="572.24" cy="199.94" r="2.45" fill="#6e0404"/>
<circle cx="575.06" cy="199.94" r="2.45" fill="#6e0404"/>
<circle cx="577.88" cy="199.94" r="2.45" fill="#3a0a12"/>
<circle cx="580.7" cy="199.94" r="2.45" fill="#6e0404"/>
<circle cx="583.53" cy="199.94" r="2.45" fill="#6e0404"/>
<circle cx="586.35" cy="199.94" r="2.45" fill="#6e0404"/>
<circle cx="589.17" cy="199.94" r="2.45" fill="#6e0404"/>
<circle cx="591.99" cy="199.94" r="2.45" fill="#6e0404"/>
<circle cx="594.81" cy="199.94" r="2.45" fill="#6e0404"/>
<circle cx="597.64" cy="199.94" r="2.45" fill="#3a0a12"/>
<circle cx="600.46" cy="199.94" r="2.45" fill="#6e0404"/>
<circle cx="603.28" cy="199.94" r="2.45" fill="#6e0404"/>
<circle cx="606.1" cy="199.94" r="2.45" fill="#6e0404"/>
<circle cx="608.92" cy="199.94" r="2.45" fill="#6e0404"/>
<circle cx="611.75" cy="199.94" r="2.45" fill="#6e0404"/>
<circle cx="614.57" cy="199.94" r="2.45" fill="#6e0404"/>
<circle cx="617.39" cy="199.94" r="2.45" fill="#6e0404"/>
<circle cx="620.21" cy="199.94" r="2.45" fill="#6e0404"/>
<circle cx="623.03" cy="199.94" r="2.45" fill="#6e0404"/>
<circle cx="625.86" cy="199.94" r="2.45" fill="#ff0a0a"/>
<circle cx="628.68" cy="199.94" r="2.45" fill="#ff0a0a"/>
<circle cx="631.5" cy="199.94" r="2.45" fill="#ff0a0a"/>
<circle cx="634.32" cy="199.94" r="2.45" fill="#ff0a0a"/>
<circle cx="637.14" cy="199.94" r="2.45" fill="#ff0a0a"/>
<circle cx="639.97" cy="199.94" r="2.45" fill="#ff0a0a"/>
<circle cx="642.79" cy="199.94" r="2.45" fill="#ff0a0a"/>
<circle cx="645.61" cy="199.94" r="2.45" fill="#ff0a0a"/>
<circle cx="648.43" cy="199.94" r="2.45" fill="#3a0a12"/>
<circle cx="651.25" cy="199.94" r="2.45" fill="#ff0a0a"/>
<circle cx="654.08" cy="199.94" r="2.45" fill="#ff0a0a"/>
<circle cx="656.9" cy="199.94" r="2.45" fill="#ff8400"/>
<circle cx="659.72" cy="199.94" r="2.45" fill="#ff0a0a"/>
<circle cx="662.54" cy="199.94" r="2.45" fill="#ff8400"/>
<circle cx="665.36" cy="199.94" r="2.45" fill="#ff8400"/>
<circle cx="668.19" cy="199.94" r="2.45" fill="#ff0a0a"/>
<circle cx="671.01" cy="199.94" r="2.45" fill="#ff8400"/>
<circle cx="673.83" cy="199.94" r="2.45" fill="#ff0a0a"/>
<circle cx="676.65" cy="199.94" r="2.45" fill="#ff8400"/>
<circle cx="679.47" cy="199.94" r="2.45" fill="#ff8400"/>
<circle cx="682.3" cy="199.94" r="2.45" fill="#ff8400"/>
<circle cx="685.12" cy="199.94" r="2.45" fill="#ff8400"/>
<circle cx="687.94" cy="199.94" r="2.45" fill="#ff8400"/>
<circle cx="690.76" cy="199.94" r="2.45" fill="#ff8400"/>
<circle cx="693.58" cy="199.94" r="2.45" fill="#ff8400"/>
<circle cx="696.41" cy="199.94" r="2.45" fill="#eef80a"/>
<circle cx="699.23" cy="199.94" r="2.45" fill="#eef80a"/>
<circle cx="702.05" cy="199.94" r="2.45" fill="#eef80a"/>
<circle cx="704.87" cy="199.94" r="2.45" fill="#eef80a"/>
<circle cx="707.69" cy="199.94" r="2.45" fill="#eef80a"/>
<circle cx="713.34" cy="199.94" r="2.45" fill="#ff8400"/>
<circle cx="718.98" cy="199.94" r="2.45" fill="#ff8400"/>
<circle cx="721.8" cy="199.94" r="2.45" fill="#eef80a"/>
<circle cx="724.63" cy="199.94" r="2.45" fill="#eef80a"/>
<circle cx="727.45" cy="199.94" r="2.45" fill="#eef80a"/>
<circle cx="730.27" cy="199.94" r="2.45" fill="#eef80a"/>
<circle cx="733.09" cy="199.94" r="2.45" fill="#74f400"/>
<circle cx="735.91" cy="199.94" r="2.45" fill="#74f400"/>
<circle cx="738.74" cy="199.94" r="2.45" fill="#eef80a"/>
<circle cx="741.56" cy="199.94" r="2.45" fill="#74f400"/>
<circle cx="744.38" cy="199.94" r="2.45" fill="#74f400"/>
<circle cx="747.2" cy="199.94" r="2.45" fill="#74f400"/>
<circle cx="515.8" cy="193.92" r="2.45" fill="#2a3aff"/>
<circle cx="518.62" cy="193.92" r="2.45" fill="#2a3aff"/>
<circle cx="521.44" cy="193.92" r="2.45" fill="#26b426"/>
<circle cx="524.26" cy="193.92" r="2.45" fill="#74f400"/>
<circle cx="527.09" cy="193.92" r="2.45" fill="#74f400"/>
<circle cx="529.91" cy="193.92" r="2.45" fill="#eef80a"/>
<circle cx="532.73" cy="193.92" r="2.45" fill="#ff8400"/>
<circle cx="535.55" cy="193.92" r="2.45" fill="#ff0a0a"/>
<circle cx="538.37" cy="193.92" r="2.45" fill="#ff0a0a"/>
<circle cx="541.2" cy="193.92" r="2.45" fill="#ff0a0a"/>
<circle cx="544.02" cy="193.92" r="2.45" fill="#6e0404"/>
<circle cx="546.84" cy="193.92" r="2.45" fill="#6e0404"/>
<circle cx="549.66" cy="193.92" r="2.45" fill="#6e0404"/>
<circle cx="552.48" cy="193.92" r="2.45" fill="#6e0404"/>
<circle cx="555.31" cy="193.92" r="2.45" fill="#3a0a12"/>
<circle cx="558.13" cy="193.92" r="2.45" fill="#6e0404"/>
<circle cx="560.95" cy="193.92" r="2.45" fill="#6e0404"/>
<circle cx="563.77" cy="193.92" r="2.45" fill="#6e0404"/>
<circle cx="566.59" cy="193.92" r="2.45" fill="#6e0404"/>
<circle cx="569.42" cy="193.92" r="2.45" fill="#6e0404"/>
<circle cx="572.24" cy="193.92" r="2.45" fill="#6e0404"/>
<circle cx="575.06" cy="193.92" r="2.45" fill="#3a0a12"/>
<circle cx="577.88" cy="193.92" r="2.45" fill="#6e0404"/>
<circle cx="580.7" cy="193.92" r="2.45" fill="#6e0404"/>
<circle cx="583.53" cy="193.92" r="2.45" fill="#6e0404"/>
<circle cx="586.35" cy="193.92" r="2.45" fill="#6e0404"/>
<circle cx="589.17" cy="193.92" r="2.45" fill="#6e0404"/>
<circle cx="591.99" cy="193.92" r="2.45" fill="#6e0404"/>
<circle cx="594.81" cy="193.92" r="2.45" fill="#6e0404"/>
<circle cx="597.64" cy="193.92" r="2.45" fill="#6e0404"/>
<circle cx="600.46" cy="193.92" r="2.45" fill="#6e0404"/>
<circle cx="603.28" cy="193.92" r="2.45" fill="#3a0a12"/>
<circle cx="606.1" cy="193.92" r="2.45" fill="#6e0404"/>
<circle cx="608.92" cy="193.92" r="2.45" fill="#6e0404"/>
<circle cx="611.75" cy="193.92" r="2.45" fill="#6e0404"/>
<circle cx="614.57" cy="193.92" r="2.45" fill="#6e0404"/>
<circle cx="617.39" cy="193.92" r="2.45" fill="#6e0404"/>
<circle cx="620.21" cy="193.92" r="2.45" fill="#6e0404"/>
<circle cx="623.03" cy="193.92" r="2.45" fill="#6e0404"/>
<circle cx="625.86" cy="193.92" r="2.45" fill="#6e0404"/>
<circle cx="628.68" cy="193.92" r="2.45" fill="#3a0a12"/>
<circle cx="631.5" cy="193.92" r="2.45" fill="#ff0a0a"/>
<circle cx="634.32" cy="193.92" r="2.45" fill="#ff0a0a"/>
<circle cx="637.14" cy="193.92" r="2.45" fill="#ff0a0a"/>
<circle cx="639.97" cy="193.92" r="2.45" fill="#ff0a0a"/>
<circle cx="642.79" cy="193.92" r="2.45" fill="#ff0a0a"/>
<circle cx="645.61" cy="193.92" r="2.45" fill="#ff0a0a"/>
<circle cx="648.43" cy="193.92" r="2.45" fill="#3a0a12"/>
<circle cx="651.25" cy="193.92" r="2.45" fill="#ff0a0a"/>
<circle cx="654.08" cy="193.92" r="2.45" fill="#ff0a0a"/>
<circle cx="656.9" cy="193.92" r="2.45" fill="#ff0a0a"/>
<circle cx="659.72" cy="193.92" r="2.45" fill="#ff0a0a"/>
<circle cx="662.54" cy="193.92" r="2.45" fill="#ff8400"/>
<circle cx="665.36" cy="193.92" r="2.45" fill="#ff8400"/>
<circle cx="668.19" cy="193.92" r="2.45" fill="#ff8400"/>
<circle cx="671.01" cy="193.92" r="2.45" fill="#ff8400"/>
<circle cx="673.83" cy="193.92" r="2.45" fill="#ff0a0a"/>
<circle cx="676.65" cy="193.92" r="2.45" fill="#ff8400"/>
<circle cx="679.47" cy="193.92" r="2.45" fill="#ff8400"/>
<circle cx="682.3" cy="193.92" r="2.45" fill="#ff8400"/>
<circle cx="685.12" cy="193.92" r="2.45" fill="#ff8400"/>
<circle cx="687.94" cy="193.92" r="2.45" fill="#ff8400"/>
<circle cx="690.76" cy="193.92" r="2.45" fill="#ff8400"/>
<circle cx="693.58" cy="193.92" r="2.45" fill="#ff0a0a"/>
<circle cx="696.41" cy="193.92" r="2.45" fill="#ff8400"/>
<circle cx="699.23" cy="193.92" r="2.45" fill="#ff8400"/>
<circle cx="702.05" cy="193.92" r="2.45" fill="#eef80a"/>
<circle cx="707.69" cy="193.92" r="2.45" fill="#eef80a"/>
<circle cx="710.52" cy="193.92" r="2.45" fill="#eef80a"/>
<circle cx="713.34" cy="193.92" r="2.45" fill="#eef80a"/>
<circle cx="716.16" cy="193.92" r="2.45" fill="#eef80a"/>
<circle cx="718.98" cy="193.92" r="2.45" fill="#ff8400"/>
<circle cx="721.8" cy="193.92" r="2.45" fill="#ff8400"/>
<circle cx="724.63" cy="193.92" r="2.45" fill="#eef80a"/>
<circle cx="730.27" cy="193.92" r="2.45" fill="#ff8400"/>
<circle cx="733.09" cy="193.92" r="2.45" fill="#74f400"/>
<circle cx="735.91" cy="193.92" r="2.45" fill="#74f400"/>
<circle cx="738.74" cy="193.92" r="2.45" fill="#74f400"/>
<circle cx="747.2" cy="193.92" r="2.45" fill="#74f400"/>
<circle cx="515.8" cy="187.91" r="2.45" fill="#2a3aff"/>
<circle cx="518.62" cy="187.91" r="2.45" fill="#2a3aff"/>
<circle cx="521.44" cy="187.91" r="2.45" fill="#2a3aff"/>
<circle cx="524.26" cy="187.91" r="2.45" fill="#26b426"/>
<circle cx="527.09" cy="187.91" r="2.45" fill="#74f400"/>
<circle cx="529.91" cy="187.91" r="2.45" fill="#74f400"/>
<circle cx="532.73" cy="187.91" r="2.45" fill="#eef80a"/>
<circle cx="535.55" cy="187.91" r="2.45" fill="#ff8400"/>
<circle cx="538.37" cy="187.91" r="2.45" fill="#ff0a0a"/>
<circle cx="541.2" cy="187.91" r="2.45" fill="#ff0a0a"/>
<circle cx="544.02" cy="187.91" r="2.45" fill="#ff0a0a"/>
<circle cx="546.84" cy="187.91" r="2.45" fill="#ff0a0a"/>
<circle cx="549.66" cy="187.91" r="2.45" fill="#6e0404"/>
<circle cx="552.48" cy="187.91" r="2.45" fill="#6e0404"/>
<circle cx="555.31" cy="187.91" r="2.45" fill="#6e0404"/>
<circle cx="558.13" cy="187.91" r="2.45" fill="#6e0404"/>
<circle cx="560.95" cy="187.91" r="2.45" fill="#6e0404"/>
<circle cx="563.77" cy="187.91" r="2.45" fill="#6e0404"/>
<circle cx="566.59" cy="187.91" r="2.45" fill="#6e0404"/>
<circle cx="569.42" cy="187.91" r="2.45" fill="#6e0404"/>
<circle cx="572.24" cy="187.91" r="2.45" fill="#6e0404"/>
<circle cx="575.06" cy="187.91" r="2.45" fill="#6e0404"/>
<circle cx="577.88" cy="187.91" r="2.45" fill="#6e0404"/>
<circle cx="580.7" cy="187.91" r="2.45" fill="#6e0404"/>
<circle cx="583.53" cy="187.91" r="2.45" fill="#3a0a12"/>
<circle cx="586.35" cy="187.91" r="2.45" fill="#6e0404"/>
<circle cx="589.17" cy="187.91" r="2.45" fill="#6e0404"/>
<circle cx="591.99" cy="187.91" r="2.45" fill="#6e0404"/>
<circle cx="594.81" cy="187.91" r="2.45" fill="#6e0404"/>
<circle cx="597.64" cy="187.91" r="2.45" fill="#6e0404"/>
<circle cx="600.46" cy="187.91" r="2.45" fill="#6e0404"/>
<circle cx="603.28" cy="187.91" r="2.45" fill="#6e0404"/>
<circle cx="606.1" cy="187.91" r="2.45" fill="#6e0404"/>
<circle cx="608.92" cy="187.91" r="2.45" fill="#6e0404"/>
<circle cx="611.75" cy="187.91" r="2.45" fill="#6e0404"/>
<circle cx="614.57" cy="187.91" r="2.45" fill="#6e0404"/>
<circle cx="617.39" cy="187.91" r="2.45" fill="#ff0a0a"/>
<circle cx="620.21" cy="187.91" r="2.45" fill="#ff0a0a"/>
<circle cx="623.03" cy="187.91" r="2.45" fill="#ff0a0a"/>
<circle cx="625.86" cy="187.91" r="2.45" fill="#ff0a0a"/>
<circle cx="628.68" cy="187.91" r="2.45" fill="#3a0a12"/>
<circle cx="631.5" cy="187.91" r="2.45" fill="#ff0a0a"/>
<circle cx="634.32" cy="187.91" r="2.45" fill="#ff0a0a"/>
<circle cx="637.14" cy="187.91" r="2.45" fill="#ff0a0a"/>
<circle cx="639.97" cy="187.91" r="2.45" fill="#ff0a0a"/>
<circle cx="642.79" cy="187.91" r="2.45" fill="#ff0a0a"/>
<circle cx="645.61" cy="187.91" r="2.45" fill="#ff0a0a"/>
<circle cx="648.43" cy="187.91" r="2.45" fill="#ff0a0a"/>
<circle cx="651.25" cy="187.91" r="2.45" fill="#ff0a0a"/>
<circle cx="654.08" cy="187.91" r="2.45" fill="#ff0a0a"/>
<circle cx="656.9" cy="187.91" r="2.45" fill="#ff0a0a"/>
<circle cx="659.72" cy="187.91" r="2.45" fill="#ff0a0a"/>
<circle cx="662.54" cy="187.91" r="2.45" fill="#ff8400"/>
<circle cx="665.36" cy="187.91" r="2.45" fill="#ff8400"/>
<circle cx="668.19" cy="187.91" r="2.45" fill="#ff8400"/>
<circle cx="671.01" cy="187.91" r="2.45" fill="#ff8400"/>
<circle cx="673.83" cy="187.91" r="2.45" fill="#ff8400"/>
<circle cx="676.65" cy="187.91" r="2.45" fill="#ff8400"/>
<circle cx="679.47" cy="187.91" r="2.45" fill="#ff8400"/>
<circle cx="682.3" cy="187.91" r="2.45" fill="#ff8400"/>
<circle cx="685.12" cy="187.91" r="2.45" fill="#ff8400"/>
<circle cx="687.94" cy="187.91" r="2.45" fill="#ff8400"/>
<circle cx="690.76" cy="187.91" r="2.45" fill="#ff8400"/>
<circle cx="693.58" cy="187.91" r="2.45" fill="#ff8400"/>
<circle cx="696.41" cy="187.91" r="2.45" fill="#ff8400"/>
<circle cx="699.23" cy="187.91" r="2.45" fill="#ff8400"/>
<circle cx="702.05" cy="187.91" r="2.45" fill="#eef80a"/>
<circle cx="704.87" cy="187.91" r="2.45" fill="#eef80a"/>
<circle cx="716.16" cy="187.91" r="2.45" fill="#eef80a"/>
<circle cx="718.98" cy="187.91" r="2.45" fill="#ff8400"/>
<circle cx="721.8" cy="187.91" r="2.45" fill="#ff8400"/>
<circle cx="724.63" cy="187.91" r="2.45" fill="#eef80a"/>
<circle cx="727.45" cy="187.91" r="2.45" fill="#eef80a"/>
<circle cx="730.27" cy="187.91" r="2.45" fill="#eef80a"/>
<circle cx="733.09" cy="187.91" r="2.45" fill="#eef80a"/>
<circle cx="735.91" cy="187.91" r="2.45" fill="#74f400"/>
<circle cx="741.56" cy="187.91" r="2.45" fill="#eef80a"/>
<circle cx="744.38" cy="187.91" r="2.45" fill="#74f400"/>
<circle cx="750.02" cy="187.91" r="2.45" fill="#26b426"/>
<circle cx="521.44" cy="181.89" r="2.45" fill="#2a3aff"/>
<circle cx="524.26" cy="181.89" r="2.45" fill="#2a3aff"/>
<circle cx="529.91" cy="181.89" r="2.45" fill="#2a3aff"/>
<circle cx="532.73" cy="181.89" r="2.45" fill="#eef80a"/>
<circle cx="535.55" cy="181.89" r="2.45" fill="#ff8400"/>
<circle cx="538.37" cy="181.89" r="2.45" fill="#ff0a0a"/>
<circle cx="541.2" cy="181.89" r="2.45" fill="#ff0a0a"/>
<circle cx="544.02" cy="181.89" r="2.45" fill="#ff0a0a"/>
<circle cx="546.84" cy="181.89" r="2.45" fill="#ff0a0a"/>
<circle cx="549.66" cy="181.89" r="2.45" fill="#ff0a0a"/>
<circle cx="552.48" cy="181.89" r="2.45" fill="#6e0404"/>
<circle cx="555.31" cy="181.89" r="2.45" fill="#6e0404"/>
<circle cx="558.13" cy="181.89" r="2.45" fill="#6e0404"/>
<circle cx="560.95" cy="181.89" r="2.45" fill="#6e0404"/>
<circle cx="563.77" cy="181.89" r="2.45" fill="#6e0404"/>
<circle cx="566.59" cy="181.89" r="2.45" fill="#6e0404"/>
<circle cx="569.42" cy="181.89" r="2.45" fill="#6e0404"/>
<circle cx="572.24" cy="181.89" r="2.45" fill="#6e0404"/>
<circle cx="575.06" cy="181.89" r="2.45" fill="#6e0404"/>
<circle cx="577.88" cy="181.89" r="2.45" fill="#6e0404"/>
<circle cx="580.7" cy="181.89" r="2.45" fill="#6e0404"/>
<circle cx="583.53" cy="181.89" r="2.45" fill="#6e0404"/>
<circle cx="586.35" cy="181.89" r="2.45" fill="#6e0404"/>
<circle cx="589.17" cy="181.89" r="2.45" fill="#6e0404"/>
<circle cx="591.99" cy="181.89" r="2.45" fill="#6e0404"/>
<circle cx="594.81" cy="181.89" r="2.45" fill="#6e0404"/>
<circle cx="597.64" cy="181.89" r="2.45" fill="#6e0404"/>
<circle cx="600.46" cy="181.89" r="2.45" fill="#6e0404"/>
<circle cx="603.28" cy="181.89" r="2.45" fill="#6e0404"/>
<circle cx="606.1" cy="181.89" r="2.45" fill="#6e0404"/>
<circle cx="608.92" cy="181.89" r="2.45" fill="#6e0404"/>
<circle cx="611.75" cy="181.89" r="2.45" fill="#6e0404"/>
<circle cx="614.57" cy="181.89" r="2.45" fill="#6e0404"/>
<circle cx="617.39" cy="181.89" r="2.45" fill="#ff0a0a"/>
<circle cx="620.21" cy="181.89" r="2.45" fill="#ff0a0a"/>
<circle cx="623.03" cy="181.89" r="2.45" fill="#ff0a0a"/>
<circle cx="625.86" cy="181.89" r="2.45" fill="#ff0a0a"/>
<circle cx="628.68" cy="181.89" r="2.45" fill="#ff0a0a"/>
<circle cx="631.5" cy="181.89" r="2.45" fill="#3a0a12"/>
<circle cx="634.32" cy="181.89" r="2.45" fill="#ff0a0a"/>
<circle cx="637.14" cy="181.89" r="2.45" fill="#ff0a0a"/>
<circle cx="639.97" cy="181.89" r="2.45" fill="#ff0a0a"/>
<circle cx="642.79" cy="181.89" r="2.45" fill="#ff0a0a"/>
<circle cx="645.61" cy="181.89" r="2.45" fill="#ff0a0a"/>
<circle cx="648.43" cy="181.89" r="2.45" fill="#ff0a0a"/>
<circle cx="651.25" cy="181.89" r="2.45" fill="#ff0a0a"/>
<circle cx="654.08" cy="181.89" r="2.45" fill="#ff0a0a"/>
<circle cx="656.9" cy="181.89" r="2.45" fill="#ff8400"/>
<circle cx="659.72" cy="181.89" r="2.45" fill="#ff0a0a"/>
<circle cx="662.54" cy="181.89" r="2.45" fill="#ff8400"/>
<circle cx="665.36" cy="181.89" r="2.45" fill="#ff8400"/>
<circle cx="668.19" cy="181.89" r="2.45" fill="#ff8400"/>
<circle cx="671.01" cy="181.89" r="2.45" fill="#ff8400"/>
<circle cx="673.83" cy="181.89" r="2.45" fill="#ff8400"/>
<circle cx="676.65" cy="181.89" r="2.45" fill="#ff8400"/>
<circle cx="679.47" cy="181.89" r="2.45" fill="#ff0a0a"/>
<circle cx="682.3" cy="181.89" r="2.45" fill="#ff8400"/>
<circle cx="685.12" cy="181.89" r="2.45" fill="#ff8400"/>
<circle cx="687.94" cy="181.89" r="2.45" fill="#ff8400"/>
<circle cx="690.76" cy="181.89" r="2.45" fill="#ff8400"/>
<circle cx="693.58" cy="181.89" r="2.45" fill="#ff8400"/>
<circle cx="699.23" cy="181.89" r="2.45" fill="#eef80a"/>
<circle cx="702.05" cy="181.89" r="2.45" fill="#ff8400"/>
<circle cx="704.87" cy="181.89" r="2.45" fill="#ff8400"/>
<circle cx="707.69" cy="181.89" r="2.45" fill="#eef80a"/>
<circle cx="713.34" cy="181.89" r="2.45" fill="#eef80a"/>
<circle cx="716.16" cy="181.89" r="2.45" fill="#eef80a"/>
<circle cx="718.98" cy="181.89" r="2.45" fill="#eef80a"/>
<circle cx="721.8" cy="181.89" r="2.45" fill="#ff8400"/>
<circle cx="724.63" cy="181.89" r="2.45" fill="#eef80a"/>
<circle cx="727.45" cy="181.89" r="2.45" fill="#eef80a"/>
<circle cx="730.27" cy="181.89" r="2.45" fill="#eef80a"/>
<circle cx="733.09" cy="181.89" r="2.45" fill="#eef80a"/>
<circle cx="735.91" cy="181.89" r="2.45" fill="#74f400"/>
<circle cx="738.74" cy="181.89" r="2.45" fill="#74f400"/>
<circle cx="744.38" cy="181.89" r="2.45" fill="#74f400"/>
<circle cx="747.2" cy="181.89" r="2.45" fill="#74f400"/>
<circle cx="750.02" cy="181.89" r="2.45" fill="#26b426"/>
<circle cx="529.91" cy="175.88" r="2.45" fill="#2a3aff"/>
<circle cx="532.73" cy="175.88" r="2.45" fill="#74f400"/>
<circle cx="535.55" cy="175.88" r="2.45" fill="#eef80a"/>
<circle cx="538.37" cy="175.88" r="2.45" fill="#ff8400"/>
<circle cx="541.2" cy="175.88" r="2.45" fill="#ff0a0a"/>
<circle cx="544.02" cy="175.88" r="2.45" fill="#ff0a0a"/>
<circle cx="546.84" cy="175.88" r="2.45" fill="#ff0a0a"/>
<circle cx="549.66" cy="175.88" r="2.45" fill="#ff0a0a"/>
<circle cx="552.48" cy="175.88" r="2.45" fill="#ff0a0a"/>
<circle cx="555.31" cy="175.88" r="2.45" fill="#ff0a0a"/>
<circle cx="558.13" cy="175.88" r="2.45" fill="#ff0a0a"/>
<circle cx="560.95" cy="175.88" r="2.45" fill="#ff0a0a"/>
<circle cx="563.77" cy="175.88" r="2.45" fill="#ff0a0a"/>
<circle cx="566.59" cy="175.88" r="2.45" fill="#ff0a0a"/>
<circle cx="569.42" cy="175.88" r="2.45" fill="#3a0a12"/>
<circle cx="572.24" cy="175.88" r="2.45" fill="#ff0a0a"/>
<circle cx="575.06" cy="175.88" r="2.45" fill="#ff0a0a"/>
<circle cx="577.88" cy="175.88" r="2.45" fill="#ff0a0a"/>
<circle cx="580.7" cy="175.88" r="2.45" fill="#ff0a0a"/>
<circle cx="583.53" cy="175.88" r="2.45" fill="#6e0404"/>
<circle cx="586.35" cy="175.88" r="2.45" fill="#6e0404"/>
<circle cx="589.17" cy="175.88" r="2.45" fill="#6e0404"/>
<circle cx="591.99" cy="175.88" r="2.45" fill="#6e0404"/>
<circle cx="594.81" cy="175.88" r="2.45" fill="#6e0404"/>
<circle cx="597.64" cy="175.88" r="2.45" fill="#ff0a0a"/>
<circle cx="600.46" cy="175.88" r="2.45" fill="#3a0a12"/>
<circle cx="603.28" cy="175.88" r="2.45" fill="#ff0a0a"/>
<circle cx="606.1" cy="175.88" r="2.45" fill="#ff0a0a"/>
<circle cx="608.92" cy="175.88" r="2.45" fill="#ff0a0a"/>
<circle cx="611.75" cy="175.88" r="2.45" fill="#ff0a0a"/>
<circle cx="614.57" cy="175.88" r="2.45" fill="#3a0a12"/>
<circle cx="617.39" cy="175.88" r="2.45" fill="#ff0a0a"/>
<circle cx="620.21" cy="175.88" r="2.45" fill="#ff0a0a"/>
<circle cx="623.03" cy="175.88" r="2.45" fill="#ff0a0a"/>
<circle cx="625.86" cy="175.88" r="2.45" fill="#ff0a0a"/>
<circle cx="628.68" cy="175.88" r="2.45" fill="#ff0a0a"/>
<circle cx="631.5" cy="175.88" r="2.45" fill="#ff0a0a"/>
<circle cx="634.32" cy="175.88" r="2.45" fill="#ff0a0a"/>
<circle cx="637.14" cy="175.88" r="2.45" fill="#ff0a0a"/>
<circle cx="639.97" cy="175.88" r="2.45" fill="#3a0a12"/>
<circle cx="642.79" cy="175.88" r="2.45" fill="#ff0a0a"/>
<circle cx="645.61" cy="175.88" r="2.45" fill="#ff8400"/>
<circle cx="648.43" cy="175.88" r="2.45" fill="#ff8400"/>
<circle cx="651.25" cy="175.88" r="2.45" fill="#ff0a0a"/>
<circle cx="654.08" cy="175.88" r="2.45" fill="#ff8400"/>
<circle cx="656.9" cy="175.88" r="2.45" fill="#ff8400"/>
<circle cx="659.72" cy="175.88" r="2.45" fill="#ff0a0a"/>
<circle cx="662.54" cy="175.88" r="2.45" fill="#ff8400"/>
<circle cx="665.36" cy="175.88" r="2.45" fill="#ff8400"/>
<circle cx="668.19" cy="175.88" r="2.45" fill="#ff8400"/>
<circle cx="671.01" cy="175.88" r="2.45" fill="#ff8400"/>
<circle cx="673.83" cy="175.88" r="2.45" fill="#ff8400"/>
<circle cx="676.65" cy="175.88" r="2.45" fill="#ff8400"/>
<circle cx="679.47" cy="175.88" r="2.45" fill="#ff8400"/>
<circle cx="682.3" cy="175.88" r="2.45" fill="#ff0a0a"/>
<circle cx="685.12" cy="175.88" r="2.45" fill="#ff0a0a"/>
<circle cx="687.94" cy="175.88" r="2.45" fill="#ff8400"/>
<circle cx="690.76" cy="175.88" r="2.45" fill="#ff8400"/>
<circle cx="693.58" cy="175.88" r="2.45" fill="#ff8400"/>
<circle cx="696.41" cy="175.88" r="2.45" fill="#ff8400"/>
<circle cx="699.23" cy="175.88" r="2.45" fill="#ff8400"/>
<circle cx="702.05" cy="175.88" r="2.45" fill="#eef80a"/>
<circle cx="704.87" cy="175.88" r="2.45" fill="#ff8400"/>
<circle cx="707.69" cy="175.88" r="2.45" fill="#ff8400"/>
<circle cx="710.52" cy="175.88" r="2.45" fill="#ff8400"/>
<circle cx="716.16" cy="175.88" r="2.45" fill="#eef80a"/>
<circle cx="721.8" cy="175.88" r="2.45" fill="#ff8400"/>
<circle cx="724.63" cy="175.88" r="2.45" fill="#eef80a"/>
<circle cx="727.45" cy="175.88" r="2.45" fill="#eef80a"/>
<circle cx="733.09" cy="175.88" r="2.45" fill="#eef80a"/>
<circle cx="735.91" cy="175.88" r="2.45" fill="#eef80a"/>
<circle cx="738.74" cy="175.88" r="2.45" fill="#eef80a"/>
<circle cx="741.56" cy="175.88" r="2.45" fill="#eef80a"/>
<circle cx="744.38" cy="175.88" r="2.45" fill="#eef80a"/>
<circle cx="750.02" cy="175.88" r="2.45" fill="#26b426"/>
<circle cx="529.91" cy="169.86" r="2.45" fill="#2a3aff"/>
<circle cx="532.73" cy="169.86" r="2.45" fill="#2a3aff"/>
<circle cx="535.55" cy="169.86" r="2.45" fill="#eef80a"/>
<circle cx="538.37" cy="169.86" r="2.45" fill="#ff8400"/>
<circle cx="541.2" cy="169.86" r="2.45" fill="#ff8400"/>
<circle cx="544.02" cy="169.86" r="2.45" fill="#ff8400"/>
<circle cx="546.84" cy="169.86" r="2.45" fill="#ff8400"/>
<circle cx="549.66" cy="169.86" r="2.45" fill="#ff0a0a"/>
<circle cx="552.48" cy="169.86" r="2.45" fill="#ff0a0a"/>
<circle cx="555.31" cy="169.86" r="2.45" fill="#ff0a0a"/>
<circle cx="558.13" cy="169.86" r="2.45" fill="#ff0a0a"/>
<circle cx="560.95" cy="169.86" r="2.45" fill="#ff0a0a"/>
<circle cx="563.77" cy="169.86" r="2.45" fill="#ff0a0a"/>
<circle cx="566.59" cy="169.86" r="2.45" fill="#ff0a0a"/>
<circle cx="569.42" cy="169.86" r="2.45" fill="#3a0a12"/>
<circle cx="572.24" cy="169.86" r="2.45" fill="#ff0a0a"/>
<circle cx="575.06" cy="169.86" r="2.45" fill="#3a0a12"/>
<circle cx="577.88" cy="169.86" r="2.45" fill="#ff0a0a"/>
<circle cx="580.7" cy="169.86" r="2.45" fill="#ff0a0a"/>
<circle cx="583.53" cy="169.86" r="2.45" fill="#ff0a0a"/>
<circle cx="586.35" cy="169.86" r="2.45" fill="#ff0a0a"/>
<circle cx="589.17" cy="169.86" r="2.45" fill="#ff0a0a"/>
<circle cx="591.99" cy="169.86" r="2.45" fill="#ff0a0a"/>
<circle cx="594.81" cy="169.86" r="2.45" fill="#3a0a12"/>
<circle cx="597.64" cy="169.86" r="2.45" fill="#ff0a0a"/>
<circle cx="600.46" cy="169.86" r="2.45" fill="#ff0a0a"/>
<circle cx="603.28" cy="169.86" r="2.45" fill="#ff0a0a"/>
<circle cx="606.1" cy="169.86" r="2.45" fill="#ff0a0a"/>
<circle cx="608.92" cy="169.86" r="2.45" fill="#ff0a0a"/>
<circle cx="611.75" cy="169.86" r="2.45" fill="#ff0a0a"/>
<circle cx="614.57" cy="169.86" r="2.45" fill="#ff0a0a"/>
<circle cx="617.39" cy="169.86" r="2.45" fill="#ff0a0a"/>
<circle cx="620.21" cy="169.86" r="2.45" fill="#3a0a12"/>
<circle cx="623.03" cy="169.86" r="2.45" fill="#ff0a0a"/>
<circle cx="625.86" cy="169.86" r="2.45" fill="#ff0a0a"/>
<circle cx="628.68" cy="169.86" r="2.45" fill="#ff0a0a"/>
<circle cx="631.5" cy="169.86" r="2.45" fill="#ff0a0a"/>
<circle cx="634.32" cy="169.86" r="2.45" fill="#ff0a0a"/>
<circle cx="637.14" cy="169.86" r="2.45" fill="#ff0a0a"/>
<circle cx="639.97" cy="169.86" r="2.45" fill="#ff0a0a"/>
<circle cx="642.79" cy="169.86" r="2.45" fill="#ff0a0a"/>
<circle cx="645.61" cy="169.86" r="2.45" fill="#ff8400"/>
<circle cx="648.43" cy="169.86" r="2.45" fill="#ff8400"/>
<circle cx="651.25" cy="169.86" r="2.45" fill="#ff8400"/>
<circle cx="654.08" cy="169.86" r="2.45" fill="#ff8400"/>
<circle cx="656.9" cy="169.86" r="2.45" fill="#ff8400"/>
<circle cx="659.72" cy="169.86" r="2.45" fill="#ff8400"/>
<circle cx="662.54" cy="169.86" r="2.45" fill="#ff8400"/>
<circle cx="665.36" cy="169.86" r="2.45" fill="#ff0a0a"/>
<circle cx="668.19" cy="169.86" r="2.45" fill="#ff8400"/>
<circle cx="671.01" cy="169.86" r="2.45" fill="#ff8400"/>
<circle cx="673.83" cy="169.86" r="2.45" fill="#ff8400"/>
<circle cx="676.65" cy="169.86" r="2.45" fill="#ff8400"/>
<circle cx="679.47" cy="169.86" r="2.45" fill="#ff8400"/>
<circle cx="682.3" cy="169.86" r="2.45" fill="#ff8400"/>
<circle cx="685.12" cy="169.86" r="2.45" fill="#ff0a0a"/>
<circle cx="687.94" cy="169.86" r="2.45" fill="#ff8400"/>
<circle cx="690.76" cy="169.86" r="2.45" fill="#ff8400"/>
<circle cx="693.58" cy="169.86" r="2.45" fill="#ff8400"/>
<circle cx="696.41" cy="169.86" r="2.45" fill="#ff8400"/>
<circle cx="699.23" cy="169.86" r="2.45" fill="#ff8400"/>
<circle cx="702.05" cy="169.86" r="2.45" fill="#eef80a"/>
<circle cx="704.87" cy="169.86" r="2.45" fill="#eef80a"/>
<circle cx="707.69" cy="169.86" r="2.45" fill="#eef80a"/>
<circle cx="716.16" cy="169.86" r="2.45" fill="#ff8400"/>
<circle cx="718.98" cy="169.86" r="2.45" fill="#eef80a"/>
<circle cx="721.8" cy="169.86" r="2.45" fill="#eef80a"/>
<circle cx="724.63" cy="169.86" r="2.45" fill="#eef80a"/>
<circle cx="727.45" cy="169.86" r="2.45" fill="#eef80a"/>
<circle cx="730.27" cy="169.86" r="2.45" fill="#eef80a"/>
<circle cx="733.09" cy="169.86" r="2.45" fill="#eef80a"/>
<circle cx="735.91" cy="169.86" r="2.45" fill="#eef80a"/>
<circle cx="738.74" cy="169.86" r="2.45" fill="#eef80a"/>
<circle cx="741.56" cy="169.86" r="2.45" fill="#eef80a"/>
<circle cx="744.38" cy="169.86" r="2.45" fill="#eef80a"/>
<circle cx="532.73" cy="163.85" r="2.45" fill="#2a3aff"/>
<circle cx="535.55" cy="163.85" r="2.45" fill="#74f400"/>
<circle cx="538.37" cy="163.85" r="2.45" fill="#eef80a"/>
<circle cx="541.2" cy="163.85" r="2.45" fill="#eef80a"/>
<circle cx="544.02" cy="163.85" r="2.45" fill="#ff8400"/>
<circle cx="546.84" cy="163.85" r="2.45" fill="#ff8400"/>
<circle cx="549.66" cy="163.85" r="2.45" fill="#ff8400"/>
<circle cx="552.48" cy="163.85" r="2.45" fill="#ff0a0a"/>
<circle cx="555.31" cy="163.85" r="2.45" fill="#ff0a0a"/>
<circle cx="558.13" cy="163.85" r="2.45" fill="#ff0a0a"/>
<circle cx="560.95" cy="163.85" r="2.45" fill="#ff0a0a"/>
<circle cx="563.77" cy="163.85" r="2.45" fill="#ff0a0a"/>
<circle cx="566.59" cy="163.85" r="2.45" fill="#ff0a0a"/>
<circle cx="569.42" cy="163.85" r="2.45" fill="#ff0a0a"/>
<circle cx="572.24" cy="163.85" r="2.45" fill="#ff0a0a"/>
<circle cx="575.06" cy="163.85" r="2.45" fill="#3a0a12"/>
<circle cx="577.88" cy="163.85" r="2.45" fill="#ff0a0a"/>
<circle cx="580.7" cy="163.85" r="2.45" fill="#ff0a0a"/>
<circle cx="583.53" cy="163.85" r="2.45" fill="#ff0a0a"/>
<circle cx="586.35" cy="163.85" r="2.45" fill="#ff0a0a"/>
<circle cx="589.17" cy="163.85" r="2.45" fill="#ff0a0a"/>
<circle cx="591.99" cy="163.85" r="2.45" fill="#ff0a0a"/>
<circle cx="594.81" cy="163.85" r="2.45" fill="#ff0a0a"/>
<circle cx="597.64" cy="163.85" r="2.45" fill="#ff0a0a"/>
<circle cx="600.46" cy="163.85" r="2.45" fill="#3a0a12"/>
<circle cx="603.28" cy="163.85" r="2.45" fill="#ff0a0a"/>
<circle cx="606.1" cy="163.85" r="2.45" fill="#ff0a0a"/>
<circle cx="608.92" cy="163.85" r="2.45" fill="#ff0a0a"/>
<circle cx="611.75" cy="163.85" r="2.45" fill="#ff0a0a"/>
<circle cx="614.57" cy="163.85" r="2.45" fill="#ff0a0a"/>
<circle cx="617.39" cy="163.85" r="2.45" fill="#ff0a0a"/>
<circle cx="620.21" cy="163.85" r="2.45" fill="#3a0a12"/>
<circle cx="623.03" cy="163.85" r="2.45" fill="#ff0a0a"/>
<circle cx="625.86" cy="163.85" r="2.45" fill="#ff0a0a"/>
<circle cx="628.68" cy="163.85" r="2.45" fill="#ff0a0a"/>
<circle cx="631.5" cy="163.85" r="2.45" fill="#ff8400"/>
<circle cx="634.32" cy="163.85" r="2.45" fill="#ff8400"/>
<circle cx="637.14" cy="163.85" r="2.45" fill="#ff8400"/>
<circle cx="639.97" cy="163.85" r="2.45" fill="#ff8400"/>
<circle cx="642.79" cy="163.85" r="2.45" fill="#ff0a0a"/>
<circle cx="645.61" cy="163.85" r="2.45" fill="#ff8400"/>
<circle cx="648.43" cy="163.85" r="2.45" fill="#ff8400"/>
<circle cx="651.25" cy="163.85" r="2.45" fill="#ff8400"/>
<circle cx="654.08" cy="163.85" r="2.45" fill="#ff8400"/>
<circle cx="656.9" cy="163.85" r="2.45" fill="#ff8400"/>
<circle cx="659.72" cy="163.85" r="2.45" fill="#ff8400"/>
<circle cx="662.54" cy="163.85" r="2.45" fill="#ff8400"/>
<circle cx="665.36" cy="163.85" r="2.45" fill="#ff8400"/>
<circle cx="668.19" cy="163.85" r="2.45" fill="#ff8400"/>
<circle cx="671.01" cy="163.85" r="2.45" fill="#ff0a0a"/>
<circle cx="673.83" cy="163.85" r="2.45" fill="#ff8400"/>
<circle cx="676.65" cy="163.85" r="2.45" fill="#ff8400"/>
<circle cx="679.47" cy="163.85" r="2.45" fill="#ff8400"/>
<circle cx="682.3" cy="163.85" r="2.45" fill="#ff8400"/>
<circle cx="685.12" cy="163.85" r="2.45" fill="#ff8400"/>
<circle cx="687.94" cy="163.85" r="2.45" fill="#ff8400"/>
<circle cx="690.76" cy="163.85" r="2.45" fill="#ff0a0a"/>
<circle cx="693.58" cy="163.85" r="2.45" fill="#ff8400"/>
<circle cx="696.41" cy="163.85" r="2.45" fill="#ff8400"/>
<circle cx="699.23" cy="163.85" r="2.45" fill="#eef80a"/>
<circle cx="702.05" cy="163.85" r="2.45" fill="#eef80a"/>
<circle cx="704.87" cy="163.85" r="2.45" fill="#eef80a"/>
<circle cx="707.69" cy="163.85" r="2.45" fill="#eef80a"/>
<circle cx="718.98" cy="163.85" r="2.45" fill="#eef80a"/>
<circle cx="721.8" cy="163.85" r="2.45" fill="#ff8400"/>
<circle cx="724.63" cy="163.85" r="2.45" fill="#eef80a"/>
<circle cx="727.45" cy="163.85" r="2.45" fill="#eef80a"/>
<circle cx="730.27" cy="163.85" r="2.45" fill="#eef80a"/>
<circle cx="733.09" cy="163.85" r="2.45" fill="#eef80a"/>
<circle cx="735.91" cy="163.85" r="2.45" fill="#eef80a"/>
<circle cx="738.74" cy="163.85" r="2.45" fill="#eef80a"/>
<circle cx="741.56" cy="163.85" r="2.45" fill="#eef80a"/>
<circle cx="744.38" cy="163.85" r="2.45" fill="#eef80a"/>
<circle cx="535.55" cy="157.83" r="2.45" fill="#74f400"/>
<circle cx="538.37" cy="157.83" r="2.45" fill="#26b426"/>
<circle cx="541.2" cy="157.83" r="2.45" fill="#26b426"/>
<circle cx="544.02" cy="157.83" r="2.45" fill="#eef80a"/>
<circle cx="546.84" cy="157.83" r="2.45" fill="#eef80a"/>
<circle cx="549.66" cy="157.83" r="2.45" fill="#eef80a"/>
<circle cx="552.48" cy="157.83" r="2.45" fill="#ff8400"/>
<circle cx="555.31" cy="157.83" r="2.45" fill="#ff0a0a"/>
<circle cx="558.13" cy="157.83" r="2.45" fill="#ff0a0a"/>
<circle cx="560.95" cy="157.83" r="2.45" fill="#ff8400"/>
<circle cx="563.77" cy="157.83" r="2.45" fill="#ff0a0a"/>
<circle cx="566.59" cy="157.83" r="2.45" fill="#ff0a0a"/>
<circle cx="569.42" cy="157.83" r="2.45" fill="#ff0a0a"/>
<circle cx="572.24" cy="157.83" r="2.45" fill="#ff0a0a"/>
<circle cx="575.06" cy="157.83" r="2.45" fill="#ff0a0a"/>
<circle cx="577.88" cy="157.83" r="2.45" fill="#ff0a0a"/>
<circle cx="580.7" cy="157.83" r="2.45" fill="#ff0a0a"/>
<circle cx="583.53" cy="157.83" r="2.45" fill="#ff0a0a"/>
<circle cx="586.35" cy="157.83" r="2.45" fill="#ff0a0a"/>
<circle cx="589.17" cy="157.83" r="2.45" fill="#ff0a0a"/>
<circle cx="591.99" cy="157.83" r="2.45" fill="#ff0a0a"/>
<circle cx="594.81" cy="157.83" r="2.45" fill="#ff0a0a"/>
<circle cx="597.64" cy="157.83" r="2.45" fill="#ff0a0a"/>
<circle cx="600.46" cy="157.83" r="2.45" fill="#3a0a12"/>
<circle cx="603.28" cy="157.83" r="2.45" fill="#ff0a0a"/>
<circle cx="606.1" cy="157.83" r="2.45" fill="#ff0a0a"/>
<circle cx="608.92" cy="157.83" r="2.45" fill="#ff0a0a"/>
<circle cx="611.75" cy="157.83" r="2.45" fill="#ff0a0a"/>
<circle cx="614.57" cy="157.83" r="2.45" fill="#ff0a0a"/>
<circle cx="617.39" cy="157.83" r="2.45" fill="#ff0a0a"/>
<circle cx="620.21" cy="157.83" r="2.45" fill="#ff0a0a"/>
<circle cx="623.03" cy="157.83" r="2.45" fill="#ff0a0a"/>
<circle cx="625.86" cy="157.83" r="2.45" fill="#ff8400"/>
<circle cx="628.68" cy="157.83" r="2.45" fill="#ff8400"/>
<circle cx="631.5" cy="157.83" r="2.45" fill="#ff8400"/>
<circle cx="634.32" cy="157.83" r="2.45" fill="#ff8400"/>
<circle cx="637.14" cy="157.83" r="2.45" fill="#ff8400"/>
<circle cx="639.97" cy="157.83" r="2.45" fill="#ff8400"/>
<circle cx="642.79" cy="157.83" r="2.45" fill="#ff8400"/>
<circle cx="645.61" cy="157.83" r="2.45" fill="#ff8400"/>
<circle cx="648.43" cy="157.83" r="2.45" fill="#ff8400"/>
<circle cx="651.25" cy="157.83" r="2.45" fill="#ff0a0a"/>
<circle cx="654.08" cy="157.83" r="2.45" fill="#ff8400"/>
<circle cx="656.9" cy="157.83" r="2.45" fill="#ff8400"/>
<circle cx="659.72" cy="157.83" r="2.45" fill="#ff8400"/>
<circle cx="662.54" cy="157.83" r="2.45" fill="#ff8400"/>
<circle cx="665.36" cy="157.83" r="2.45" fill="#ff8400"/>
<circle cx="668.19" cy="157.83" r="2.45" fill="#ff8400"/>
<circle cx="671.01" cy="157.83" r="2.45" fill="#ff8400"/>
<circle cx="673.83" cy="157.83" r="2.45" fill="#eef80a"/>
<circle cx="676.65" cy="157.83" r="2.45" fill="#ff8400"/>
<circle cx="679.47" cy="157.83" r="2.45" fill="#ff8400"/>
<circle cx="682.3" cy="157.83" r="2.45" fill="#ff8400"/>
<circle cx="685.12" cy="157.83" r="2.45" fill="#ff8400"/>
<circle cx="687.94" cy="157.83" r="2.45" fill="#ff8400"/>
<circle cx="693.58" cy="157.83" r="2.45" fill="#ff8400"/>
<circle cx="696.41" cy="157.83" r="2.45" fill="#ff8400"/>
<circle cx="704.87" cy="157.83" r="2.45" fill="#eef80a"/>
<circle cx="710.52" cy="157.83" r="2.45" fill="#eef80a"/>
<circle cx="721.8" cy="157.83" r="2.45" fill="#ff8400"/>
<circle cx="724.63" cy="157.83" r="2.45" fill="#eef80a"/>
<circle cx="727.45" cy="157.83" r="2.45" fill="#eef80a"/>
<circle cx="730.27" cy="157.83" r="2.45" fill="#eef80a"/>
<circle cx="733.09" cy="157.83" r="2.45" fill="#eef80a"/>
<circle cx="735.91" cy="157.83" r="2.45" fill="#74f400"/>
<circle cx="738.74" cy="157.83" r="2.45" fill="#eef80a"/>
<circle cx="741.56" cy="157.83" r="2.45" fill="#eef80a"/>
<circle cx="744.38" cy="157.83" r="2.45" fill="#eef80a"/>
<circle cx="747.2" cy="157.83" r="2.45" fill="#eef80a"/>
<circle cx="750.02" cy="157.83" r="2.45" fill="#eef80a"/>
<circle cx="535.55" cy="151.82" r="2.45" fill="#eef80a"/>
<circle cx="538.37" cy="151.82" r="2.45" fill="#26b426"/>
<circle cx="546.84" cy="151.82" r="2.45" fill="#2a3aff"/>
<circle cx="549.66" cy="151.82" r="2.45" fill="#74f400"/>
<circle cx="552.48" cy="151.82" r="2.45" fill="#eef80a"/>
<circle cx="555.31" cy="151.82" r="2.45" fill="#ff8400"/>
<circle cx="558.13" cy="151.82" r="2.45" fill="#ff8400"/>
<circle cx="560.95" cy="151.82" r="2.45" fill="#ff0a0a"/>
<circle cx="563.77" cy="151.82" r="2.45" fill="#ff8400"/>
<circle cx="566.59" cy="151.82" r="2.45" fill="#ff8400"/>
<circle cx="569.42" cy="151.82" r="2.45" fill="#ff8400"/>
<circle cx="572.24" cy="151.82" r="2.45" fill="#ff8400"/>
<circle cx="575.06" cy="151.82" r="2.45" fill="#ff0a0a"/>
<circle cx="577.88" cy="151.82" r="2.45" fill="#ff8400"/>
<circle cx="580.7" cy="151.82" r="2.45" fill="#ff0a0a"/>
<circle cx="583.53" cy="151.82" r="2.45" fill="#ff8400"/>
<circle cx="586.35" cy="151.82" r="2.45" fill="#ff0a0a"/>
<circle cx="589.17" cy="151.82" r="2.45" fill="#ff0a0a"/>
<circle cx="591.99" cy="151.82" r="2.45" fill="#ff0a0a"/>
<circle cx="594.81" cy="151.82" r="2.45" fill="#ff0a0a"/>
<circle cx="597.64" cy="151.82" r="2.45" fill="#ff0a0a"/>
<circle cx="600.46" cy="151.82" r="2.45" fill="#ff0a0a"/>
<circle cx="603.28" cy="151.82" r="2.45" fill="#ff0a0a"/>
<circle cx="606.1" cy="151.82" r="2.45" fill="#ff0a0a"/>
<circle cx="608.92" cy="151.82" r="2.45" fill="#ff0a0a"/>
<circle cx="611.75" cy="151.82" r="2.45" fill="#ff0a0a"/>
<circle cx="614.57" cy="151.82" r="2.45" fill="#ff0a0a"/>
<circle cx="617.39" cy="151.82" r="2.45" fill="#ff0a0a"/>
<circle cx="620.21" cy="151.82" r="2.45" fill="#ff8400"/>
<circle cx="623.03" cy="151.82" r="2.45" fill="#ff0a0a"/>
<circle cx="625.86" cy="151.82" r="2.45" fill="#ff8400"/>
<circle cx="628.68" cy="151.82" r="2.45" fill="#ff8400"/>
<circle cx="631.5" cy="151.82" r="2.45" fill="#ff0a0a"/>
<circle cx="634.32" cy="151.82" r="2.45" fill="#ff8400"/>
<circle cx="637.14" cy="151.82" r="2.45" fill="#ff8400"/>
<circle cx="639.97" cy="151.82" r="2.45" fill="#ff8400"/>
<circle cx="642.79" cy="151.82" r="2.45" fill="#ff8400"/>
<circle cx="645.61" cy="151.82" r="2.45" fill="#ff8400"/>
<circle cx="648.43" cy="151.82" r="2.45" fill="#ff8400"/>
<circle cx="651.25" cy="151.82" r="2.45" fill="#ff8400"/>
<circle cx="654.08" cy="151.82" r="2.45" fill="#ff8400"/>
<circle cx="656.9" cy="151.82" r="2.45" fill="#ff8400"/>
<circle cx="659.72" cy="151.82" r="2.45" fill="#ff8400"/>
<circle cx="662.54" cy="151.82" r="2.45" fill="#ff8400"/>
<circle cx="665.36" cy="151.82" r="2.45" fill="#ff8400"/>
<circle cx="668.19" cy="151.82" r="2.45" fill="#eef80a"/>
<circle cx="671.01" cy="151.82" r="2.45" fill="#eef80a"/>
<circle cx="673.83" cy="151.82" r="2.45" fill="#eef80a"/>
<circle cx="676.65" cy="151.82" r="2.45" fill="#ff8400"/>
<circle cx="679.47" cy="151.82" r="2.45" fill="#ff8400"/>
<circle cx="685.12" cy="151.82" r="2.45" fill="#eef80a"/>
<circle cx="687.94" cy="151.82" r="2.45" fill="#ff8400"/>
<circle cx="690.76" cy="151.82" r="2.45" fill="#eef80a"/>
<circle cx="693.58" cy="151.82" r="2.45" fill="#ff8400"/>
<circle cx="696.41" cy="151.82" r="2.45" fill="#ff8400"/>
<circle cx="699.23" cy="151.82" r="2.45" fill="#eef80a"/>
<circle cx="702.05" cy="151.82" r="2.45" fill="#eef80a"/>
<circle cx="704.87" cy="151.82" r="2.45" fill="#eef80a"/>
<circle cx="707.69" cy="151.82" r="2.45" fill="#eef80a"/>
<circle cx="710.52" cy="151.82" r="2.45" fill="#eef80a"/>
<circle cx="713.34" cy="151.82" r="2.45" fill="#eef80a"/>
<circle cx="718.98" cy="151.82" r="2.45" fill="#eef80a"/>
<circle cx="721.8" cy="151.82" r="2.45" fill="#eef80a"/>
<circle cx="724.63" cy="151.82" r="2.45" fill="#eef80a"/>
<circle cx="727.45" cy="151.82" r="2.45" fill="#eef80a"/>
<circle cx="730.27" cy="151.82" r="2.45" fill="#eef80a"/>
<circle cx="733.09" cy="151.82" r="2.45" fill="#eef80a"/>
<circle cx="735.91" cy="151.82" r="2.45" fill="#74f400"/>
<circle cx="738.74" cy="151.82" r="2.45" fill="#eef80a"/>
<circle cx="741.56" cy="151.82" r="2.45" fill="#74f400"/>
<circle cx="744.38" cy="151.82" r="2.45" fill="#eef80a"/>
<circle cx="750.02" cy="151.82" r="2.45" fill="#74f400"/>
<circle cx="538.37" cy="145.8" r="2.45" fill="#74f400"/>
<circle cx="541.2" cy="145.8" r="2.45" fill="#2a3aff"/>
<circle cx="549.66" cy="145.8" r="2.45" fill="#26b426"/>
<circle cx="552.48" cy="145.8" r="2.45" fill="#74f400"/>
<circle cx="555.31" cy="145.8" r="2.45" fill="#eef80a"/>
<circle cx="558.13" cy="145.8" r="2.45" fill="#eef80a"/>
<circle cx="560.95" cy="145.8" r="2.45" fill="#ff8400"/>
<circle cx="563.77" cy="145.8" r="2.45" fill="#eef80a"/>
<circle cx="566.59" cy="145.8" r="2.45" fill="#ff8400"/>
<circle cx="569.42" cy="145.8" r="2.45" fill="#ff8400"/>
<circle cx="572.24" cy="145.8" r="2.45" fill="#ff8400"/>
<circle cx="575.06" cy="145.8" r="2.45" fill="#ff8400"/>
<circle cx="577.88" cy="145.8" r="2.45" fill="#ff8400"/>
<circle cx="580.7" cy="145.8" r="2.45" fill="#ff8400"/>
<circle cx="583.53" cy="145.8" r="2.45" fill="#ff8400"/>
<circle cx="586.35" cy="145.8" r="2.45" fill="#ff0a0a"/>
<circle cx="589.17" cy="145.8" r="2.45" fill="#ff8400"/>
<circle cx="591.99" cy="145.8" r="2.45" fill="#ff8400"/>
<circle cx="594.81" cy="145.8" r="2.45" fill="#ff8400"/>
<circle cx="597.64" cy="145.8" r="2.45" fill="#ff8400"/>
<circle cx="600.46" cy="145.8" r="2.45" fill="#ff8400"/>
<circle cx="603.28" cy="145.8" r="2.45" fill="#ff0a0a"/>
<circle cx="606.1" cy="145.8" r="2.45" fill="#ff8400"/>
<circle cx="608.92" cy="145.8" r="2.45" fill="#ff8400"/>
<circle cx="611.75" cy="145.8" r="2.45" fill="#ff0a0a"/>
<circle cx="614.57" cy="145.8" r="2.45" fill="#ff8400"/>
<circle cx="617.39" cy="145.8" r="2.45" fill="#ff8400"/>
<circle cx="620.21" cy="145.8" r="2.45" fill="#ff8400"/>
<circle cx="623.03" cy="145.8" r="2.45" fill="#ff8400"/>
<circle cx="625.86" cy="145.8" r="2.45" fill="#ff8400"/>
<circle cx="631.5" cy="145.8" r="2.45" fill="#ff0a0a"/>
<circle cx="634.32" cy="145.8" r="2.45" fill="#ff8400"/>
<circle cx="637.14" cy="145.8" r="2.45" fill="#ff8400"/>
<circle cx="639.97" cy="145.8" r="2.45" fill="#ff8400"/>
<circle cx="642.79" cy="145.8" r="2.45" fill="#ff8400"/>
<circle cx="645.61" cy="145.8" r="2.45" fill="#ff8400"/>
<circle cx="648.43" cy="145.8" r="2.45" fill="#ff8400"/>
<circle cx="651.25" cy="145.8" r="2.45" fill="#eef80a"/>
<circle cx="654.08" cy="145.8" r="2.45" fill="#ff8400"/>
<circle cx="656.9" cy="145.8" r="2.45" fill="#ff8400"/>
<circle cx="659.72" cy="145.8" r="2.45" fill="#eef80a"/>
<circle cx="662.54" cy="145.8" r="2.45" fill="#ff8400"/>
<circle cx="665.36" cy="145.8" r="2.45" fill="#eef80a"/>
<circle cx="668.19" cy="145.8" r="2.45" fill="#eef80a"/>
<circle cx="671.01" cy="145.8" r="2.45" fill="#eef80a"/>
<circle cx="673.83" cy="145.8" r="2.45" fill="#eef80a"/>
<circle cx="679.47" cy="145.8" r="2.45" fill="#ff8400"/>
<circle cx="682.3" cy="145.8" r="2.45" fill="#ff8400"/>
<circle cx="687.94" cy="145.8" r="2.45" fill="#ff8400"/>
<circle cx="696.41" cy="145.8" r="2.45" fill="#eef80a"/>
<circle cx="702.05" cy="145.8" r="2.45" fill="#ff8400"/>
<circle cx="707.69" cy="145.8" r="2.45" fill="#eef80a"/>
<circle cx="710.52" cy="145.8" r="2.45" fill="#eef80a"/>
<circle cx="716.16" cy="145.8" r="2.45" fill="#eef80a"/>
<circle cx="718.98" cy="145.8" r="2.45" fill="#eef80a"/>
<circle cx="724.63" cy="145.8" r="2.45" fill="#eef80a"/>
<circle cx="727.45" cy="145.8" r="2.45" fill="#eef80a"/>
<circle cx="730.27" cy="145.8" r="2.45" fill="#eef80a"/>
<circle cx="733.09" cy="145.8" r="2.45" fill="#eef80a"/>
<circle cx="735.91" cy="145.8" r="2.45" fill="#74f400"/>
<circle cx="738.74" cy="145.8" r="2.45" fill="#74f400"/>
<circle cx="741.56" cy="145.8" r="2.45" fill="#74f400"/>
<circle cx="744.38" cy="145.8" r="2.45" fill="#74f400"/>
<circle cx="750.02" cy="145.8" r="2.45" fill="#74f400"/>
<circle cx="549.66" cy="139.79" r="2.45" fill="#26b426"/>
<circle cx="552.48" cy="139.79" r="2.45" fill="#2a3aff"/>
<circle cx="555.31" cy="139.79" r="2.45" fill="#26b426"/>
<circle cx="558.13" cy="139.79" r="2.45" fill="#26b426"/>
<circle cx="560.95" cy="139.79" r="2.45" fill="#74f400"/>
<circle cx="566.59" cy="139.79" r="2.45" fill="#ff8400"/>
<circle cx="569.42" cy="139.79" r="2.45" fill="#eef80a"/>
<circle cx="572.24" cy="139.79" r="2.45" fill="#eef80a"/>
<circle cx="575.06" cy="139.79" r="2.45" fill="#ff8400"/>
<circle cx="577.88" cy="139.79" r="2.45" fill="#ff8400"/>
<circle cx="580.7" cy="139.79" r="2.45" fill="#ff8400"/>
<circle cx="583.53" cy="139.79" r="2.45" fill="#ff8400"/>
<circle cx="586.35" cy="139.79" r="2.45" fill="#ff8400"/>
<circle cx="589.17" cy="139.79" r="2.45" fill="#ff8400"/>
<circle cx="591.99" cy="139.79" r="2.45" fill="#ff0a0a"/>
<circle cx="594.81" cy="139.79" r="2.45" fill="#ff8400"/>
<circle cx="597.64" cy="139.79" r="2.45" fill="#ff8400"/>
<circle cx="600.46" cy="139.79" r="2.45" fill="#ff8400"/>
<circle cx="603.28" cy="139.79" r="2.45" fill="#ff8400"/>
<circle cx="606.1" cy="139.79" r="2.45" fill="#ff8400"/>
<circle cx="608.92" cy="139.79" r="2.45" fill="#ff8400"/>
<circle cx="611.75" cy="139.79" r="2.45" fill="#ff0a0a"/>
<circle cx="614.57" cy="139.79" r="2.45" fill="#ff8400"/>
<circle cx="617.39" cy="139.79" r="2.45" fill="#ff8400"/>
<circle cx="620.21" cy="139.79" r="2.45" fill="#eef80a"/>
<circle cx="623.03" cy="139.79" r="2.45" fill="#ff8400"/>
<circle cx="625.86" cy="139.79" r="2.45" fill="#ff8400"/>
<circle cx="628.68" cy="139.79" r="2.45" fill="#ff8400"/>
<circle cx="631.5" cy="139.79" r="2.45" fill="#ff8400"/>
<circle cx="634.32" cy="139.79" r="2.45" fill="#ff8400"/>
<circle cx="637.14" cy="139.79" r="2.45" fill="#ff8400"/>
<circle cx="639.97" cy="139.79" r="2.45" fill="#ff8400"/>
<circle cx="642.79" cy="139.79" r="2.45" fill="#ff8400"/>
<circle cx="645.61" cy="139.79" r="2.45" fill="#eef80a"/>
<circle cx="648.43" cy="139.79" r="2.45" fill="#eef80a"/>
<circle cx="651.25" cy="139.79" r="2.45" fill="#eef80a"/>
<circle cx="654.08" cy="139.79" r="2.45" fill="#eef80a"/>
<circle cx="656.9" cy="139.79" r="2.45" fill="#eef80a"/>
<circle cx="662.54" cy="139.79" r="2.45" fill="#ff8400"/>
<circle cx="665.36" cy="139.79" r="2.45" fill="#eef80a"/>
<circle cx="668.19" cy="139.79" r="2.45" fill="#eef80a"/>
<circle cx="671.01" cy="139.79" r="2.45" fill="#eef80a"/>
<circle cx="676.65" cy="139.79" r="2.45" fill="#eef80a"/>
<circle cx="679.47" cy="139.79" r="2.45" fill="#eef80a"/>
<circle cx="682.3" cy="139.79" r="2.45" fill="#ff8400"/>
<circle cx="687.94" cy="139.79" r="2.45" fill="#ff0a0a"/>
<circle cx="690.76" cy="139.79" r="2.45" fill="#eef80a"/>
<circle cx="693.58" cy="139.79" r="2.45" fill="#eef80a"/>
<circle cx="696.41" cy="139.79" r="2.45" fill="#eef80a"/>
<circle cx="704.87" cy="139.79" r="2.45" fill="#eef80a"/>
<circle cx="707.69" cy="139.79" r="2.45" fill="#eef80a"/>
<circle cx="710.52" cy="139.79" r="2.45" fill="#eef80a"/>
<circle cx="713.34" cy="139.79" r="2.45" fill="#eef80a"/>
<circle cx="716.16" cy="139.79" r="2.45" fill="#eef80a"/>
<circle cx="724.63" cy="139.79" r="2.45" fill="#eef80a"/>
<circle cx="727.45" cy="139.79" r="2.45" fill="#eef80a"/>
<circle cx="730.27" cy="139.79" r="2.45" fill="#eef80a"/>
<circle cx="733.09" cy="139.79" r="2.45" fill="#eef80a"/>
<circle cx="735.91" cy="139.79" r="2.45" fill="#74f400"/>
<circle cx="738.74" cy="139.79" r="2.45" fill="#74f400"/>
<circle cx="741.56" cy="139.79" r="2.45" fill="#74f400"/>
<circle cx="744.38" cy="139.79" r="2.45" fill="#74f400"/>
<circle cx="750.02" cy="139.79" r="2.45" fill="#74f400"/>
<circle cx="560.95" cy="133.77" r="2.45" fill="#26b426"/>
<circle cx="563.77" cy="133.77" r="2.45" fill="#74f400"/>
<circle cx="566.59" cy="133.77" r="2.45" fill="#eef80a"/>
<circle cx="569.42" cy="133.77" r="2.45" fill="#74f400"/>
<circle cx="572.24" cy="133.77" r="2.45" fill="#ff8400"/>
<circle cx="575.06" cy="133.77" r="2.45" fill="#eef80a"/>
<circle cx="577.88" cy="133.77" r="2.45" fill="#eef80a"/>
<circle cx="580.7" cy="133.77" r="2.45" fill="#eef80a"/>
<circle cx="583.53" cy="133.77" r="2.45" fill="#eef80a"/>
<circle cx="586.35" cy="133.77" r="2.45" fill="#eef80a"/>
<circle cx="589.17" cy="133.77" r="2.45" fill="#eef80a"/>
<circle cx="591.99" cy="133.77" r="2.45" fill="#ff8400"/>
<circle cx="594.81" cy="133.77" r="2.45" fill="#ff8400"/>
<circle cx="597.64" cy="133.77" r="2.45" fill="#ff8400"/>
<circle cx="600.46" cy="133.77" r="2.45" fill="#ff8400"/>
<circle cx="603.28" cy="133.77" r="2.45" fill="#ff8400"/>
<circle cx="606.1" cy="133.77" r="2.45" fill="#ff8400"/>
<circle cx="608.92" cy="133.77" r="2.45" fill="#ff8400"/>
<circle cx="611.75" cy="133.77" r="2.45" fill="#ff8400"/>
<circle cx="614.57" cy="133.77" r="2.45" fill="#ff8400"/>
<circle cx="617.39" cy="133.77" r="2.45" fill="#ff8400"/>
<circle cx="620.21" cy="133.77" r="2.45" fill="#ff8400"/>
<circle cx="623.03" cy="133.77" r="2.45" fill="#ff8400"/>
<circle cx="625.86" cy="133.77" r="2.45" fill="#ff8400"/>
<circle cx="628.68" cy="133.77" r="2.45" fill="#eef80a"/>
<circle cx="631.5" cy="133.77" r="2.45" fill="#eef80a"/>
<circle cx="634.32" cy="133.77" r="2.45" fill="#eef80a"/>
<circle cx="637.14" cy="133.77" r="2.45" fill="#eef80a"/>
<circle cx="639.97" cy="133.77" r="2.45" fill="#ff8400"/>
<circle cx="642.79" cy="133.77" r="2.45" fill="#ff8400"/>
<circle cx="645.61" cy="133.77" r="2.45" fill="#eef80a"/>
<circle cx="648.43" cy="133.77" r="2.45" fill="#eef80a"/>
<circle cx="651.25" cy="133.77" r="2.45" fill="#eef80a"/>
<circle cx="654.08" cy="133.77" r="2.45" fill="#eef80a"/>
<circle cx="656.9" cy="133.77" r="2.45" fill="#eef80a"/>
<circle cx="662.54" cy="133.77" r="2.45" fill="#ff8400"/>
<circle cx="665.36" cy="133.77" r="2.45" fill="#eef80a"/>
<circle cx="668.19" cy="133.77" r="2.45" fill="#eef80a"/>
<circle cx="671.01" cy="133.77" r="2.45" fill="#eef80a"/>
<circle cx="673.83" cy="133.77" r="2.45" fill="#eef80a"/>
<circle cx="679.47" cy="133.77" r="2.45" fill="#eef80a"/>
<circle cx="682.3" cy="133.77" r="2.45" fill="#eef80a"/>
<circle cx="685.12" cy="133.77" r="2.45" fill="#eef80a"/>
<circle cx="696.41" cy="133.77" r="2.45" fill="#eef80a"/>
<circle cx="704.87" cy="133.77" r="2.45" fill="#eef80a"/>
<circle cx="707.69" cy="133.77" r="2.45" fill="#eef80a"/>
<circle cx="710.52" cy="133.77" r="2.45" fill="#eef80a"/>
<circle cx="713.34" cy="133.77" r="2.45" fill="#eef80a"/>
<circle cx="716.16" cy="133.77" r="2.45" fill="#eef80a"/>
<circle cx="718.98" cy="133.77" r="2.45" fill="#eef80a"/>
<circle cx="724.63" cy="133.77" r="2.45" fill="#eef80a"/>
<circle cx="727.45" cy="133.77" r="2.45" fill="#eef80a"/>
<circle cx="730.27" cy="133.77" r="2.45" fill="#eef80a"/>
<circle cx="733.09" cy="133.77" r="2.45" fill="#eef80a"/>
<circle cx="735.91" cy="133.77" r="2.45" fill="#74f400"/>
<circle cx="738.74" cy="133.77" r="2.45" fill="#74f400"/>
<circle cx="741.56" cy="133.77" r="2.45" fill="#74f400"/>
<circle cx="744.38" cy="133.77" r="2.45" fill="#74f400"/>
<circle cx="747.2" cy="133.77" r="2.45" fill="#74f400"/>
<circle cx="752.85" cy="133.77" r="2.45" fill="#26b426"/>
<circle cx="560.95" cy="127.76" r="2.45" fill="#26b426"/>
<circle cx="566.59" cy="127.76" r="2.45" fill="#74f400"/>
<circle cx="569.42" cy="127.76" r="2.45" fill="#74f400"/>
<circle cx="572.24" cy="127.76" r="2.45" fill="#eef80a"/>
<circle cx="575.06" cy="127.76" r="2.45" fill="#74f400"/>
<circle cx="577.88" cy="127.76" r="2.45" fill="#eef80a"/>
<circle cx="580.7" cy="127.76" r="2.45" fill="#74f400"/>
<circle cx="583.53" cy="127.76" r="2.45" fill="#eef80a"/>
<circle cx="586.35" cy="127.76" r="2.45" fill="#eef80a"/>
<circle cx="589.17" cy="127.76" r="2.45" fill="#eef80a"/>
<circle cx="591.99" cy="127.76" r="2.45" fill="#eef80a"/>
<circle cx="594.81" cy="127.76" r="2.45" fill="#eef80a"/>
<circle cx="597.64" cy="127.76" r="2.45" fill="#ff8400"/>
<circle cx="600.46" cy="127.76" r="2.45" fill="#eef80a"/>
<circle cx="603.28" cy="127.76" r="2.45" fill="#eef80a"/>
<circle cx="606.1" cy="127.76" r="2.45" fill="#eef80a"/>
<circle cx="608.92" cy="127.76" r="2.45" fill="#eef80a"/>
<circle cx="611.75" cy="127.76" r="2.45" fill="#eef80a"/>
<circle cx="614.57" cy="127.76" r="2.45" fill="#eef80a"/>
<circle cx="617.39" cy="127.76" r="2.45" fill="#ff8400"/>
<circle cx="620.21" cy="127.76" r="2.45" fill="#eef80a"/>
<circle cx="623.03" cy="127.76" r="2.45" fill="#ff8400"/>
<circle cx="625.86" cy="127.76" r="2.45" fill="#eef80a"/>
<circle cx="628.68" cy="127.76" r="2.45" fill="#eef80a"/>
<circle cx="631.5" cy="127.76" r="2.45" fill="#eef80a"/>
<circle cx="634.32" cy="127.76" r="2.45" fill="#eef80a"/>
<circle cx="637.14" cy="127.76" r="2.45" fill="#74f400"/>
<circle cx="642.79" cy="127.76" r="2.45" fill="#ff8400"/>
<circle cx="645.61" cy="127.76" r="2.45" fill="#eef80a"/>
<circle cx="648.43" cy="127.76" r="2.45" fill="#eef80a"/>
<circle cx="651.25" cy="127.76" r="2.45" fill="#eef80a"/>
<circle cx="654.08" cy="127.76" r="2.45" fill="#eef80a"/>
<circle cx="656.9" cy="127.76" r="2.45" fill="#eef80a"/>
<circle cx="659.72" cy="127.76" r="2.45" fill="#eef80a"/>
<circle cx="662.54" cy="127.76" r="2.45" fill="#74f400"/>
<circle cx="665.36" cy="127.76" r="2.45" fill="#eef80a"/>
<circle cx="668.19" cy="127.76" r="2.45" fill="#eef80a"/>
<circle cx="673.83" cy="127.76" r="2.45" fill="#eef80a"/>
<circle cx="682.3" cy="127.76" r="2.45" fill="#74f400"/>
<circle cx="685.12" cy="127.76" r="2.45" fill="#eef80a"/>
<circle cx="687.94" cy="127.76" r="2.45" fill="#eef80a"/>
<circle cx="690.76" cy="127.76" r="2.45" fill="#eef80a"/>
<circle cx="693.58" cy="127.76" r="2.45" fill="#eef80a"/>
<circle cx="696.41" cy="127.76" r="2.45" fill="#eef80a"/>
<circle cx="702.05" cy="127.76" r="2.45" fill="#74f400"/>
<circle cx="704.87" cy="127.76" r="2.45" fill="#74f400"/>
<circle cx="707.69" cy="127.76" r="2.45" fill="#74f400"/>
<circle cx="710.52" cy="127.76" r="2.45" fill="#74f400"/>
<circle cx="713.34" cy="127.76" r="2.45" fill="#eef80a"/>
<circle cx="718.98" cy="127.76" r="2.45" fill="#74f400"/>
<circle cx="724.63" cy="127.76" r="2.45" fill="#eef80a"/>
<circle cx="727.45" cy="127.76" r="2.45" fill="#74f400"/>
<circle cx="730.27" cy="127.76" r="2.45" fill="#74f400"/>
<circle cx="733.09" cy="127.76" r="2.45" fill="#26b426"/>
<circle cx="735.91" cy="127.76" r="2.45" fill="#74f400"/>
<circle cx="738.74" cy="127.76" r="2.45" fill="#eef80a"/>
<circle cx="744.38" cy="127.76" r="2.45" fill="#74f400"/>
<circle cx="747.2" cy="127.76" r="2.45" fill="#74f400"/>
<circle cx="750.02" cy="127.76" r="2.45" fill="#74f400"/>
<circle cx="572.24" cy="121.74" r="2.45" fill="#26b426"/>
<circle cx="575.06" cy="121.74" r="2.45" fill="#74f400"/>
<circle cx="577.88" cy="121.74" r="2.45" fill="#74f400"/>
<circle cx="580.7" cy="121.74" r="2.45" fill="#2a3aff"/>
<circle cx="583.53" cy="121.74" r="2.45" fill="#26b426"/>
<circle cx="586.35" cy="121.74" r="2.45" fill="#26b426"/>
<circle cx="589.17" cy="121.74" r="2.45" fill="#74f400"/>
<circle cx="594.81" cy="121.74" r="2.45" fill="#74f400"/>
<circle cx="597.64" cy="121.74" r="2.45" fill="#26b426"/>
<circle cx="600.46" cy="121.74" r="2.45" fill="#eef80a"/>
<circle cx="603.28" cy="121.74" r="2.45" fill="#eef80a"/>
<circle cx="606.1" cy="121.74" r="2.45" fill="#eef80a"/>
<circle cx="608.92" cy="121.74" r="2.45" fill="#26b426"/>
<circle cx="611.75" cy="121.74" r="2.45" fill="#eef80a"/>
<circle cx="614.57" cy="121.74" r="2.45" fill="#eef80a"/>
<circle cx="617.39" cy="121.74" r="2.45" fill="#eef80a"/>
<circle cx="620.21" cy="121.74" r="2.45" fill="#eef80a"/>
<circle cx="623.03" cy="121.74" r="2.45" fill="#ff8400"/>
<circle cx="625.86" cy="121.74" r="2.45" fill="#eef80a"/>
<circle cx="628.68" cy="121.74" r="2.45" fill="#eef80a"/>
<circle cx="631.5" cy="121.74" r="2.45" fill="#74f400"/>
<circle cx="637.14" cy="121.74" r="2.45" fill="#eef80a"/>
<circle cx="639.97" cy="121.74" r="2.45" fill="#eef80a"/>
<circle cx="642.79" cy="121.74" r="2.45" fill="#ff8400"/>
<circle cx="645.61" cy="121.74" r="2.45" fill="#eef80a"/>
<circle cx="648.43" cy="121.74" r="2.45" fill="#eef80a"/>
<circle cx="651.25" cy="121.74" r="2.45" fill="#eef80a"/>
<circle cx="654.08" cy="121.74" r="2.45" fill="#eef80a"/>
<circle cx="656.9" cy="121.74" r="2.45" fill="#eef80a"/>
<circle cx="659.72" cy="121.74" r="2.45" fill="#eef80a"/>
<circle cx="662.54" cy="121.74" r="2.45" fill="#eef80a"/>
<circle cx="668.19" cy="121.74" r="2.45" fill="#74f400"/>
<circle cx="673.83" cy="121.74" r="2.45" fill="#eef80a"/>
<circle cx="676.65" cy="121.74" r="2.45" fill="#eef80a"/>
<circle cx="685.12" cy="121.74" r="2.45" fill="#74f400"/>
<circle cx="687.94" cy="121.74" r="2.45" fill="#eef80a"/>
<circle cx="690.76" cy="121.74" r="2.45" fill="#eef80a"/>
<circle cx="693.58" cy="121.74" r="2.45" fill="#eef80a"/>
<circle cx="699.23" cy="121.74" r="2.45" fill="#74f400"/>
<circle cx="702.05" cy="121.74" r="2.45" fill="#74f400"/>
<circle cx="704.87" cy="121.74" r="2.45" fill="#74f400"/>
<circle cx="707.69" cy="121.74" r="2.45" fill="#74f400"/>
<circle cx="710.52" cy="121.74" r="2.45" fill="#74f400"/>
<circle cx="713.34" cy="121.74" r="2.45" fill="#74f400"/>
<circle cx="724.63" cy="121.74" r="2.45" fill="#eef80a"/>
<circle cx="727.45" cy="121.74" r="2.45" fill="#74f400"/>
<circle cx="730.27" cy="121.74" r="2.45" fill="#74f400"/>
<circle cx="733.09" cy="121.74" r="2.45" fill="#74f400"/>
<circle cx="735.91" cy="121.74" r="2.45" fill="#74f400"/>
<circle cx="738.74" cy="121.74" r="2.45" fill="#74f400"/>
<circle cx="744.38" cy="121.74" r="2.45" fill="#74f400"/>
<circle cx="747.2" cy="121.74" r="2.45" fill="#74f400"/>
<circle cx="750.02" cy="121.74" r="2.45" fill="#74f400"/>
<circle cx="577.88" cy="115.73" r="2.45" fill="#26b426"/>
<circle cx="583.53" cy="115.73" r="2.45" fill="#2a3aff"/>
<circle cx="586.35" cy="115.73" r="2.45" fill="#74f400"/>
<circle cx="591.99" cy="115.73" r="2.45" fill="#74f400"/>
<circle cx="594.81" cy="115.73" r="2.45" fill="#26b426"/>
<circle cx="597.64" cy="115.73" r="2.45" fill="#26b426"/>
<circle cx="600.46" cy="115.73" r="2.45" fill="#26b426"/>
<circle cx="603.28" cy="115.73" r="2.45" fill="#ff8400"/>
<circle cx="606.1" cy="115.73" r="2.45" fill="#74f400"/>
<circle cx="608.92" cy="115.73" r="2.45" fill="#74f400"/>
<circle cx="611.75" cy="115.73" r="2.45" fill="#74f400"/>
<circle cx="614.57" cy="115.73" r="2.45" fill="#eef80a"/>
<circle cx="617.39" cy="115.73" r="2.45" fill="#74f400"/>
<circle cx="620.21" cy="115.73" r="2.45" fill="#74f400"/>
<circle cx="623.03" cy="115.73" r="2.45" fill="#74f400"/>
<circle cx="625.86" cy="115.73" r="2.45" fill="#74f400"/>
<circle cx="628.68" cy="115.73" r="2.45" fill="#74f400"/>
<circle cx="631.5" cy="115.73" r="2.45" fill="#74f400"/>
<circle cx="634.32" cy="115.73" r="2.45" fill="#74f400"/>
<circle cx="637.14" cy="115.73" r="2.45" fill="#74f400"/>
<circle cx="639.97" cy="115.73" r="2.45" fill="#74f400"/>
<circle cx="645.61" cy="115.73" r="2.45" fill="#eef80a"/>
<circle cx="648.43" cy="115.73" r="2.45" fill="#74f400"/>
<circle cx="651.25" cy="115.73" r="2.45" fill="#eef80a"/>
<circle cx="654.08" cy="115.73" r="2.45" fill="#eef80a"/>
<circle cx="656.9" cy="115.73" r="2.45" fill="#74f400"/>
<circle cx="659.72" cy="115.73" r="2.45" fill="#74f400"/>
<circle cx="662.54" cy="115.73" r="2.45" fill="#74f400"/>
<circle cx="665.36" cy="115.73" r="2.45" fill="#74f400"/>
<circle cx="668.19" cy="115.73" r="2.45" fill="#74f400"/>
<circle cx="671.01" cy="115.73" r="2.45" fill="#74f400"/>
<circle cx="673.83" cy="115.73" r="2.45" fill="#74f400"/>
<circle cx="676.65" cy="115.73" r="2.45" fill="#74f400"/>
<circle cx="682.3" cy="115.73" r="2.45" fill="#74f400"/>
<circle cx="687.94" cy="115.73" r="2.45" fill="#74f400"/>
<circle cx="693.58" cy="115.73" r="2.45" fill="#74f400"/>
<circle cx="699.23" cy="115.73" r="2.45" fill="#74f400"/>
<circle cx="702.05" cy="115.73" r="2.45" fill="#74f400"/>
<circle cx="704.87" cy="115.73" r="2.45" fill="#74f400"/>
<circle cx="710.52" cy="115.73" r="2.45" fill="#74f400"/>
<circle cx="713.34" cy="115.73" r="2.45" fill="#74f400"/>
<circle cx="721.8" cy="115.73" r="2.45" fill="#eef80a"/>
<circle cx="733.09" cy="115.73" r="2.45" fill="#74f400"/>
<circle cx="735.91" cy="115.73" r="2.45" fill="#74f400"/>
<circle cx="738.74" cy="115.73" r="2.45" fill="#74f400"/>
<circle cx="752.85" cy="115.73" r="2.45" fill="#74f400"/>
<circle cx="589.17" cy="109.71" r="2.45" fill="#2a3aff"/>
<circle cx="591.99" cy="109.71" r="2.45" fill="#2a3aff"/>
<circle cx="594.81" cy="109.71" r="2.45" fill="#2a3aff"/>
<circle cx="597.64" cy="109.71" r="2.45" fill="#2a3aff"/>
<circle cx="603.28" cy="109.71" r="2.45" fill="#26b426"/>
<circle cx="606.1" cy="109.71" r="2.45" fill="#74f400"/>
<circle cx="608.92" cy="109.71" r="2.45" fill="#74f400"/>
<circle cx="611.75" cy="109.71" r="2.45" fill="#74f400"/>
<circle cx="614.57" cy="109.71" r="2.45" fill="#74f400"/>
<circle cx="617.39" cy="109.71" r="2.45" fill="#26b426"/>
<circle cx="620.21" cy="109.71" r="2.45" fill="#2a3aff"/>
<circle cx="623.03" cy="109.71" r="2.45" fill="#26b426"/>
<circle cx="625.86" cy="109.71" r="2.45" fill="#26b426"/>
<circle cx="628.68" cy="109.71" r="2.45" fill="#74f400"/>
<circle cx="631.5" cy="109.71" r="2.45" fill="#26b426"/>
<circle cx="634.32" cy="109.71" r="2.45" fill="#74f400"/>
<circle cx="637.14" cy="109.71" r="2.45" fill="#74f400"/>
<circle cx="639.97" cy="109.71" r="2.45" fill="#74f400"/>
<circle cx="645.61" cy="109.71" r="2.45" fill="#74f400"/>
<circle cx="648.43" cy="109.71" r="2.45" fill="#74f400"/>
<circle cx="651.25" cy="109.71" r="2.45" fill="#74f400"/>
<circle cx="654.08" cy="109.71" r="2.45" fill="#eef80a"/>
<circle cx="656.9" cy="109.71" r="2.45" fill="#74f400"/>
<circle cx="659.72" cy="109.71" r="2.45" fill="#74f400"/>
<circle cx="662.54" cy="109.71" r="2.45" fill="#74f400"/>
<circle cx="665.36" cy="109.71" r="2.45" fill="#74f400"/>
<circle cx="668.19" cy="109.71" r="2.45" fill="#74f400"/>
<circle cx="671.01" cy="109.71" r="2.45" fill="#74f400"/>
<circle cx="679.47" cy="109.71" r="2.45" fill="#74f400"/>
<circle cx="682.3" cy="109.71" r="2.45" fill="#74f400"/>
<circle cx="685.12" cy="109.71" r="2.45" fill="#74f400"/>
<circle cx="687.94" cy="109.71" r="2.45" fill="#74f400"/>
<circle cx="693.58" cy="109.71" r="2.45" fill="#74f400"/>
<circle cx="696.41" cy="109.71" r="2.45" fill="#eef80a"/>
<circle cx="699.23" cy="109.71" r="2.45" fill="#74f400"/>
<circle cx="710.52" cy="109.71" r="2.45" fill="#74f400"/>
<circle cx="713.34" cy="109.71" r="2.45" fill="#74f400"/>
<circle cx="716.16" cy="109.71" r="2.45" fill="#74f400"/>
<circle cx="718.98" cy="109.71" r="2.45" fill="#74f400"/>
<circle cx="730.27" cy="109.71" r="2.45" fill="#74f400"/>
<circle cx="733.09" cy="109.71" r="2.45" fill="#74f400"/>
<circle cx="735.91" cy="109.71" r="2.45" fill="#74f400"/>
<circle cx="738.74" cy="109.71" r="2.45" fill="#74f400"/>
<circle cx="744.38" cy="109.71" r="2.45" fill="#2a3aff"/>
<circle cx="750.02" cy="109.71" r="2.45" fill="#74f400"/>
<circle cx="586.35" cy="103.7" r="2.45" fill="#26b426"/>
<circle cx="589.17" cy="103.7" r="2.45" fill="#2a3aff"/>
<circle cx="606.1" cy="103.7" r="2.45" fill="#74f400"/>
<circle cx="608.92" cy="103.7" r="2.45" fill="#26b426"/>
<circle cx="611.75" cy="103.7" r="2.45" fill="#26b426"/>
<circle cx="617.39" cy="103.7" r="2.45" fill="#26b426"/>
<circle cx="620.21" cy="103.7" r="2.45" fill="#74f400"/>
<circle cx="623.03" cy="103.7" r="2.45" fill="#26b426"/>
<circle cx="625.86" cy="103.7" r="2.45" fill="#26b426"/>
<circle cx="631.5" cy="103.7" r="2.45" fill="#26b426"/>
<circle cx="634.32" cy="103.7" r="2.45" fill="#eef80a"/>
<circle cx="637.14" cy="103.7" r="2.45" fill="#2a3aff"/>
<circle cx="639.97" cy="103.7" r="2.45" fill="#26b426"/>
<circle cx="645.61" cy="103.7" r="2.45" fill="#74f400"/>
<circle cx="648.43" cy="103.7" r="2.45" fill="#74f400"/>
<circle cx="651.25" cy="103.7" r="2.45" fill="#74f400"/>
<circle cx="654.08" cy="103.7" r="2.45" fill="#26b426"/>
<circle cx="656.9" cy="103.7" r="2.45" fill="#26b426"/>
<circle cx="659.72" cy="103.7" r="2.45" fill="#26b426"/>
<circle cx="662.54" cy="103.7" r="2.45" fill="#26b426"/>
<circle cx="665.36" cy="103.7" r="2.45" fill="#26b426"/>
<circle cx="668.19" cy="103.7" r="2.45" fill="#26b426"/>
<circle cx="671.01" cy="103.7" r="2.45" fill="#26b426"/>
<circle cx="673.83" cy="103.7" r="2.45" fill="#26b426"/>
<circle cx="676.65" cy="103.7" r="2.45" fill="#74f400"/>
<circle cx="679.47" cy="103.7" r="2.45" fill="#74f400"/>
<circle cx="682.3" cy="103.7" r="2.45" fill="#74f400"/>
<circle cx="685.12" cy="103.7" r="2.45" fill="#74f400"/>
<circle cx="687.94" cy="103.7" r="2.45" fill="#74f400"/>
<circle cx="690.76" cy="103.7" r="2.45" fill="#eef80a"/>
<circle cx="696.41" cy="103.7" r="2.45" fill="#74f400"/>
<circle cx="707.69" cy="103.7" r="2.45" fill="#74f400"/>
<circle cx="713.34" cy="103.7" r="2.45" fill="#74f400"/>
<circle cx="716.16" cy="103.7" r="2.45" fill="#74f400"/>
<circle cx="718.98" cy="103.7" r="2.45" fill="#26b426"/>
<circle cx="724.63" cy="103.7" r="2.45" fill="#26b426"/>
<circle cx="730.27" cy="103.7" r="2.45" fill="#74f400"/>
<circle cx="747.2" cy="103.7" r="2.45" fill="#26b426"/>
<circle cx="750.02" cy="103.7" r="2.45" fill="#26b426"/>
<circle cx="586.35" cy="97.68" r="2.45" fill="#2a3aff"/>
<circle cx="591.99" cy="97.68" r="2.45" fill="#2a3aff"/>
<circle cx="600.46" cy="97.68" r="2.45" fill="#2a3aff"/>
<circle cx="611.75" cy="97.68" r="2.45" fill="#2a3aff"/>
<circle cx="617.39" cy="97.68" r="2.45" fill="#26b426"/>
<circle cx="620.21" cy="97.68" r="2.45" fill="#26b426"/>
<circle cx="628.68" cy="97.68" r="2.45" fill="#2a3aff"/>
<circle cx="631.5" cy="97.68" r="2.45" fill="#26b426"/>
<circle cx="634.32" cy="97.68" r="2.45" fill="#2a3aff"/>
<circle cx="642.79" cy="97.68" r="2.45" fill="#26b426"/>
<circle cx="645.61" cy="97.68" r="2.45" fill="#74f400"/>
<circle cx="648.43" cy="97.68" r="2.45" fill="#26b426"/>
<circle cx="651.25" cy="97.68" r="2.45" fill="#26b426"/>
<circle cx="662.54" cy="97.68" r="2.45" fill="#26b426"/>
<circle cx="665.36" cy="97.68" r="2.45" fill="#26b426"/>
<circle cx="668.19" cy="97.68" r="2.45" fill="#26b426"/>
<circle cx="671.01" cy="97.68" r="2.45" fill="#26b426"/>
<circle cx="679.47" cy="97.68" r="2.45" fill="#26b426"/>
<circle cx="682.3" cy="97.68" r="2.45" fill="#74f400"/>
<circle cx="685.12" cy="97.68" r="2.45" fill="#74f400"/>
<circle cx="687.94" cy="97.68" r="2.45" fill="#74f400"/>
<circle cx="690.76" cy="97.68" r="2.45" fill="#74f400"/>
<circle cx="693.58" cy="97.68" r="2.45" fill="#74f400"/>
<circle cx="696.41" cy="97.68" r="2.45" fill="#74f400"/>
<circle cx="699.23" cy="97.68" r="2.45" fill="#74f400"/>
<circle cx="704.87" cy="97.68" r="2.45" fill="#26b426"/>
<circle cx="707.69" cy="97.68" r="2.45" fill="#26b426"/>
<circle cx="713.34" cy="97.68" r="2.45" fill="#74f400"/>
<circle cx="721.8" cy="97.68" r="2.45" fill="#74f400"/>
<circle cx="733.09" cy="97.68" r="2.45" fill="#74f400"/>
<circle cx="747.2" cy="97.68" r="2.45" fill="#74f400"/>
<circle cx="594.81" cy="91.67" r="2.45" fill="#26b426"/>
<circle cx="611.75" cy="91.67" r="2.45" fill="#26b426"/>
<circle cx="628.68" cy="91.67" r="2.45" fill="#2a3aff"/>
<circle cx="639.97" cy="91.67" r="2.45" fill="#2a3aff"/>
<circle cx="645.61" cy="91.67" r="2.45" fill="#2a3aff"/>
<circle cx="651.25" cy="91.67" r="2.45" fill="#26b426"/>
<circle cx="654.08" cy="91.67" r="2.45" fill="#2a3aff"/>
<circle cx="662.54" cy="91.67" r="2.45" fill="#74f400"/>
<circle cx="668.19" cy="91.67" r="2.45" fill="#2a3aff"/>
<circle cx="671.01" cy="91.67" r="2.45" fill="#26b426"/>
<circle cx="673.83" cy="91.67" r="2.45" fill="#26b426"/>
<circle cx="676.65" cy="91.67" r="2.45" fill="#26b426"/>
<circle cx="682.3" cy="91.67" r="2.45" fill="#74f400"/>
<circle cx="685.12" cy="91.67" r="2.45" fill="#74f400"/>
<circle cx="687.94" cy="91.67" r="2.45" fill="#74f400"/>
<circle cx="699.23" cy="91.67" r="2.45" fill="#26b426"/>
<circle cx="702.05" cy="91.67" r="2.45" fill="#26b426"/>
<circle cx="704.87" cy="91.67" r="2.45" fill="#26b426"/>
<circle cx="710.52" cy="91.67" r="2.45" fill="#2a3aff"/>
<circle cx="713.34" cy="91.67" r="2.45" fill="#74f400"/>
<circle cx="721.8" cy="91.67" r="2.45" fill="#74f400"/>
<circle cx="733.09" cy="91.67" r="2.45" fill="#74f400"/>
<circle cx="750.02" cy="91.67" r="2.45" fill="#26b426"/>
<circle cx="752.85" cy="91.67" r="2.45" fill="#74f400"/>
<circle cx="617.39" cy="85.65" r="2.45" fill="#2a3aff"/>
<circle cx="623.03" cy="85.65" r="2.45" fill="#2a3aff"/>
<circle cx="628.68" cy="85.65" r="2.45" fill="#26b426"/>
<circle cx="637.14" cy="85.65" r="2.45" fill="#2a3aff"/>
<circle cx="639.97" cy="85.65" r="2.45" fill="#2a3aff"/>
<circle cx="642.79" cy="85.65" r="2.45" fill="#2a3aff"/>
<circle cx="651.25" cy="85.65" r="2.45" fill="#26b426"/>
<circle cx="654.08" cy="85.65" r="2.45" fill="#2a3aff"/>
<circle cx="656.9" cy="85.65" r="2.45" fill="#2a3aff"/>
<circle cx="662.54" cy="85.65" r="2.45" fill="#26b426"/>
<circle cx="668.19" cy="85.65" r="2.45" fill="#2a3aff"/>
<circle cx="671.01" cy="85.65" r="2.45" fill="#26b426"/>
<circle cx="673.83" cy="85.65" r="2.45" fill="#26b426"/>
<circle cx="682.3" cy="85.65" r="2.45" fill="#26b426"/>
<circle cx="685.12" cy="85.65" r="2.45" fill="#26b426"/>
<circle cx="687.94" cy="85.65" r="2.45" fill="#26b426"/>
<circle cx="690.76" cy="85.65" r="2.45" fill="#26b426"/>
<circle cx="696.41" cy="85.65" r="2.45" fill="#26b426"/>
<circle cx="704.87" cy="85.65" r="2.45" fill="#74f400"/>
<circle cx="713.34" cy="85.65" r="2.45" fill="#26b426"/>
<circle cx="716.16" cy="85.65" r="2.45" fill="#74f400"/>
<circle cx="718.98" cy="85.65" r="2.45" fill="#74f400"/>
<circle cx="721.8" cy="85.65" r="2.45" fill="#74f400"/>
<circle cx="724.63" cy="85.65" r="2.45" fill="#74f400"/>
<circle cx="727.45" cy="85.65" r="2.45" fill="#26b426"/>
<circle cx="730.27" cy="85.65" r="2.45" fill="#26b426"/>
<circle cx="747.2" cy="85.65" r="2.45" fill="#26b426"/>
<path d="M32.6 25.5V266.25H328.4" fill="none" stroke="#1c1cc8" stroke-width="1.2"/>
<path d="M27.6 266.25H32.6M30 236.18H32.6M27.6 206.1H32.6M30 176.03H32.6M27.6 145.95H32.6M30 115.88H32.6M27.6 85.8H32.6M30 55.73H32.6M27.6 25.65H32.6M32.19 266.25V268.85M46.3 266.25V271.25M60.41 266.25V268.85M74.51 266.25V271.25M88.62 266.25V268.85M102.72 266.25V271.25M116.83 266.25V268.85M130.93 266.25V271.25M145.03 266.25V268.85M159.14 266.25V271.25M173.25 266.25V268.85M187.35 266.25V271.25M201.45 266.25V268.85M215.56 266.25V271.25M229.67 266.25V268.85M243.77 266.25V271.25M257.88 266.25V268.85M271.98 266.25V271.25M286.09 266.25V268.85M300.19 266.25V271.25M314.3 266.25V268.85M328.4 266.25V271.25" stroke="#1c1cc8" stroke-width="1.2"/>
<g font-family="Liberation Serif, serif" font-size="9.8" fill="#1c1cc8" stroke="#1c1cc8" stroke-width="0.25"><text transform="translate(24.2 269) scale(1 0.95)" text-anchor="end">0</text><text transform="translate(24.2 209.45) scale(1 0.95)" text-anchor="end">10</text><text transform="translate(24.2 149.3) scale(1 0.95)" text-anchor="end">20</text><text transform="translate(24.2 89.15) scale(1 0.95)" text-anchor="end">30</text><text transform="translate(24.2 29) scale(1 0.95)" text-anchor="end">40</text><text transform="translate(46.9 281.9) scale(1 0.95)" text-anchor="middle">10</text><text transform="translate(75.11 281.9) scale(1 0.95)" text-anchor="middle">20</text><text transform="translate(103.32 281.9) scale(1 0.95)" text-anchor="middle">30</text><text transform="translate(131.53 281.9) scale(1 0.95)" text-anchor="middle">40</text><text transform="translate(159.74 281.9) scale(1 0.95)" text-anchor="middle">50</text><text transform="translate(187.95 281.9) scale(1 0.95)" text-anchor="middle">60</text><text transform="translate(216.16 281.9) scale(1 0.95)" text-anchor="middle">70</text><text transform="translate(244.37 281.9) scale(1 0.95)" text-anchor="middle">80</text><text transform="translate(272.58 281.9) scale(1 0.95)" text-anchor="middle">90</text><text transform="translate(300.79 281.9) scale(1 0.95)" text-anchor="middle">100</text><text transform="translate(329 281.9) scale(1 0.95)" text-anchor="middle">110</text></g>
<text transform="translate(7.8 146.2) rotate(-90) scale(1 0.9)" text-anchor="middle" font-family="Liberation Serif, serif" font-weight="bold" font-size="13" fill="#1c1cc8">DBE</text>
<text x="180.6" y="302.2" text-anchor="middle" font-family="Liberation Serif, serif" font-weight="bold" font-size="13.5" fill="#1c1cc8">Carbon Number</text>
<path d="M476.7 25.5V266.25H772.5" fill="none" stroke="#1c1cc8" stroke-width="1.2"/>
<path d="M471.7 266.25H476.7M474.1 236.18H476.7M471.7 206.1H476.7M474.1 176.03H476.7M471.7 145.95H476.7M474.1 115.88H476.7M471.7 85.8H476.7M474.1 55.73H476.7M471.7 25.65H476.7M476.3 266.25V268.85M490.4 266.25V271.25M504.51 266.25V268.85M518.61 266.25V271.25M532.72 266.25V268.85M546.82 266.25V271.25M560.93 266.25V268.85M575.03 266.25V271.25M589.13 266.25V268.85M603.24 266.25V271.25M617.35 266.25V268.85M631.45 266.25V271.25M645.56 266.25V268.85M659.66 266.25V271.25M673.77 266.25V268.85M687.87 266.25V271.25M701.98 266.25V268.85M716.08 266.25V271.25M730.19 266.25V268.85M744.29 266.25V271.25M758.39 266.25V268.85M772.5 266.25V271.25" stroke="#1c1cc8" stroke-width="1.2"/>
<g font-family="Liberation Serif, serif" font-size="9.8" fill="#1c1cc8" stroke="#1c1cc8" stroke-width="0.25"><text transform="translate(468.3 269) scale(1 0.95)" text-anchor="end">0</text><text transform="translate(468.3 209.45) scale(1 0.95)" text-anchor="end">10</text><text transform="translate(468.3 149.3) scale(1 0.95)" text-anchor="end">20</text><text transform="translate(468.3 89.15) scale(1 0.95)" text-anchor="end">30</text><text transform="translate(468.3 29) scale(1 0.95)" text-anchor="end">40</text><text transform="translate(491 281.9) scale(1 0.95)" text-anchor="middle">10</text><text transform="translate(519.21 281.9) scale(1 0.95)" text-anchor="middle">20</text><text transform="translate(547.42 281.9) scale(1 0.95)" text-anchor="middle">30</text><text transform="translate(575.63 281.9) scale(1 0.95)" text-anchor="middle">40</text><text transform="translate(603.84 281.9) scale(1 0.95)" text-anchor="middle">50</text><text transform="translate(632.05 281.9) scale(1 0.95)" text-anchor="middle">60</text><text transform="translate(660.26 281.9) scale(1 0.95)" text-anchor="middle">70</text><text transform="translate(688.47 281.9) scale(1 0.95)" text-anchor="middle">80</text><text transform="translate(716.68 281.9) scale(1 0.95)" text-anchor="middle">90</text><text transform="translate(744.89 281.9) scale(1 0.95)" text-anchor="middle">100</text><text transform="translate(773.1 281.9) scale(1 0.95)" text-anchor="middle">110</text></g>
<text transform="translate(451.9 146.2) rotate(-90) scale(1 0.9)" text-anchor="middle" font-family="Liberation Serif, serif" font-weight="bold" font-size="13" fill="#1c1cc8">DBE</text>
<text x="624.7" y="302.2" text-anchor="middle" font-family="Liberation Serif, serif" font-weight="bold" font-size="13.5" fill="#1c1cc8">Carbon Number</text>
<rect x="330.4" y="0" width="17.4" height="11.95" fill="#050505"/>
<rect x="330.4" y="11.35" width="17.4" height="11.95" fill="#2c0a14"/>
<rect x="330.4" y="22.7" width="17.4" height="11.95" fill="#320a12"/>
<rect x="330.4" y="34.05" width="17.4" height="11.95" fill="#6a0004"/>
<rect x="330.4" y="45.4" width="17.4" height="11.95" fill="#ff0000"/>
<rect x="330.4" y="56.75" width="17.4" height="11.95" fill="#ff8000"/>
<rect x="330.4" y="68.1" width="17.4" height="11.95" fill="#eeff10"/>
<rect x="330.4" y="79.45" width="17.4" height="11.95" fill="#80ff00"/>
<rect x="330.4" y="90.8" width="17.4" height="11.95" fill="#22b422"/>
<rect x="330.4" y="102.15" width="17.4" height="11.95" fill="#2030ff"/>
<rect x="330.4" y="113.5" width="17.4" height="11.95" fill="#4a5aff"/>
<rect x="330.4" y="124.85" width="17.4" height="11.95" fill="#b8fcf0"/>
<path d="M330.4 0V136.2H347.8V0" fill="none" stroke="#333" stroke-width="1"/>
<path d="M347.8 11.35H352M347.8 22.7H352M347.8 34.05H352M347.8 45.4H352M347.8 56.75H352M347.8 68.1H352M347.8 79.45H352M347.8 90.8H352M347.8 102.15H352M347.8 113.5H352M347.8 124.85H352" stroke="#333" stroke-width="0.9"/>
<g font-family="Liberation Sans, sans-serif" font-size="6.6" fill="#222" stroke="#222" stroke-width="0.15"><text x="354.6" y="13.7">10000</text><text x="354.6" y="25.05">3981</text><text x="354.6" y="36.4">1585</text><text x="354.6" y="47.75">631.0</text><text x="354.6" y="59.1">251.2</text><text x="354.6" y="70.45">100.0</text><text x="354.6" y="81.8">39.81</text><text x="354.6" y="93.15">15.85</text><text x="354.6" y="104.5">6.310</text><text x="354.6" y="115.85">2.512</text><text x="354.6" y="127.2">1.000</text></g>
<g font-family="Liberation Sans, sans-serif" font-weight="bold" font-size="12.2" fill="#111">
<text x="150.1" y="36.1">N[H]</text>
<text x="607.4" y="39.8">NO</text><text x="625.3" y="44.4" font-size="7.4">2</text><text x="629.6" y="39.8">[H]</text>
</g>
</svg></body></html>
